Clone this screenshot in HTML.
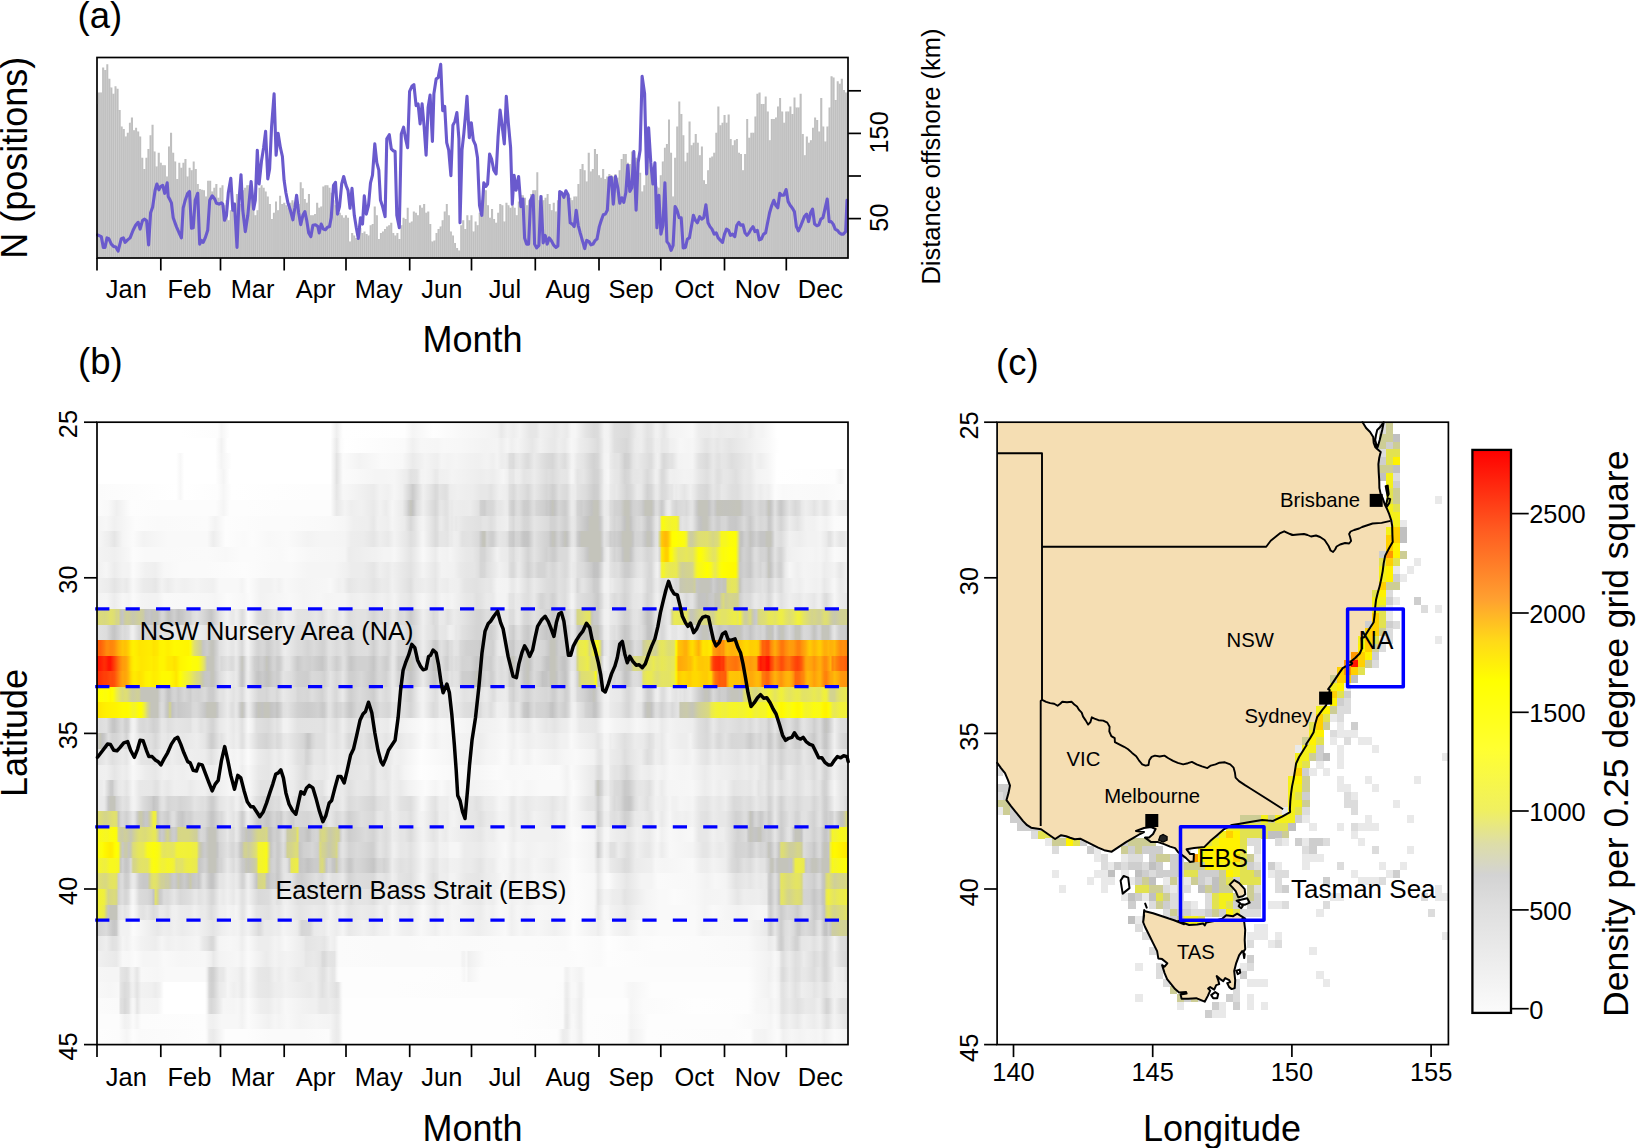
<!DOCTYPE html>
<html lang="en"><head><meta charset="utf-8"><title>Figure</title>
<style>html,body{margin:0;padding:0;background:#fff}body{width:1637px;height:1148px;overflow:hidden}#wrap{position:relative;width:1637px;height:1148px;background:#fff;overflow:hidden}svg{display:block;position:absolute;left:0;top:0}.hr{position:absolute;left:97px;width:751px;height:15.9px}text{font-family:"Liberation Sans", Arial, sans-serif;fill:#000}</style>
</head><body>
<div id="wrap">
<div class="hr" style="top:422.2px;background:linear-gradient(90deg,#fff 1px,#fff 83.3px,#fdfdfd 120.4px,#f6f6f6 124.5px,#fff 132.7px,#fff 215px,#fff 233.5px,#eee 239.7px,#fff 245.9px,#fefefe 307.6px,#f5f5f5 315.8px,#fefefe 336.4px,#f8f8f8 365.2px,#f5f5f5 387.8px,#f2f2f2 400.2px,#e9e9e9 404.3px,#f2f2f2 410.5px,#eee 416.7px,#f4f4f4 422.8px,#e6e6e6 433.1px,#e6e6e6 439.3px,#f0f0f0 443.4px,#ebebeb 453.7px,#e8e8e8 457.8px,#eee 464px,#eaeaea 470.1px,#f6f6f6 474.3px,#f6f6f6 478.4px,#e4e4e4 488.7px,#dbdbdb 496.9px,#dcdcdc 501px,#f3f3f3 507.2px,#f2f2f2 511.3px,#dfdfdf 517.5px,#dbdbdb 531.9px,#ededed 540.1px,#eee 544.2px,#e3e3e3 550.4px,#e6e6e6 554.5px,#f1f1f1 558.6px,#f2f2f2 560.7px,#e6e6e6 566.9px,#f3f3f3 573px,#f6f6f6 587.4px,#f8f8f8 595.7px,#ededed 601.8px,#ebebeb 612.1px,#efefef 616.2px,#ebebeb 622.4px,#ededed 630.6px,#ebebeb 640.9px,#f0f0f0 649.2px,#ededed 653.3px,#f4f4f4 659.4px,#f4f4f4 665.6px,#fff 680px,#fff 750px)"></div>
<div class="hr" style="top:437.8px;background:linear-gradient(90deg,#fff 1px,#fff 83.3px,#fff 118.3px,#f2f2f2 124.5px,#fff 130.7px,#fff 213px,#fff 233.5px,#e9e9e9 239.7px,#fbfbfb 243.8px,#fff 247.9px,#fafafa 307.6px,#f0f0f0 315.8px,#f7f7f7 324.1px,#f6f6f6 340.5px,#f8f8f8 346.7px,#f7f7f7 363.2px,#f3f3f3 387.8px,#f4f4f4 400.2px,#eee 404.3px,#f5f5f5 410.5px,#efefef 414.6px,#f4f4f4 420.8px,#e6e6e6 435.2px,#f1f1f1 443.4px,#e9e9e9 453.7px,#e8e8e8 457.8px,#eee 461.9px,#eaeaea 468.1px,#f7f7f7 474.3px,#f4f4f4 478.4px,#ededed 482.5px,#e7e7e7 490.7px,#dcdcdc 501px,#e8e8e8 505.1px,#f2f2f2 507.2px,#f3f3f3 511.3px,#dfdfdf 517.5px,#d7d7d7 529.8px,#dfdfdf 533.9px,#ebebeb 538px,#eee 544.2px,#e1e1e1 550.4px,#e3e3e3 554.5px,#efefef 558.6px,#eee 562.7px,#e7e7e7 564.8px,#eaeaea 571px,#f0f0f0 573px,#f1f1f1 577.1px,#f7f7f7 583.3px,#f5f5f5 591.5px,#f6f6f6 595.7px,#e5e5e5 608px,#e4e4e4 610.1px,#ebebeb 616.2px,#e6e6e6 620.3px,#eaeaea 624.5px,#e4e4e4 632.7px,#f3f3f3 659.4px,#fafafa 673.8px,#fff 682.1px,#fff 750px)"></div>
<div class="hr" style="top:453.3px;background:linear-gradient(90deg,#fff 1px,#fff 79.2px,#f7f7f7 83.3px,#fff 87.4px,#fff 118.3px,#f4f4f4 124.5px,#fff 134.8px,#fff 217.1px,#fff 233.5px,#eee 237.6px,#e2e2e2 239.7px,#fbfbfb 245.9px,#f3f3f3 262.3px,#fafafa 285px,#f8f8f8 305.5px,#eaeaea 315.8px,#f4f4f4 328.2px,#f0f0f0 336.4px,#efefef 340.5px,#f5f5f5 344.6px,#f3f3f3 350.8px,#f5f5f5 359px,#f2f2f2 369.3px,#f0f0f0 381.7px,#f3f3f3 389.9px,#efefef 396.1px,#f4f4f4 400.2px,#ededed 404.3px,#eee 408.4px,#eaeaea 410.5px,#dedede 412.5px,#dbdbdb 416.7px,#e5e5e5 418.7px,#e9e9e9 422.8px,#ddd 429px,#dbdbdb 431.1px,#eaeaea 437.2px,#dadada 449.6px,#d6d6d6 455.7px,#e5e5e5 461.9px,#dcdcdc 468.1px,#eaeaea 472.2px,#f3f3f3 474.3px,#f4f4f4 476.3px,#e9e9e9 480.4px,#e4e4e4 486.6px,#d8d8d8 492.8px,#d2d2d2 496.9px,#d6d6d6 501px,#f3f3f3 507.2px,#f5f5f5 511.3px,#ebebeb 513.4px,#e4e4e4 517.5px,#e4e4e4 521.6px,#d8d8d8 525.7px,#cfcfcf 527.8px,#d2d2d2 531.9px,#e4e4e4 536px,#eaeaea 540.1px,#e1e1e1 548.3px,#dcdcdc 552.4px,#ddd 554.5px,#ededed 558.6px,#f1f1f1 560.7px,#ebebeb 562.7px,#dedede 564.8px,#d8d8d8 566.9px,#e3e3e3 573px,#e2e2e2 575.1px,#f3f3f3 581.3px,#f4f4f4 587.4px,#f4f4f4 591.5px,#f5f5f5 595.7px,#e2e2e2 601.8px,#dadada 610.1px,#e9e9e9 616.2px,#e2e2e2 620.3px,#e1e1e1 622.4px,#e6e6e6 624.5px,#e5e5e5 628.6px,#ddd 634.7px,#e3e3e3 643px,#e9e9e9 649.2px,#e9e9e9 653.3px,#f2f2f2 657.4px,#eee 663.6px,#fff 680px,#fff 750px)"></div>
<div class="hr" style="top:468.9px;background:linear-gradient(90deg,#fff 1px,#fff 79.2px,#f7f7f7 83.3px,#fff 87.4px,#fff 118.3px,#f4f4f4 126.5px,#fff 132.7px,#fff 215px,#fff 233.5px,#ededed 237.6px,#e1e1e1 239.7px,#fbfbfb 245.9px,#f5f5f5 278.8px,#f5f5f5 287px,#f6f6f6 297.3px,#ececec 309.7px,#e1e1e1 313.8px,#e4e4e4 319.9px,#f3f3f3 324.1px,#f4f4f4 328.2px,#f0f0f0 334.3px,#e9e9e9 338.5px,#eaeaea 340.5px,#f0f0f0 342.6px,#f1f1f1 350.8px,#f4f4f4 354.9px,#ededed 383.7px,#efefef 389.9px,#ededed 396.1px,#f6f6f6 406.4px,#f0f0f0 410.5px,#e7e7e7 412.5px,#e6e6e6 416.7px,#eee 418.7px,#ededed 422.8px,#e4e4e4 426.9px,#e6e6e6 433.1px,#ececec 437.2px,#ddd 449.6px,#dfdfdf 451.6px,#dbdbdb 455.7px,#e6e6e6 464px,#e5e5e5 470.1px,#f5f5f5 474.3px,#f4f4f4 476.3px,#e4e4e4 480.4px,#e6e6e6 486.6px,#d2d2d2 496.9px,#d3d3d3 501px,#e4e4e4 505.1px,#f2f2f2 507.2px,#f7f7f7 511.3px,#ededed 513.4px,#e7e7e7 517.5px,#e5e5e5 521.6px,#d4d4d4 527.8px,#d8d8d8 531.9px,#e5e5e5 536px,#e7e7e7 544.2px,#d9d9d9 550.4px,#e1e1e1 554.5px,#f0f0f0 558.6px,#eee 560.7px,#d9d9d9 564.8px,#dadada 566.9px,#f0f0f0 573px,#efefef 577.1px,#f3f3f3 587.4px,#f2f2f2 595.7px,#e7e7e7 601.8px,#dfdfdf 610.1px,#e9e9e9 616.2px,#dfdfdf 620.3px,#dfdfdf 622.4px,#e7e7e7 626.5px,#e6e6e6 630.6px,#dedede 638.9px,#eaeaea 647.1px,#e9e9e9 653.3px,#f3f3f3 659.4px,#f6f6f6 671.8px,#fff 680px,#fdfdfd 737.6px,#f5f5f5 743.8px,#fff 750px)"></div>
<div class="hr" style="top:484.4px;background:linear-gradient(90deg,#fbfbfb 1px,#fff 79.2px,#f7f7f7 83.3px,#fff 87.4px,#fdfdfd 120.4px,#f6f6f6 126.5px,#fff 134.8px,#fdfdfd 217.1px,#fdfdfd 233.5px,#e5e5e5 239.7px,#f7f7f7 245.9px,#f6f6f6 250px,#f1f1f1 262.3px,#ebebeb 276.7px,#f3f3f3 282.9px,#f0f0f0 291.1px,#f6f6f6 297.3px,#efefef 305.5px,#dadada 311.7px,#cacaca 315.8px,#f0f0f0 326.1px,#e3e3e3 334.3px,#d9d9d9 338.5px,#dbdbdb 340.5px,#e4e4e4 342.6px,#dfdfdf 348.8px,#e3e3e3 350.8px,#ededed 352.9px,#f0f0f0 361.1px,#eee 367.3px,#ededed 375.5px,#e7e7e7 383.7px,#e7e7e7 389.9px,#e2e2e2 394px,#f0f0f0 402.2px,#eee 408.4px,#ebebeb 410.5px,#dfdfdf 412.5px,#d9d9d9 416.7px,#e5e5e5 420.8px,#dedede 426.9px,#d7d7d7 431.1px,#e8e8e8 437.2px,#d6d6d6 449.6px,#d8d8d8 451.6px,#cfcfcf 455.7px,#d2d2d2 457.8px,#e1e1e1 461.9px,#dcdcdc 466px,#dadada 470.1px,#ededed 474.3px,#ececec 478.4px,#e3e3e3 480.4px,#dcdcdc 488.7px,#cdcdcd 496.9px,#cfcfcf 501px,#f1f1f1 507.2px,#f4f4f4 511.3px,#eaeaea 513.4px,#e6e6e6 517.5px,#e8e8e8 519.5px,#d3d3d3 529.8px,#d8d8d8 533.9px,#eaeaea 540.1px,#e8e8e8 544.2px,#d1d1d1 550.4px,#d7d7d7 554.5px,#e9e9e9 558.6px,#eaeaea 560.7px,#d9d9d9 564.8px,#dcdcdc 568.9px,#e6e6e6 573px,#e5e5e5 575.1px,#ededed 577.1px,#eaeaea 579.2px,#ededed 581.3px,#e5e5e5 587.4px,#ececec 591.5px,#f0f0f0 593.6px,#e7e7e7 597.7px,#dcdcdc 601.8px,#d6d6d6 610.1px,#e7e7e7 616.2px,#e0e0e0 620.3px,#e1e1e1 622.4px,#e8e8e8 624.5px,#e6e6e6 628.6px,#dedede 634.7px,#ddd 640.9px,#e8e8e8 647.1px,#e6e6e6 653.3px,#f0f0f0 659.4px,#ececec 663.6px,#f1f1f1 667.7px,#efefef 671.8px,#fcfcfc 678px,#f9f9f9 686.2px,#fafafa 698.5px,#f9f9f9 727.3px,#fcfcfc 745.9px,#fbfbfb 750px)"></div>
<div class="hr" style="top:500px;background:linear-gradient(90deg,#fbfbfb 1px,#f9f9f9 11.3px,#efefef 19.5px,#fdfdfd 33.9px,#fcfcfc 64.8px,#fcfcfc 118.3px,#f5f5f5 126.5px,#fdfdfd 132.7px,#fdfdfd 149.2px,#fcfcfc 186.2px,#fcfcfc 233.5px,#e8e8e8 239.7px,#f4f4f4 247.9px,#eee 254.1px,#f1f1f1 264.4px,#e9e9e9 276.7px,#f2f2f2 282.9px,#ebebeb 289.1px,#f6f6f6 295.3px,#ebebeb 305.5px,#d8d8d8 309.7px,#cacaca 311.7px,#c4c4bb 313.8px,#c2c2c2 315.8px,#ddd 319.9px,#efefef 326.1px,#d6d6d6 338.5px,#dbdbdb 340.5px,#e5e5e5 342.6px,#e7e7e7 344.6px,#e1e1e1 348.8px,#e3e3e3 350.8px,#ebebeb 352.9px,#e9e9e9 354.9px,#ededed 357px,#ebebeb 367.3px,#ececec 373.4px,#e1e1e1 381.7px,#d0d0d0 383.7px,#cdcdcd 387.8px,#d6d6d6 389.9px,#d8d8d8 396.1px,#e6e6e6 400.2px,#e7e7e7 404.3px,#ececec 408.4px,#eaeaea 410.5px,#d9d9d9 412.5px,#d0d0d0 414.6px,#cdcdcd 416.7px,#d9d9d9 418.7px,#dedede 420.8px,#dcdcdc 422.8px,#cdcdcd 426.9px,#ccc 431.1px,#dbdbdb 435.2px,#dedede 437.2px,#d6d6d6 439.3px,#cecece 447.5px,#c9c9c9 449.6px,#cacaca 451.6px,#c3c3c3 453.7px,#c4c4bb 455.7px,#c3c3c3 457.8px,#d5d5d5 461.9px,#cbcbcb 468.1px,#d1d1d1 470.1px,#ebebeb 474.3px,#ebebeb 476.3px,#e4e4e4 478.4px,#d3d3d3 480.4px,#cecece 484.5px,#d1d1d1 486.6px,#c2c2c1 494.8px,#c4c4bb 496.9px,#c4c4bb 501px,#cfcfcf 503.1px,#ebebeb 507.2px,#e9e9e9 511.3px,#dbdbdb 513.4px,#d9d9d9 515.4px,#d2d2d2 517.5px,#d1d1d1 521.6px,#cfcfcf 523.6px,#c4c4bb 527.8px,#c4c4bb 531.9px,#c7c7c7 533.9px,#d1d1d1 536px,#d4d4d4 540.1px,#cfcfcf 544.2px,#c7c7c7 546.3px,#c4c4bb 548.3px,#c4c4bb 554.5px,#cbcbcb 556.6px,#dbdbdb 558.6px,#ddd 560.7px,#c9c9c9 564.8px,#d3d3d3 566.9px,#e3e3e3 568.9px,#ececec 571px,#ebebeb 573px,#dedede 575.1px,#d4d4d4 579.2px,#d9d9d9 581.3px,#dcdcdc 587.4px,#d8d8d8 589.5px,#e3e3e3 593.6px,#e3e3e3 595.7px,#c9c9c9 599.8px,#c4c4bb 601.8px,#c4c4bb 610.1px,#c3c3c3 612.1px,#cdcdcd 614.2px,#d2d2d2 616.2px,#c8c8c8 618.3px,#c4c4bb 620.3px,#c3c3be 628.6px,#c4c4bb 640.9px,#c4c4bb 643px,#c7c7c7 645px,#d0d0d0 647.1px,#cecece 653.3px,#d9d9d9 657.4px,#dbdbdb 659.4px,#d2d2d2 663.6px,#d4d4d4 667.7px,#ccc 669.7px,#c4c4bb 671.8px,#c5c5c5 673.8px,#e2e2e2 678px,#cdcdcd 682.1px,#c7c7c7 684.1px,#dedede 690.3px,#e4e4e4 692.4px,#d8d8d8 698.5px,#dedede 702.6px,#e8e8e8 704.7px,#eee 708.8px,#e8e8e8 715px,#e3e3e3 717.1px,#eee 723.2px,#e4e4e4 727.3px,#e4e4e4 729.4px,#f5f5f5 735.6px,#f7f7f7 737.6px,#ededed 743.8px,#ececec 750px)"></div>
<div class="hr" style="top:515.6px;background:linear-gradient(90deg,#f5f5f5 1px,#f7f7f7 9.3px,#f0f0f0 17.5px,#fcfcfc 38.1px,#fafafa 60.7px,#fbfbfb 110.1px,#f3f3f3 118.3px,#fdfdfd 128.6px,#fbfbfb 167.7px,#fbfbfb 192.4px,#f9f9f9 231.5px,#f6f6f6 247.9px,#efefef 256.2px,#eee 270.6px,#e7e7e7 276.7px,#f1f1f1 280.9px,#eee 291.1px,#f5f5f5 295.3px,#ebebeb 307.6px,#d7d7d7 313.8px,#efefef 322px,#f4f4f4 326.1px,#e5e5e5 334.3px,#dbdbdb 338.5px,#dfdfdf 340.5px,#e9e9e9 342.6px,#ebebeb 344.6px,#e3e3e3 348.8px,#e3e3e3 350.8px,#ebebeb 352.9px,#e8e8e8 354.9px,#ececec 357px,#e8e8e8 359px,#ebebeb 361.1px,#e5e5e5 367.3px,#e0e0e0 383.7px,#e4e4e4 385.8px,#e4e4e4 389.9px,#dedede 394px,#e4e4e4 398.1px,#ebebeb 400.2px,#efefef 410.5px,#e1e1e1 412.5px,#d8d8d8 416.7px,#e2e2e2 418.7px,#e1e1e1 422.8px,#d6d6d6 426.9px,#d5d5d5 431.1px,#e5e5e5 437.2px,#dadada 451.6px,#d2d2d2 453.7px,#d2d2d2 457.8px,#dbdbdb 461.9px,#d0d0d0 468.1px,#d2d2d2 470.1px,#e7e7e7 474.3px,#e8e8e8 476.3px,#e4e4e4 478.4px,#d7d7d7 480.4px,#c3c3c3 490.7px,#c4c4bb 492.8px,#c4c4bb 501px,#c5c5c5 503.1px,#d4d4d4 505.1px,#e9e9e9 507.2px,#ededed 511.3px,#dedede 513.4px,#d4d4d4 517.5px,#d7d7d7 519.5px,#d2d2d2 523.6px,#c2c2c2 527.8px,#c4c4bb 529.8px,#c4c4bb 531.9px,#c3c3c3 533.9px,#cfcfcf 536px,#dadada 540.1px,#d9d9d9 542.2px,#ddd 544.2px,#cfcfcf 548.3px,#c6c6c6 550.4px,#c5c5c5 552.4px,#cbcbcb 554.5px,#e4e4e4 558.6px,#e8e8e8 560.7px,#d9d9d9 562.7px,#fafa13 564.8px,#fafa14 566.9px,#f6f623 568.9px,#f2f233 573px,#f5f528 575.1px,#f4f42b 577.1px,#f6f625 579.2px,#eaea4f 581.3px,#dedede 583.3px,#e4e4e4 585.4px,#e0e0e0 589.5px,#e8e8e8 593.6px,#e5e5e5 595.7px,#c6c6c6 601.8px,#c2c2c2 603.9px,#c4c4bb 605.9px,#c4c4bb 610.1px,#d2d2d2 614.2px,#d8d8d8 616.2px,#cdcdcd 620.3px,#cdcdcd 622.4px,#d5d5d5 624.5px,#d6d6d6 628.6px,#c9c9c9 632.7px,#c7c7c7 638.9px,#cfcfcf 643px,#dadada 647.1px,#c9c9c9 653.3px,#dedede 659.4px,#d7d7d7 663.6px,#dadada 667.7px,#d6d6d6 669.7px,#c7c7c7 671.8px,#cbcbcb 673.8px,#e5e5e5 678px,#d3d3d3 684.1px,#ededed 692.4px,#e3e3e3 700.6px,#f2f2f2 708.8px,#f1f1f1 717.1px,#f6f6f6 723.2px,#f2f2f2 729.4px,#fbfbfb 737.6px,#fafafa 750px)"></div>
<div class="hr" style="top:531.1px;background:linear-gradient(90deg,#f6f6f6 1px,#eee 11.3px,#e5e5e5 17.5px,#f5f5f5 25.7px,#fbfbfb 36px,#f3f3f3 46.3px,#f9f9f9 71px,#f9f9f9 110.1px,#ededed 116.3px,#fdfdfd 128.6px,#fafafa 147.1px,#fcfcfc 155.3px,#f8f8f8 171.8px,#fafafa 190.3px,#f3f3f3 210.9px,#f5f5f5 223.2px,#f5f5f5 235.6px,#f4f4f4 247.9px,#ededed 254.1px,#ececec 266.5px,#e5e5e5 276.7px,#eee 282.9px,#e9e9e9 291.1px,#f3f3f3 297.3px,#e6e6e6 309.7px,#dedede 313.8px,#e3e3e3 317.9px,#f3f3f3 324.1px,#f6f6f6 326.1px,#dbdbdb 338.5px,#ddd 340.5px,#e6e6e6 342.6px,#e6e6e6 346.7px,#e4e4e4 350.8px,#ebebeb 352.9px,#eaeaea 354.9px,#efefef 357px,#ededed 361.1px,#e1e1e1 365.2px,#e2e2e2 373.4px,#d9d9d9 381.7px,#cacaca 383.7px,#c4c4bb 385.8px,#c4c4bb 387.8px,#d6d6d6 389.9px,#cecece 394px,#cecece 396.1px,#e1e1e1 400.2px,#e6e6e6 402.2px,#e3e3e3 408.4px,#dedede 410.5px,#cecece 412.5px,#c8c8c8 416.7px,#d5d5d5 418.7px,#d4d4d4 422.8px,#cacaca 424.9px,#c5c5c5 426.9px,#c4c4c4 431.1px,#e2e2e2 437.2px,#dbdbdb 441.3px,#cfcfcf 451.6px,#c4c4c4 453.7px,#c4c4bb 455.7px,#c3c3bf 457.8px,#cdcdcd 459.9px,#d3d3d3 461.9px,#c6c6c6 466px,#c4c4bb 468.1px,#c2c2c1 470.1px,#e3e3e3 474.3px,#e7e7e7 476.3px,#e0e0e0 478.4px,#cdcdcd 480.4px,#c4c4c4 482.5px,#c4c4bb 484.5px,#c4c4bb 503.1px,#cfcfcf 505.1px,#e3e3e3 507.2px,#dcdcdc 511.3px,#cecece 513.4px,#d0d0d0 515.4px,#ccc 517.5px,#cecece 519.5px,#c7c7c7 523.6px,#c4c4bb 525.7px,#c4c4bb 533.9px,#c5c5c5 536px,#d4d4d4 538px,#d5d5d5 544.2px,#c6c6c6 548.3px,#c4c4bb 550.4px,#c4c4bb 552.4px,#c4c4c4 554.5px,#e0e0e0 558.6px,#e2e2e2 560.7px,#d5d58a 562.7px,#ffca03 564.8px,#ffbe07 566.9px,#ffb808 568.9px,#ffc305 571px,#fffd00 575.1px,#ff0 579.2px,#fcfc0b 581.3px,#fdfd08 583.3px,#fbfb12 587.4px,#f1f137 589.5px,#d6d686 591.5px,#cccca2 593.6px,#cece9c 595.7px,#d9d97e 599.8px,#dede74 601.8px,#dfdf6f 608px,#e0e06e 610.1px,#d6d686 616.2px,#dada7c 618.3px,#dbdb7a 620.3px,#e4e461 622.4px,#f7f71f 624.5px,#f7f71f 628.6px,#fcfc0b 632.7px,#fdfd06 638.9px,#e5e560 640.9px,#c4c4bb 643px,#c2c2c2 645px,#cdcdcd 647.1px,#d0d0d0 649.2px,#cbcbcb 651.2px,#c3c3bf 653.3px,#c5c5c5 655.3px,#d1d1d1 659.4px,#c5c5c5 663.6px,#c5c5c5 667.7px,#c4c4bb 669.7px,#c4c4bb 673.8px,#cfcfcf 675.9px,#e4e4e4 678px,#dcdcdc 684.1px,#f1f1f1 692.4px,#ededed 702.6px,#f2f2f2 710.9px,#f2f2f2 719.1px,#f4f4f4 723.2px,#eaeaea 729.4px,#e2e2e2 731.5px,#e2e2e2 733.5px,#f1f1f1 737.6px,#e5e5e5 743.8px,#e8e8e8 747.9px,#f0f0f0 750px)"></div>
<div class="hr" style="top:546.7px;background:linear-gradient(90deg,#f3f3f3 1px,#f1f1f1 11.3px,#efefef 17.5px,#f7f7f7 31.9px,#fcfcfc 36px,#f9f9f9 48.4px,#f9f9f9 62.8px,#fafafa 110.1px,#f8f8f8 128.6px,#fbfbfb 143px,#fbfbfb 155.3px,#f9f9f9 184.1px,#fbfbfb 192.4px,#f7f7f7 213px,#f6f6f6 237.6px,#f5f5f5 247.9px,#ececec 252px,#f0f0f0 272.6px,#f1f1f1 278.8px,#f4f4f4 287px,#f4f4f4 293.2px,#f7f7f7 297.3px,#eee 305.5px,#e4e4e4 313.8px,#f9f9f9 326.1px,#ebebeb 338.5px,#f4f4f4 342.6px,#f2f2f2 350.8px,#f5f5f5 352.9px,#ececec 363.2px,#e8e8e8 369.3px,#e7e7e7 375.5px,#dfdfdf 381.7px,#d4d4d4 383.7px,#d4d4d4 387.8px,#dcdcdc 389.9px,#e2e2e2 394px,#f2f2f2 400.2px,#ececec 404.3px,#eaeaea 410.5px,#e0e0e0 412.5px,#dbdbdb 416.7px,#e4e4e4 418.7px,#e8e8e8 422.8px,#d3d3d3 431.1px,#e3e3e3 437.2px,#d0d0d0 449.6px,#d4d4d4 451.6px,#ccc 455.7px,#ccc 457.8px,#dadada 461.9px,#dadada 470.1px,#ececec 474.3px,#eee 476.3px,#eaeaea 478.4px,#e0e0e0 480.4px,#d3d3d3 486.6px,#c5c5c5 490.7px,#c4c4bb 492.8px,#c4c4bb 503.1px,#c9c9c9 505.1px,#e2e2e2 507.2px,#ebebeb 509.2px,#efefef 511.3px,#e0e0e0 513.4px,#d3d3d3 517.5px,#d7d7d7 519.5px,#d0d0d0 523.6px,#c4c4c4 525.7px,#c4c4bb 527.8px,#c4c4bb 531.9px,#c3c3c3 533.9px,#dadada 538px,#dfdfdf 540.1px,#e1e1e1 544.2px,#d5d5d5 550.4px,#d8d8d8 554.5px,#e6e6e6 558.6px,#e9e9e9 560.7px,#d6d6d6 562.7px,#ffe800 564.8px,#ffce02 568.9px,#ffd201 571px,#fff800 573px,#fbfb0e 575.1px,#f2f233 577.1px,#ecec47 579.2px,#e3e365 581.3px,#e4e463 585.4px,#e7e75a 589.5px,#e3e366 593.6px,#e3e364 595.7px,#fdfd08 601.8px,#fdfd09 603.9px,#fafa15 605.9px,#e8e856 614.2px,#e4e462 616.2px,#e5e561 618.3px,#f5f527 622.4px,#fafa14 624.5px,#fcfc0a 626.5px,#fcfc0e 628.6px,#ffff02 632.7px,#fefe02 638.9px,#e3e365 640.9px,#c4c4bb 643px,#ccc 645px,#d2d2d2 647.1px,#c7c7c7 653.3px,#dcdcdc 657.4px,#dedede 659.4px,#d3d3d3 663.6px,#d4d4d4 667.7px,#cfcfcf 669.7px,#c3c3be 671.8px,#c9c9c9 673.8px,#e3e3e3 678px,#d5d5d5 682.1px,#d3d3d3 684.1px,#eee 690.3px,#f1f1f1 694.4px,#f4f4f4 706.8px,#f5f5f5 715px,#f3f3f3 719.1px,#f5f5f5 723.2px,#eee 729.4px,#fafafa 737.6px,#f5f5f5 750px)"></div>
<div class="hr" style="top:562.2px;background:linear-gradient(90deg,#f1f1f1 1px,#f6f6f6 9.3px,#ececec 17.5px,#f3f3f3 25.7px,#f3f3f3 31.9px,#fbfbfb 36px,#f1f1f1 48.4px,#efefef 58.6px,#f7f7f7 66.9px,#fafafa 83.3px,#fafafa 108px,#fbfbfb 128.6px,#fcfcfc 147.1px,#fbfbfb 157.4px,#f9f9f9 173.9px,#f9f9f9 194.4px,#f5f5f5 210.9px,#f5f5f5 237.6px,#f0f0f0 250px,#ececec 254.1px,#ececec 266.5px,#e5e5e5 276.7px,#efefef 282.9px,#eaeaea 291.1px,#f0f0f0 295.3px,#e2e2e2 313.8px,#f4f4f4 326.1px,#e7e7e7 338.5px,#f3f3f3 344.6px,#f1f1f1 357px,#e9e9e9 363.2px,#e6e6e6 369.3px,#e5e5e5 377.6px,#dfdfdf 381.7px,#d5d5d5 383.7px,#d7d7d7 387.8px,#dfdfdf 389.9px,#eaeaea 398.1px,#f1f1f1 402.2px,#ebebeb 410.5px,#dfdfdf 412.5px,#d9d9d9 414.6px,#d9d9d9 416.7px,#e9e9e9 420.8px,#e9e9e9 422.8px,#d0d0d0 431.1px,#dfdfdf 437.2px,#d4d4d4 441.3px,#d4d4d4 447.5px,#ddd 451.6px,#d6d6d6 455.7px,#d7d7d7 457.8px,#e1e1e1 461.9px,#d9d9d9 468.1px,#dbdbdb 470.1px,#ececec 474.3px,#e8e8e8 478.4px,#dfdfdf 480.4px,#dbdbdb 486.6px,#cacaca 494.8px,#c2c2c2 496.9px,#c3c3c3 501px,#dcdcdc 505.1px,#eee 507.2px,#efefef 511.3px,#e3e3e3 513.4px,#ddd 517.5px,#dedede 521.6px,#ccc 527.8px,#ccc 531.9px,#e3e3e3 540.1px,#e7e7e7 544.2px,#d6d6d6 552.4px,#d8d8d8 554.5px,#ededed 558.6px,#f2f2f2 560.7px,#e3e3e3 562.7px,#f4f42d 564.8px,#f4f42c 566.9px,#ecec49 568.9px,#e8e856 573px,#e9e951 575.1px,#e8e855 577.1px,#eaea4e 579.2px,#d4d48c 583.3px,#cfcf9a 585.4px,#d2d290 589.5px,#d3d38e 593.6px,#d6d688 595.7px,#e8e855 597.7px,#f5f527 599.8px,#f9f919 601.8px,#f9f917 603.9px,#ff0 610.1px,#fdfd09 612.1px,#f8f81d 614.2px,#efef40 616.2px,#e9e953 618.3px,#f8f81b 622.4px,#fdfd07 624.5px,#fffd00 626.5px,#fff900 636.8px,#fffa00 638.9px,#c7c7c7 643px,#d0d0d0 647.1px,#c6c6c6 653.3px,#d9d9d9 657.4px,#dcdcdc 659.4px,#d4d4d4 663.6px,#dbdbdb 665.6px,#dadada 667.7px,#d1d1d1 669.7px,#c4c4bb 671.8px,#c5c5c5 673.8px,#e0e0e0 678px,#d1d1d1 682.1px,#d0d0d0 684.1px,#eaeaea 688.2px,#f7f7f7 692.4px,#efefef 700.6px,#f4f4f4 706.8px,#f2f2f2 719.1px,#f3f3f3 723.2px,#ececec 727.3px,#f3f3f3 737.6px,#e6e6e6 743.8px,#f1f1f1 750px)"></div>
<div class="hr" style="top:577.8px;background:linear-gradient(90deg,#f0f0f0 1px,#ececec 11.3px,#e4e4e4 17.5px,#ededed 25.7px,#e9e9e9 29.8px,#f8f8f8 36px,#ebebeb 46.3px,#e9e9e9 54.5px,#e6e6e6 58.6px,#f2f2f2 64.8px,#ececec 71px,#f3f3f3 79.2px,#f0f0f0 87.4px,#f4f4f4 99.8px,#f2f2f2 106px,#f0f0f0 116.3px,#f8f8f8 122.4px,#f8f8f8 140.9px,#f4f4f4 145.1px,#fcfcfc 151.2px,#f2f2f2 163.6px,#f2f2f2 173.9px,#f5f5f5 178px,#f2f2f2 182.1px,#f8f8f8 188.3px,#f4f4f4 204.7px,#f6f6f6 229.4px,#f8f8f8 233.5px,#f0f0f0 241.8px,#f2f2f2 245.9px,#e6e6e6 252px,#ebebeb 262.3px,#e9e9e9 270.6px,#e3e3e3 276.7px,#ebebeb 285px,#e9e9e9 291.1px,#f1f1f1 295.3px,#e3e3e3 309.7px,#dedede 313.8px,#e9e9e9 317.9px,#eee 328.2px,#e8e8e8 336.4px,#e5e5e5 338.5px,#efefef 342.6px,#ececec 350.8px,#f0f0f0 352.9px,#efefef 361.1px,#e5e5e5 367.3px,#e1e1e1 379.6px,#e7e7e7 389.9px,#e6e6e6 394px,#f4f4f4 400.2px,#f3f3f3 410.5px,#e9e9e9 414.6px,#e9e9e9 416.7px,#f1f1f1 420.8px,#dedede 431.1px,#eaeaea 437.2px,#dcdcdc 449.6px,#d8d8d8 457.8px,#e1e1e1 461.9px,#dcdcdc 468.1px,#e6e6e6 472.2px,#efefef 474.3px,#ededed 476.3px,#e6e6e6 478.4px,#d7d7d7 480.4px,#e3e3e3 484.5px,#e4e4e4 486.6px,#d4d4d4 494.8px,#ccc 496.9px,#cdcdcd 501px,#f2f2f2 507.2px,#f2f2f2 511.3px,#eaeaea 513.4px,#ebebeb 515.4px,#e6e6e6 517.5px,#e0e0e0 523.6px,#d6d6d6 527.8px,#dbdbdb 531.9px,#e9e9e9 538px,#ececec 544.2px,#e1e1e1 548.3px,#d8d8d8 550.4px,#d8d8d8 554.5px,#e9e9e9 558.6px,#ececec 560.7px,#ddd 564.8px,#dbdbdb 566.9px,#e8e8e8 573px,#d7d7d7 579.2px,#dadada 581.3px,#c7c7b3 583.3px,#cacaaa 589.5px,#c9c9ac 593.6px,#cacaa9 595.7px,#cece9d 597.7px,#c5c5c5 599.8px,#c4c4bb 603.9px,#c4c4bb 612.1px,#c4c4c4 614.2px,#cecece 616.2px,#c3c3c3 620.3px,#c4c4bd 622.4px,#c5c5c5 624.5px,#c4c4bb 626.5px,#c4c4bb 628.6px,#e1e16b 630.6px,#e2e268 632.7px,#e6e65b 634.7px,#e5e55f 638.9px,#dada7d 640.9px,#c4c4bb 643px,#d0d0d0 645px,#d7d7d7 647.1px,#d3d3d3 653.3px,#e0e0e0 659.4px,#dfdfdf 663.6px,#e3e3e3 665.6px,#ddd 669.7px,#d3d3d3 671.8px,#dfdfdf 675.9px,#e9e9e9 678px,#dbdbdb 684.1px,#eaeaea 688.2px,#f2f2f2 696.5px,#eee 702.6px,#f4f4f4 708.8px,#f0f0f0 719.1px,#f2f2f2 723.2px,#e8e8e8 727.3px,#ededed 731.5px,#f5f5f5 735.6px,#f7f7f7 737.6px,#e9e9e9 743.8px,#efefef 750px)"></div>
<div class="hr" style="top:593.4px;background:linear-gradient(90deg,#f4f4f4 1px,#f5f5f5 9.3px,#ececec 17.5px,#f6f6f6 25.7px,#f3f3f3 31.9px,#fafafa 36px,#f4f4f4 44.2px,#f2f2f2 54.5px,#f2f2f2 60.7px,#f9f9f9 66.9px,#f7f7f7 110.1px,#f5f5f5 118.3px,#fbfbfb 130.7px,#f7f7f7 147.1px,#fbfbfb 153.3px,#f2f2f2 163.6px,#f6f6f6 184.1px,#f8f8f8 192.4px,#f4f4f4 206.8px,#f6f6f6 223.2px,#f4f4f4 229.4px,#f5f5f5 237.6px,#f5f5f5 247.9px,#eee 254.1px,#f1f1f1 264.4px,#ebebeb 276.7px,#f1f1f1 285px,#ededed 291.1px,#f4f4f4 297.3px,#ebebeb 303.5px,#e8e8e8 309.7px,#e3e3e3 313.8px,#f0f0f0 319.9px,#f6f6f6 326.1px,#e9e9e9 338.5px,#f4f4f4 344.6px,#f1f1f1 350.8px,#f4f4f4 354.9px,#e7e7e7 369.3px,#e6e6e6 375.5px,#e0e0e0 379.6px,#e2e2e2 383.7px,#eaeaea 389.9px,#e9e9e9 396.1px,#f3f3f3 400.2px,#f3f3f3 408.4px,#efefef 410.5px,#e4e4e4 412.5px,#e2e2e2 416.7px,#eaeaea 418.7px,#e9e9e9 422.8px,#e1e1e1 426.9px,#dedede 431.1px,#e9e9e9 437.2px,#d5d5d5 443.4px,#d4d4d4 445.5px,#dadada 449.6px,#dadada 451.6px,#d0d0d0 455.7px,#d3d3d3 457.8px,#e2e2e2 461.9px,#dcdcdc 468.1px,#e9e9e9 472.2px,#f3f3f3 474.3px,#f2f2f2 476.3px,#e0e0e0 480.4px,#d5d5d5 494.8px,#ccc 499px,#cacaca 501px,#ddd 505.1px,#ececec 507.2px,#f0f0f0 511.3px,#e4e4e4 513.4px,#dbdbdb 517.5px,#dfdfdf 521.6px,#d3d3d3 527.8px,#d9d9d9 531.9px,#e5e5e5 536px,#e8e8e8 544.2px,#d5d5d5 550.4px,#dbdbdb 554.5px,#ececec 558.6px,#f0f0f0 560.7px,#e1e1e1 564.8px,#dfdfdf 566.9px,#ebebeb 573px,#e4e4e4 575.1px,#e5e5e5 577.1px,#dfdfdf 579.2px,#e4e4e4 581.3px,#e4e4e4 585.4px,#dadada 589.5px,#e2e2e2 593.6px,#e2e2e2 595.7px,#c3c3c0 601.8px,#c3c3c3 608px,#c4c4bb 610.1px,#c6c6c6 612.1px,#cacaca 616.2px,#c4c4bb 618.3px,#c4c4bb 622.4px,#d2d290 624.5px,#d9d97f 626.5px,#cfcf98 628.6px,#d4d48d 632.7px,#d3d38d 636.8px,#d1d192 638.9px,#d3d38e 640.9px,#cfcfcf 643px,#dcdcdc 647.1px,#dadada 653.3px,#e7e7e7 657.4px,#e9e9e9 659.4px,#e3e3e3 663.6px,#e6e6e6 667.7px,#d9d9d9 671.8px,#ddd 673.8px,#f0f0f0 678px,#e1e1e1 684.1px,#eee 692.4px,#e8e8e8 702.6px,#efefef 706.8px,#e9e9e9 715px,#e6e6e6 717.1px,#eee 721.2px,#eee 723.2px,#dedede 727.3px,#dcdcdc 729.4px,#f6f6f6 737.6px,#eaeaea 743.8px,#e8e8e8 750px)"></div>
<div class="hr" style="top:608.9px;background:linear-gradient(90deg,#dbdb7a 1px,#dada7d 5.1px,#d8d881 7.2px,#dcdc78 11.3px,#e1e16c 13.4px,#e0e06f 15.4px,#dcdc78 17.5px,#d5d58a 19.5px,#d7d785 21.6px,#c5c5b7 23.7px,#c5c5c5 25.7px,#cccca2 27.8px,#cfcf99 29.8px,#cece9c 31.9px,#c8c8af 36px,#cfcf99 42.2px,#cbcba5 46.3px,#c3c3c0 48.4px,#c6c6c6 52.5px,#c2c2c2 54.5px,#c4c4bb 56.6px,#c4c4bb 60.7px,#ccc 62.8px,#d6d6d6 64.8px,#d4d4d4 66.9px,#cbcbcb 68.9px,#c4c4bc 71px,#c3c3c3 73px,#cfcfcf 77.2px,#c3c3c3 81.3px,#c7c7c7 85.4px,#d0d0d0 89.5px,#d4d4d4 93.6px,#ddd 95.7px,#e2e2e2 99.8px,#d3d3d3 108px,#c5c5c5 114.2px,#e3e3e3 122.4px,#f0f0f0 128.6px,#f2f2f2 130.7px,#e9e9e9 134.8px,#e9e9e9 136.8px,#f0f0f0 138.9px,#ededed 140.9px,#ddd 145.1px,#e3e3e3 147.1px,#fafafa 151.2px,#f1f1f1 155.3px,#e1e1e1 159.5px,#dcdcdc 161.5px,#d8d8d8 169.7px,#e6e6e6 178px,#e0e0e0 180px,#e4e4e4 184.1px,#f0f0f0 188.3px,#eaeaea 196.5px,#e3e3e3 200.6px,#e2e2e2 210.9px,#e7e7e7 219.1px,#e0e0e0 225.3px,#ededed 231.5px,#e5e5e5 239.7px,#eee 245.9px,#dcdcdc 252px,#e2e2e2 260.3px,#e2e2e2 268.5px,#d5d5d5 276.7px,#dfdfdf 282.9px,#dbdbdb 291.1px,#e8e8e8 295.3px,#e8e8e8 297.3px,#dcdcdc 301.4px,#ddd 307.6px,#cbcbcb 313.8px,#efefef 326.1px,#e1e1e1 334.3px,#dadada 336.4px,#dfdfdf 340.5px,#eaeaea 342.6px,#e9e9e9 346.7px,#e1e1e1 350.8px,#ececec 357px,#e4e4e4 365.2px,#d5d5d5 379.6px,#d4d4d4 383.7px,#dedede 389.9px,#dadada 396.1px,#e6e6e6 402.2px,#e7e7e7 406.4px,#e7e7e7 410.5px,#ddd 412.5px,#dcdcdc 416.7px,#e7e7e7 418.7px,#ebebeb 420.8px,#e8e8e8 422.8px,#d8d8d8 426.9px,#d5d5d5 431.1px,#e2e2e2 437.2px,#d3d3d3 449.6px,#d3d3d3 451.6px,#c8c8c8 455.7px,#cacaca 457.8px,#dbdbdb 461.9px,#d3d3d3 468.1px,#ddd 472.2px,#ebebeb 474.3px,#ececec 476.3px,#ddd 478.4px,#d6d686 480.4px,#dd7 486.6px,#e2e269 488.7px,#e4e461 492.8px,#c4c4bb 494.8px,#c9c9c9 496.9px,#cbcbcb 501px,#f0f0f0 507.2px,#f1f1f1 511.3px,#eaeaea 513.4px,#e5e5e5 519.5px,#d1d1d1 527.8px,#d3d3d3 531.9px,#e2e2e2 536px,#e4e4e4 540.1px,#dcdcdc 544.2px,#c3c3c3 550.4px,#c3c3c3 552.4px,#c9c9c9 554.5px,#e3e3e3 558.6px,#e5e5e5 560.7px,#d7d7d7 564.8px,#e9e9e9 571px,#e4e4e4 573px,#d7d783 575.1px,#e8e857 577.1px,#e9e952 579.2px,#e5e55f 585.4px,#e5e55e 589.5px,#c5c5b9 593.6px,#c6c6b6 595.7px,#d6d688 603.9px,#dbdb7b 610.1px,#d1d193 616.2px,#dcdc77 618.3px,#e4e462 620.3px,#e6e65c 622.4px,#e3e366 624.5px,#e3e366 628.6px,#eaea4e 634.7px,#eded44 638.9px,#e5e560 640.9px,#f4f42c 643px,#e0e06f 645px,#cfcf99 647.1px,#cccca1 649.2px,#dada7c 653.3px,#cbcba5 655.3px,#c6c6c6 657.4px,#cacaca 659.4px,#d5d58a 661.5px,#dbdb7a 663.6px,#dede73 667.7px,#e2e268 669.7px,#e8e854 671.8px,#e7e75a 675.9px,#e3e365 678px,#ecec4a 682.1px,#ee4 684.1px,#ebeb4d 686.2px,#e5e55f 688.2px,#dede72 692.4px,#e5e560 696.5px,#ebeb4c 698.5px,#f0f03e 700.6px,#f0f03c 702.6px,#e3e367 706.8px,#d3d38f 715px,#d6d686 717.1px,#d1d193 721.2px,#d1d194 723.2px,#dede73 727.3px,#dede72 729.4px,#d9d980 731.5px,#d0d096 733.5px,#cbcba5 735.6px,#c8c8ae 737.6px,#d1d193 743.8px,#d1d193 747.9px,#d3d38f 750px)"></div>
<div class="hr" style="top:624.5px;background:linear-gradient(90deg,#e1e1e1 1px,#ddd 9.3px,#c8c8c8 15.4px,#c5c5c5 17.5px,#ddd 25.7px,#d9d9d9 27.8px,#dfdfdf 31.9px,#ececec 33.9px,#f0f0f0 36px,#d7d7d7 42.2px,#d8d8d8 52.5px,#d1d1d1 56.6px,#d5d5d5 60.7px,#e4e4e4 64.8px,#e1e1e1 71px,#ebebeb 77.2px,#e4e4e4 83.3px,#e5e5e5 91.6px,#e4e4e4 93.6px,#efefef 99.8px,#e8e8e8 108px,#d8d8d8 114.2px,#ddd 118.3px,#e6e6e6 122.4px,#e9e9e9 126.5px,#f1f1f1 130.7px,#eee 136.8px,#f3f3f3 138.9px,#e3e3e3 145.1px,#f9f9f9 151.2px,#ddd 169.7px,#eaeaea 178px,#e5e5e5 182.1px,#eee 186.2px,#e4e4e4 196.5px,#dedede 200.6px,#dfdfdf 210.9px,#e6e6e6 215px,#e2e2e2 223.2px,#ddd 227.4px,#e9e9e9 231.5px,#ebebeb 233.5px,#dfdfdf 239.7px,#e3e3e3 243.8px,#e9e9e9 245.9px,#dbdbdb 254.1px,#e2e2e2 260.3px,#ddd 272.6px,#dadada 276.7px,#e9e9e9 282.9px,#dfdfdf 289.1px,#dfdfdf 291.1px,#eee 295.3px,#eaeaea 299.4px,#e5e5e5 303.5px,#e1e1e1 307.6px,#d2d2d2 313.8px,#eee 326.1px,#e6e6e6 330.2px,#e3e3e3 334.3px,#dadada 338.5px,#dedede 340.5px,#e7e7e7 342.6px,#e5e5e5 348.8px,#f0f0f0 352.9px,#ededed 357px,#e7e7e7 359px,#e8e8e8 361.1px,#e0e0e0 365.2px,#d4d4d4 379.6px,#d4d4d4 383.7px,#d9d9d9 385.8px,#cecece 394px,#d7d7d7 398.1px,#e7e7e7 402.2px,#ececec 406.4px,#e5e5e5 410.5px,#d4d4d4 412.5px,#ccc 416.7px,#d9d9d9 418.7px,#dfdfdf 420.8px,#dfdfdf 422.8px,#cfcfcf 426.9px,#c8c8c8 431.1px,#dedede 437.2px,#d6d6d6 439.3px,#c6c6c6 449.6px,#c9c9c9 451.6px,#c3c3c3 453.7px,#c4c4bb 455.7px,#c4c4bb 457.8px,#c9c9c9 459.9px,#d4d4d4 464px,#d0d0d0 470.1px,#d8d8d8 472.2px,#e7e7e7 474.3px,#e7e7e7 476.3px,#dfdfdf 478.4px,#cacaca 480.4px,#c4c4c4 482.5px,#c4c4bb 484.5px,#c4c4bb 501px,#cdcdcd 503.1px,#d8d8d8 505.1px,#ebebeb 507.2px,#efefef 511.3px,#e4e4e4 513.4px,#dedede 517.5px,#e1e1e1 519.5px,#c6c6c6 527.8px,#ccc 531.9px,#dfdfdf 536px,#e2e2e2 540.1px,#ddd 542.2px,#dedede 544.2px,#d0d0d0 548.3px,#c4c4c4 550.4px,#c2c2c2 552.4px,#c6c6c6 554.5px,#e0e0e0 558.6px,#e4e4e4 560.7px,#d7d7d7 564.8px,#dadada 566.9px,#eaeaea 571px,#ededed 573px,#e6e6e6 575.1px,#e5e5e5 579.2px,#ebebeb 581.3px,#e7e7e7 585.4px,#dcdcdc 589.5px,#e6e6e6 593.6px,#e7e7e7 595.7px,#cacaca 601.8px,#c4c4c4 603.9px,#c4c4bb 605.9px,#c4c4bb 610.1px,#c5c5c5 612.1px,#d7d7d7 616.2px,#c2c2c2 622.4px,#c8c8c8 626.5px,#c9c9c9 628.6px,#c2c2c2 632.7px,#c2c2c2 636.8px,#c4c4bb 640.9px,#c4c4bd 643px,#c7c7c7 645px,#d1d1d1 647.1px,#ccc 651.2px,#c4c4c4 653.3px,#d5d5d5 659.4px,#d0d0d0 663.6px,#d5d5d5 665.6px,#d2d2d2 667.7px,#c4c4c4 669.7px,#c4c4bb 671.8px,#c4c4bb 673.8px,#c3c3c3 675.9px,#d9d9d9 678px,#c2c2c2 682.1px,#c4c4bb 684.1px,#c4c4bb 686.2px,#cacaca 688.2px,#d7d7d7 692.4px,#cbcbcb 696.5px,#c4c4bb 698.5px,#c4c4bb 702.6px,#cfcfcf 704.7px,#d9d9d9 706.8px,#d7d7d7 710.9px,#d4d4d4 712.9px,#c3c3bf 717.1px,#c8c8c8 719.1px,#d3d3d3 721.2px,#d3d3d3 723.2px,#c4c4bb 725.3px,#c4c4bb 731.5px,#cecece 733.5px,#dedede 735.6px,#e5e5e5 737.6px,#d2d2d2 741.7px,#cdcdcd 743.8px,#cdcdcd 747.9px,#c5c5c5 750px)"></div>
<div class="hr" style="top:640px;background:linear-gradient(90deg,#ff620a 1px,#ff5f0a 3.1px,#ff780b 7.2px,#ff890c 9.3px,#ff8b0c 11.3px,#ff850b 13.4px,#ff870c 15.4px,#ff8f0c 17.5px,#ffb009 21.6px,#ffc605 25.7px,#ffc006 27.8px,#ffc604 29.8px,#ffd401 31.9px,#ffe800 33.9px,#fff100 36px,#ffeb00 40.1px,#ffe500 42.2px,#ffeb00 52.5px,#ffea00 54.5px,#ffe300 56.6px,#ffe800 60.7px,#fff300 62.8px,#fff500 66.9px,#ffef00 71px,#fff900 77.2px,#fff700 85.4px,#fff500 91.6px,#fafa13 93.6px,#e9e954 95.7px,#dede73 97.7px,#d8d883 99.8px,#cece9b 103.9px,#c5c5c5 106px,#cdcdcd 110.1px,#c4c4bc 114.2px,#c3c3be 116.3px,#d4d4d4 120.4px,#e0e0e0 122.4px,#ececec 130.7px,#e6e6e6 134.8px,#e6e6e6 136.8px,#ededed 138.9px,#d9d9d9 145.1px,#efefef 149.2px,#f3f3f3 151.2px,#d7d7d7 159.5px,#d4d4d4 161.5px,#d8d8d8 165.6px,#d6d6d6 167.7px,#cfcfcf 169.7px,#cecece 171.8px,#dbdbdb 178px,#d7d7d7 180px,#d9d9d9 182.1px,#eaeaea 186.2px,#ededed 188.3px,#dcdcdc 200.6px,#dbdbdb 204.7px,#d4d4d4 210.9px,#dbdbdb 217.1px,#d2d2d2 225.3px,#d3d3d3 227.4px,#e0e0e0 231.5px,#e2e2e2 233.5px,#dbdbdb 239.7px,#e1e1e1 245.9px,#d2d2d2 252px,#ddd 260.3px,#dedede 270.6px,#cfcfcf 276.7px,#e1e1e1 282.9px,#ddd 287px,#d5d5d5 291.1px,#dadada 293.2px,#e6e6e6 295.3px,#e8e8e8 297.3px,#d9d9d9 301.4px,#d8d8d8 307.6px,#c8c8c8 313.8px,#ededed 326.1px,#d9d9d9 334.3px,#cdcdcd 336.4px,#c9c9c9 338.5px,#cecece 340.5px,#ddd 342.6px,#e1e1e1 344.6px,#d4d4d4 350.8px,#dedede 352.9px,#ddd 354.9px,#e5e5e5 357px,#e3e3e3 361.1px,#d9d9d9 363.2px,#d1d1d1 369.3px,#cecece 381.7px,#c9c9c9 383.7px,#cfcfcf 385.8px,#cfcfcf 387.8px,#d5d5d5 389.9px,#d0d0d0 396.1px,#e5e5e5 400.2px,#eaeaea 402.2px,#e5e5e5 408.4px,#dedede 410.5px,#cdcdcd 412.5px,#c8c8c8 416.7px,#d6d6d6 418.7px,#d9d9d9 422.8px,#c9c9c9 426.9px,#c5c5c5 431.1px,#ddd 437.2px,#d4d4d4 447.5px,#c9c9c9 451.6px,#c4c4bb 453.7px,#c4c4bb 457.8px,#c6c6c6 459.9px,#cfcfcf 461.9px,#cbcbcb 468.1px,#d0d0d0 470.1px,#ececec 474.3px,#ededed 476.3px,#e5e5e5 478.4px,#dada7d 480.4px,#eaea50 482.5px,#ecec4a 486.6px,#eeee41 488.7px,#e9e954 490.7px,#d7d784 492.8px,#e4e464 494.8px,#f2f234 496.9px,#f7f71f 499px,#f7f720 501px,#e0e06d 503.1px,#c7c7c7 505.1px,#e5e5e5 507.2px,#ececec 511.3px,#dfdfdf 513.4px,#d5d5d5 517.5px,#d4d4d4 521.6px,#c3c3c3 525.7px,#c4c4bb 527.8px,#c4c4bb 531.9px,#c8c8c8 533.9px,#ddd 538px,#d4d4d4 544.2px,#cdcda0 546.3px,#d5d589 550.4px,#d6d687 554.5px,#cfcf9a 558.6px,#d8d883 560.7px,#e3e365 562.7px,#e6e65c 564.8px,#e5e560 566.9px,#dede74 571px,#dddd76 573px,#e0e06d 575.1px,#dfdf72 577.1px,#fffe00 579.2px,#ffc405 581.3px,#ffba08 585.4px,#ffb009 587.4px,#ffb009 589.5px,#ffd600 593.6px,#fd0 595.7px,#ffb009 601.8px,#ffe500 605.9px,#ffe100 610.1px,#ffe800 612.1px,#ffe700 614.2px,#ffa40a 616.2px,#ff8f0c 620.3px,#ff880c 622.4px,#ff930c 624.5px,#ff920c 626.5px,#ffb409 628.6px,#ffbe07 630.6px,#ffb209 634.7px,#ffb508 638.9px,#ffd401 647.1px,#ffd800 649.2px,#ffd501 651.2px,#ffcd03 653.3px,#ffd201 659.4px,#ffc605 661.5px,#ff910c 663.6px,#ff610a 665.6px,#ff640a 667.7px,#ff550a 669.7px,#ff570a 671.8px,#ff870c 673.8px,#ffae09 678px,#ff8b0c 682.1px,#ff770b 684.1px,#ff780b 686.2px,#ff890c 688.2px,#ff9e0b 692.4px,#ff9a0c 696.5px,#ff800b 700.6px,#ff810b 702.6px,#ff940c 704.7px,#ffac0a 708.8px,#ffc006 710.9px,#ffcc03 712.9px,#ffb608 717.1px,#ffbd07 719.1px,#ffc904 721.2px,#ffcd03 723.2px,#ffae09 727.3px,#ffaf09 729.4px,#ffb808 731.5px,#ffb109 733.5px,#ffb309 735.6px,#ffba08 737.6px,#ffa60a 739.7px,#ff8a0c 743.8px,#ff910c 745.9px,#ff8a0c 750px)"></div>
<div class="hr" style="top:655.6px;background:linear-gradient(90deg,#ff1803 1px,#ff1a03 3.1px,#ff2e05 7.2px,#ff2605 9.3px,#ff1603 11.3px,#ff1202 13.4px,#ff4208 17.5px,#ff770b 21.6px,#ff8d0c 23.7px,#ff9d0b 25.7px,#ff9e0b 27.8px,#ffa80a 29.8px,#ffc006 31.9px,#fd0 33.9px,#ffec00 36px,#fff000 38.1px,#ffe600 44.2px,#fe0 54.5px,#ffe900 56.6px,#ffed00 60.7px,#fff500 62.8px,#fff500 66.9px,#ffe900 71px,#ffe900 75.1px,#ffe100 77.2px,#ffe500 79.2px,#fff600 83.3px,#ff0 93.6px,#fdfd0a 95.7px,#fdfd08 99.8px,#fafa13 101.8px,#e7e75a 106px,#d9d97f 108px,#c4c4bb 110.1px,#c4c4bb 116.3px,#ccc 118.3px,#ddd 122.4px,#d8d8d8 124.5px,#e2e2e2 130.7px,#dadada 134.8px,#ddd 136.8px,#e8e8e8 138.9px,#e2e2e2 140.9px,#d0d0d0 143px,#c4c4bc 145.1px,#cfcfcf 147.1px,#e4e4e4 149.2px,#efefef 151.2px,#cfcfcf 157.4px,#c8c8c8 161.5px,#cecece 163.6px,#cecece 165.6px,#c8c8c8 167.7px,#c4c4bb 169.7px,#c3c3c3 171.8px,#d3d3d3 175.9px,#d4d4d4 178px,#cbcbcb 180px,#cbcbcb 182.1px,#d2d2d2 184.1px,#e0e0e0 186.2px,#e7e7e7 188.3px,#e5e5e5 192.4px,#cacaca 200.6px,#d3d3d3 206.8px,#cfcfcf 213px,#d2d2d2 215px,#c6c6c6 225.3px,#d2d2d2 229.4px,#dedede 231.5px,#ddd 233.5px,#cdcdcd 239.7px,#d7d7d7 243.8px,#e0e0e0 245.9px,#dedede 247.9px,#cacaca 252px,#c6c6c6 254.1px,#d1d1d1 260.3px,#d1d1d1 270.6px,#c5c5c5 276.7px,#d6d6d6 280.9px,#d9d9d9 282.9px,#cdcdcd 289.1px,#d0d0d0 291.1px,#e7e7e7 295.3px,#e6e6e6 297.3px,#cdcdcd 301.4px,#ccc 305.5px,#cdcdcd 307.6px,#c4c4c4 309.7px,#c4c4bb 311.7px,#c4c4bb 313.8px,#c5c5c5 315.8px,#e3e3e3 324.1px,#e6e6e6 326.1px,#d6d6d6 330.2px,#cecece 334.3px,#c2c2c2 336.4px,#c4c4bb 338.5px,#c8c8c8 340.5px,#dbdbdb 342.6px,#dedede 344.6px,#d0d0d0 348.8px,#cfcfcf 350.8px,#ddd 352.9px,#dbdbdb 354.9px,#e1e1e1 357px,#dcdcdc 359px,#dedede 361.1px,#d3d3d3 365.2px,#d4d4d4 373.4px,#c7c7c7 379.6px,#c9c9c9 381.7px,#c4c4c4 383.7px,#ccc 385.8px,#d1d1d1 389.9px,#cdcdcd 394px,#e2e2e2 400.2px,#ddd 404.3px,#e3e3e3 408.4px,#ddd 410.5px,#c7c7c7 412.5px,#c4c4bb 414.6px,#c4c4bb 416.7px,#cdcdcd 418.7px,#d5d5d5 420.8px,#d6d6d6 422.8px,#c6c6c6 426.9px,#c4c4bb 431.1px,#c5c5c5 433.1px,#dadada 437.2px,#d6d6d6 443.4px,#c3c3c3 449.6px,#c2c2c2 451.6px,#c4c4bb 453.7px,#c4c4bb 457.8px,#cecece 461.9px,#c4c4c4 466px,#c3c3c3 468.1px,#cbcbcb 470.1px,#e6e6e6 474.3px,#e6e6e6 476.3px,#e0e0e0 478.4px,#d5d589 480.4px,#e4e463 482.5px,#e7e759 486.6px,#ecec4a 490.7px,#dbdb7a 494.8px,#dddd75 496.9px,#dcdc78 499px,#d8d881 501px,#cfcf99 503.1px,#d4d4d4 505.1px,#f1f1f1 507.2px,#eaeaea 511.3px,#dbdbdb 513.4px,#d9d9d9 519.5px,#ccc 525.7px,#c4c4c4 527.8px,#c4c4bb 529.8px,#c3c3be 533.9px,#d3d38e 536px,#dada7c 538px,#d5d58b 544.2px,#d9d981 546.3px,#e3e366 550.4px,#e2e268 552.4px,#eaea50 556.6px,#e5e560 558.6px,#e3e365 560.7px,#e5e560 562.7px,#e8e854 564.8px,#e6e65d 568.9px,#e4e464 571px,#e3e365 573px,#e6e65d 575.1px,#e6e65d 577.1px,#fff500 579.2px,#ffaa0a 581.3px,#ffa90a 583.3px,#ffb309 589.5px,#ffbc07 591.5px,#ffbd07 593.6px,#ffdb00 597.7px,#ffc804 601.8px,#ffc704 605.9px,#ffcb03 608px,#ffca04 610.1px,#ffcf02 612.1px,#ff7a0b 614.2px,#ff4308 616.2px,#ff3206 618.3px,#ff2b05 622.4px,#ff3a07 624.5px,#ff3706 626.5px,#ff680b 628.6px,#ff810b 630.6px,#ff710b 638.9px,#ff780b 640.9px,#ff980c 645px,#ffa20b 647.1px,#ffa30b 651.2px,#ff9b0b 653.3px,#ffa50a 657.4px,#ffa10b 659.4px,#ff3d07 661.5px,#ff1603 663.6px,#ff2204 665.6px,#ff2304 667.7px,#ff0d02 669.7px,#ff0b01 671.8px,#ff3e07 673.8px,#ff550a 675.9px,#ff7b0b 678px,#ff5f0a 682.1px,#ff4b09 684.1px,#ff530a 686.2px,#ff670b 688.2px,#ff720b 690.3px,#ff750b 692.4px,#ff630a 694.4px,#ff4708 698.5px,#ff4008 700.6px,#ff4a09 702.6px,#ff5d0a 704.7px,#ffa40a 708.8px,#ffab0a 710.9px,#ffa20b 715px,#ff920c 717.1px,#ffaa0a 721.2px,#ffb009 723.2px,#ff8a0c 727.3px,#ff8c0c 729.4px,#ffb409 733.5px,#ff850b 735.6px,#ff920c 737.6px,#ff7f0b 739.7px,#ff670b 743.8px,#ff690b 745.9px,#ff5d0a 750px)"></div>
<div class="hr" style="top:671.2px;background:linear-gradient(90deg,#ff3006 1px,#ff3206 3.1px,#ff3f07 7.2px,#ff3f07 9.3px,#ff4b09 13.4px,#ff4a09 15.4px,#ff520a 17.5px,#ff670b 19.5px,#ff970c 23.7px,#ffa60a 25.7px,#ffa30a 27.8px,#ffaa0a 29.8px,#ffbc07 31.9px,#ffd800 33.9px,#ffe800 36px,#ffea00 38.1px,#ffe100 42.2px,#ffe900 46.3px,#fff100 48.4px,#fff500 52.5px,#ffed00 56.6px,#fff000 60.7px,#fffa00 64.8px,#fff900 73px,#fe0 77.2px,#ffe500 79.2px,#ffff01 83.3px,#f6f625 87.4px,#ebeb4c 93.6px,#e4e463 95.7px,#d8d881 99.8px,#d6d688 101.8px,#cfcf9a 103.9px,#c7c7b2 106px,#c6c6c6 108px,#c7c7c7 112.1px,#c4c4bb 114.2px,#c4c4bb 116.3px,#c9c9c9 118.3px,#dcdcdc 122.4px,#ededed 130.7px,#e5e5e5 136.8px,#eaeaea 138.9px,#e2e2e2 140.9px,#d0d0d0 143px,#c3c3c3 145.1px,#cfcfcf 147.1px,#e5e5e5 149.2px,#ededed 151.2px,#c7c7c7 159.5px,#c3c3c3 161.5px,#cacaca 165.6px,#c2c2c2 169.7px,#c3c3bf 171.8px,#cecece 175.9px,#d1d1d1 178px,#ccc 180px,#cfcfcf 182.1px,#e3e3e3 186.2px,#ddd 194.4px,#d0d0d0 200.6px,#cecece 210.9px,#d9d9d9 215px,#d6d6d6 223.2px,#d1d1d1 227.4px,#e4e4e4 233.5px,#d7d7d7 239.7px,#dedede 243.8px,#e6e6e6 245.9px,#d8d8d8 250px,#cfcfcf 252px,#cfcfcf 256.2px,#d8d8d8 264.4px,#c9c9c9 274.7px,#c8c8c8 276.7px,#d6d6d6 280.9px,#d8d8d8 282.9px,#d1d1d1 289.1px,#dfdfdf 293.2px,#e9e9e9 295.3px,#e6e6e6 297.3px,#d4d4d4 301.4px,#d4d4d4 307.6px,#c3c3c3 313.8px,#cfcfcf 317.9px,#ebebeb 326.1px,#c9c9c9 336.4px,#c7c7c7 338.5px,#d0d0d0 340.5px,#dedede 342.6px,#dfdfdf 344.6px,#d7d7d7 348.8px,#dadada 350.8px,#e4e4e4 352.9px,#dedede 354.9px,#e3e3e3 357px,#e1e1e1 361.1px,#cdcdcd 365.2px,#cdcdcd 369.3px,#ccc 373.4px,#c4c4c4 377.6px,#c4c4bb 379.6px,#c3c3c3 381.7px,#c2c2c2 383.7px,#cecece 385.8px,#d8d8d8 389.9px,#cecece 394px,#d0d0d0 396.1px,#e2e2e2 400.2px,#ddd 404.3px,#e1e1e1 408.4px,#ddd 410.5px,#ccc 412.5px,#c7c7c7 416.7px,#d7d7d7 418.7px,#ddd 420.8px,#dcdcdc 422.8px,#c6c6c6 426.9px,#c4c4bb 431.1px,#cacaca 433.1px,#dadada 437.2px,#ccc 443.4px,#c3c3c3 445.5px,#c4c4c4 449.6px,#c9c9c9 451.6px,#c4c4bb 453.7px,#c4c4bb 457.8px,#c4c4c4 459.9px,#d0d0d0 461.9px,#c7c7c7 466px,#c2c2c2 468.1px,#cacaca 470.1px,#ececec 474.3px,#ececec 476.3px,#e3e3e3 478.4px,#d2d2d2 480.4px,#d2d291 482.5px,#dddd75 484.5px,#e2e269 494.8px,#e5e55f 496.9px,#fdfd06 499px,#c4c4bb 501px,#c6c6c6 503.1px,#d2d2d2 505.1px,#e7e7e7 507.2px,#ebebeb 511.3px,#dbdbdb 513.4px,#d7d7d7 517.5px,#dcdcdc 519.5px,#d8d8d8 523.6px,#c4c4c4 527.8px,#c3c3c3 529.8px,#c8c8c8 531.9px,#dcdcdc 536px,#ddd 540.1px,#d6d6d6 544.2px,#e2e269 546.3px,#eaea4f 550.4px,#e9e953 554.5px,#e0e06d 558.6px,#dede74 560.7px,#e4e462 564.8px,#e3e365 571px,#e4e461 573px,#e9e953 575.1px,#e9e954 577.1px,#fff900 579.2px,#ffc904 581.3px,#ffd600 585.4px,#ffd700 587.4px,#ffce02 591.5px,#ffce02 593.6px,#ffd800 595.7px,#ffd900 599.8px,#ffcd03 605.9px,#ffcb03 610.1px,#ffd700 612.1px,#ffd700 614.2px,#ff970c 616.2px,#ff720b 618.3px,#ff5a0a 622.4px,#ff600a 624.5px,#ff5d0a 628.6px,#ffa20b 630.6px,#ffc604 632.7px,#ffc206 640.9px,#ffc505 643px,#ffb508 645px,#ffb608 649.2px,#ffb209 651.2px,#ffa80a 653.3px,#ffaa0a 655.3px,#ffba08 659.4px,#ffb908 661.5px,#ffac0a 663.6px,#ff790b 665.6px,#ff740b 667.7px,#ff650b 669.7px,#ff6a0b 671.8px,#ff8c0c 673.8px,#ffb409 678px,#ff930c 684.1px,#ffae09 688.2px,#ffb409 690.3px,#ffb409 692.4px,#ffa90a 694.4px,#ff910c 696.5px,#ff690b 698.5px,#ff680b 700.6px,#ff6e0b 702.6px,#ff800b 704.7px,#ff890c 706.8px,#ffa90a 708.8px,#ffba08 710.9px,#ffad09 715px,#ff9e0b 717.1px,#ffb109 721.2px,#ffb508 723.2px,#ff850b 727.3px,#ff800b 729.4px,#ffa60a 733.5px,#ffac09 735.6px,#ffbb07 737.6px,#ffa80a 741.7px,#ff990c 743.8px,#ff950c 747.9px,#ff970c 750px)"></div>
<div class="hr" style="top:686.7px;background:linear-gradient(90deg,#fefe03 1px,#ffff02 5.1px,#fdfd09 7.2px,#fdfd0a 9.3px,#ff0 11.3px,#fffa00 13.4px,#ffff01 15.4px,#f7f71f 17.5px,#eded44 19.5px,#e6e65d 21.6px,#dfdf71 23.7px,#dada7d 25.7px,#dede72 27.8px,#dddd76 29.8px,#d7d785 31.9px,#cfcf9b 33.9px,#cccca4 36px,#d0d097 40.1px,#cfcf9a 42.2px,#c4c4bb 44.2px,#c4c4bb 60.7px,#cfcfcf 62.8px,#d9d9d9 64.8px,#d7d7d7 66.9px,#c3c3c3 71px,#c5c5c5 73px,#d0d0d0 75.1px,#d4d4d4 77.2px,#d2d2d2 79.2px,#cacaca 81.3px,#d7d7d7 87.4px,#cdcdcd 93.6px,#d6d6d6 95.7px,#d3d3d3 101.8px,#dadada 108px,#cdcdcd 112.1px,#ccc 116.3px,#e3e3e3 122.4px,#e3e3e3 126.5px,#ececec 130.7px,#e2e2e2 136.8px,#e7e7e7 138.9px,#e6e6e6 140.9px,#dadada 145.1px,#ededed 149.2px,#f1f1f1 151.2px,#e1e1e1 157.4px,#d7d7d7 161.5px,#d7d7d7 167.7px,#d4d4d4 169.7px,#ddd 173.9px,#ddd 178px,#d6d6d6 180px,#e9e9e9 186.2px,#ddd 198.6px,#d6d6d6 200.6px,#d8d8d8 206.8px,#d6d6d6 210.9px,#dedede 215px,#d2d2d2 225.3px,#ddd 229.4px,#e5e5e5 231.5px,#e4e4e4 233.5px,#dadada 237.6px,#d8d8d8 239.7px,#e0e0e0 241.8px,#eaeaea 245.9px,#d1d1d1 252px,#cfcfcf 254.1px,#dbdbdb 262.3px,#d2d2d2 272.6px,#cdcdcd 276.7px,#e3e3e3 282.9px,#dadada 289.1px,#dfdfdf 293.2px,#eaeaea 295.3px,#ebebeb 299.4px,#d4d4d4 311.7px,#d3d3d3 313.8px,#eee 322px,#f3f3f3 326.1px,#dedede 338.5px,#e1e1e1 340.5px,#eaeaea 342.6px,#eaeaea 350.8px,#f0f0f0 352.9px,#ececec 354.9px,#eee 357px,#e9e9e9 359px,#eaeaea 361.1px,#e2e2e2 367.3px,#e4e4e4 373.4px,#dedede 379.6px,#eaeaea 387.8px,#eaeaea 389.9px,#ddd 396.1px,#e0e0e0 398.1px,#e9e9e9 400.2px,#ececec 408.4px,#e8e8e8 410.5px,#dadada 412.5px,#d1d1d1 416.7px,#dbdbdb 418.7px,#e1e1e1 422.8px,#d4d4d4 429px,#d2d2d2 431.1px,#ddd 437.2px,#d6d6d6 449.6px,#d8d8d8 451.6px,#cecece 455.7px,#cecece 457.8px,#dcdcdc 461.9px,#d7d7d7 466px,#cfcfcf 468.1px,#d0d0d0 470.1px,#d9d9d9 472.2px,#ebebeb 474.3px,#ececec 476.3px,#e7e7e7 478.4px,#d9d9d9 480.4px,#d2d2d2 486.6px,#c6c6c6 492.8px,#c5c5c5 494.8px,#c4c4bb 496.9px,#c7c7c7 499px,#d6d6d6 501px,#f1f1f1 507.2px,#f3f3f3 511.3px,#ebebeb 513.4px,#e8e8e8 523.6px,#d9d9d9 529.8px,#d8d8d8 531.9px,#ededed 540.1px,#ececec 544.2px,#d0d0d0 550.4px,#cfcfcf 552.4px,#d4d4d4 554.5px,#ececec 558.6px,#efefef 560.7px,#ddd 564.8px,#ddd 566.9px,#ececec 571px,#efefef 573px,#e8e8e8 575.1px,#e3e3e3 579.2px,#e8e8e8 581.3px,#e4e4e4 583.3px,#e6e6e6 585.4px,#e1e1e1 587.4px,#e9e9e9 593.6px,#cecece 601.8px,#c5c5c5 605.9px,#c4c4bb 608px,#c4c4bb 610.1px,#c2c2c0 612.1px,#d9d9d9 616.2px,#c9c9c9 622.4px,#cecece 624.5px,#cdcdcd 628.6px,#c5c5c5 630.6px,#c4c4bb 634.7px,#c4c4bb 640.9px,#c4c4c4 643px,#c4c4bb 645px,#dddd76 647.1px,#e1e16c 651.2px,#e1e16c 653.3px,#d9d980 657.4px,#d8d882 659.4px,#e1e16c 663.6px,#e6e65d 665.6px,#eaea4e 669.7px,#f0f03c 671.8px,#eeee42 673.8px,#e4e461 678px,#f1f138 684.1px,#eeee42 686.2px,#e9e952 688.2px,#e4e462 692.4px,#ebeb4d 698.5px,#ebeb4b 700.6px,#eaea51 702.6px,#e4e461 704.7px,#e2e268 706.8px,#e5e561 712.9px,#eaea50 717.1px,#e5e55f 721.2px,#e6e65d 723.2px,#eded46 725.3px,#f1f138 727.3px,#efef3f 729.4px,#d3d390 733.5px,#d3d38e 737.6px,#dcdc79 739.7px,#e5e55e 743.8px,#eaea4e 750px)"></div>
<div class="hr" style="top:702.3px;background:linear-gradient(90deg,#ffe400 1px,#ffeb00 5.1px,#fff000 9.3px,#fff400 19.5px,#fffb00 25.7px,#fffa00 29.8px,#fffd00 31.9px,#f9f917 33.9px,#f5f527 36px,#f6f624 38.1px,#fffd00 42.2px,#fefe05 44.2px,#f4f42b 46.3px,#e6e65c 48.4px,#d6d686 50.4px,#cbcba5 52.5px,#c4c4bb 54.5px,#c4c4bb 60.7px,#d4d4d4 62.8px,#dcdcdc 64.8px,#d8d8d8 66.9px,#cbcbcb 68.9px,#c4c4bb 71px,#d3d38d 73px,#c2c2c2 75.1px,#cdcdcd 79.2px,#c8c8c8 81.3px,#cdcdcd 89.5px,#cfcfcf 93.6px,#d8d8d8 95.7px,#d9d9d9 99.8px,#d0d0d0 103.9px,#c7c7c7 108px,#c4c4bb 110.1px,#c4c4bb 118.3px,#c7c7c7 120.4px,#d8d8d8 122.4px,#ebebeb 130.7px,#dedede 134.8px,#dfdfdf 136.8px,#e8e8e8 138.9px,#e0e0e0 140.9px,#ccc 143px,#c4c4bb 145.1px,#cacaca 147.1px,#e2e2e2 149.2px,#eee 151.2px,#e8e8e8 153.3px,#c5c5c5 159.5px,#c4c4bb 161.5px,#c2c2c2 165.6px,#c4c4bb 167.7px,#c4c4bb 171.8px,#c4c4c4 173.9px,#cacaca 178px,#c2c2c1 180px,#d2d2d2 184.1px,#e0e0e0 186.2px,#e2e2e2 190.3px,#d0d0d0 200.6px,#cbcbcb 210.9px,#d1d1d1 221.2px,#c9c9c9 225.3px,#cbcbcb 227.4px,#e2e2e2 231.5px,#e2e2e2 233.5px,#d4d4d4 237.6px,#d0d0d0 239.7px,#d6d6d6 241.8px,#d6d6d6 243.8px,#dcdcdc 245.9px,#c9c9c9 252px,#c7c7c7 254.1px,#d7d7d7 260.3px,#d7d7d7 266.5px,#c9c9c9 276.7px,#dcdcdc 282.9px,#d6d6d6 291.1px,#d9d9d9 293.2px,#e4e4e4 295.3px,#e2e2e2 299.4px,#dfdfdf 303.5px,#dedede 307.6px,#d5d5d5 313.8px,#f0f0f0 324.1px,#f3f3f3 326.1px,#dbdbdb 336.4px,#dfdfdf 340.5px,#e9e9e9 342.6px,#e7e7e7 346.7px,#e6e6e6 350.8px,#eee 352.9px,#ececec 357px,#e6e6e6 359px,#e7e7e7 361.1px,#dedede 367.3px,#dbdbdb 375.5px,#d8d8d8 379.6px,#dbdbdb 383.7px,#e3e3e3 385.8px,#e6e6e6 389.9px,#dedede 394px,#e8e8e8 398.1px,#f0f0f0 400.2px,#ededed 410.5px,#e0e0e0 412.5px,#d9d9d9 414.6px,#d8d8d8 416.7px,#e2e2e2 418.7px,#e6e6e6 420.8px,#e2e2e2 422.8px,#c9c9c9 426.9px,#c3c3c3 431.1px,#cfcfcf 433.1px,#dbdbdb 437.2px,#d4d4d4 439.3px,#d2d2d2 447.5px,#cdcdcd 451.6px,#c5c5c5 453.7px,#c3c3c3 455.7px,#d8d8d8 461.9px,#cdcdcd 468.1px,#d2d2d2 470.1px,#dcdcdc 472.2px,#ececec 474.3px,#f1f1f1 476.3px,#f0f0f0 478.4px,#e6e6e6 480.4px,#dbdbdb 486.6px,#d2d2d2 488.7px,#cbcbcb 494.8px,#c3c3c3 496.9px,#c5c5c5 499px,#f0f0f0 507.2px,#f1f1f1 511.3px,#eaeaea 513.4px,#e3e3e3 523.6px,#d7d7d7 529.8px,#d6d6d6 531.9px,#e9e9e9 538px,#e5e5e5 544.2px,#c6c6c6 548.3px,#c4c4bb 550.4px,#c4c4bb 552.4px,#c3c3c3 554.5px,#ddd 558.6px,#dedede 560.7px,#d1d1d1 564.8px,#e1e1e1 571px,#e1e1e1 573px,#d9d9d9 575.1px,#e4e4e4 581.3px,#c7c7b1 583.3px,#cacaaa 589.5px,#c6c6b6 593.6px,#c5c5b8 595.7px,#d0d097 601.8px,#d7d784 610.1px,#dada7c 612.1px,#eaea50 614.2px,#f1f139 618.3px,#f3f32e 622.4px,#f1f139 624.5px,#f0f03c 628.6px,#f4f42c 632.7px,#f5f528 638.9px,#f3f330 643px,#f3f330 645px,#f6f626 649.2px,#f9f917 653.3px,#f2f232 657.4px,#f1f13a 659.4px,#f5f527 663.6px,#f5f529 667.7px,#f8f81b 669.7px,#ffff01 671.8px,#fcfc0c 673.8px,#f0f03d 678px,#f4f42b 680px,#fdfd08 682.1px,#fff700 684.1px,#fffb00 686.2px,#fafa15 690.3px,#f9f919 692.4px,#fdfd09 694.4px,#fffe00 696.5px,#fff800 700.6px,#fffa00 702.6px,#fefe06 704.7px,#f7f720 706.8px,#f4f42b 708.8px,#f6f623 712.9px,#fcfc0d 717.1px,#fafa16 719.1px,#fbfb11 723.2px,#fffa00 725.3px,#fff400 727.3px,#fff300 729.4px,#fffa00 731.5px,#f7f71e 733.5px,#ebeb4c 735.6px,#e8e857 737.6px,#f1f138 743.8px,#f0f03b 747.9px,#f1f138 750px)"></div>
<div class="hr" style="top:717.8px;background:linear-gradient(90deg,#e2e2e2 1px,#ddd 3.1px,#e1e1e1 9.3px,#c7c7c7 15.4px,#c5c5c5 17.5px,#d9d9d9 23.7px,#dbdbdb 25.7px,#d1d1d1 27.8px,#cecece 29.8px,#d6d6d6 31.9px,#ebebeb 33.9px,#f3f3f3 36px,#f0f0f0 38.1px,#dbdbdb 42.2px,#d8d8d8 46.3px,#dcdcdc 50.4px,#d1d1d1 56.6px,#d5d5d5 60.7px,#e7e7e7 64.8px,#e4e4e4 68.9px,#dedede 71px,#e5e5e5 79.2px,#e1e1e1 93.6px,#e9e9e9 95.7px,#eaeaea 99.8px,#e1e1e1 103.9px,#e4e4e4 108px,#d5d5d5 114.2px,#d4d4d4 116.3px,#e8e8e8 122.4px,#f0f0f0 130.7px,#e8e8e8 136.8px,#ededed 138.9px,#ececec 140.9px,#e0e0e0 145.1px,#f9f9f9 151.2px,#f1f1f1 155.3px,#e0e0e0 159.5px,#dedede 163.6px,#dadada 171.8px,#e5e5e5 178px,#e0e0e0 180px,#e8e8e8 184.1px,#f2f2f2 186.2px,#f2f2f2 190.3px,#e2e2e2 200.6px,#e3e3e3 223.2px,#dfdfdf 227.4px,#eaeaea 231.5px,#e5e5e5 235.6px,#dfdfdf 239.7px,#eee 245.9px,#e1e1e1 252px,#e8e8e8 262.3px,#e2e2e2 274.7px,#ededed 282.9px,#eaeaea 291.1px,#f6f6f6 295.3px,#f4f4f4 299.4px,#f0f0f0 303.5px,#f6f6f6 315.8px,#fbfbfb 328.2px,#f4f4f4 338.5px,#f8f8f8 344.6px,#f6f6f6 350.8px,#f9f9f9 357px,#f0f0f0 383.7px,#f2f2f2 392px,#f3f3f3 398.1px,#f7f7f7 408.4px,#f0f0f0 412.5px,#ebebeb 416.7px,#f2f2f2 420.8px,#e8e8e8 431.1px,#f3f3f3 437.2px,#e7e7e7 449.6px,#e9e9e9 451.6px,#e4e4e4 457.8px,#ebebeb 464px,#ededed 470.1px,#f6f6f6 474.3px,#f3f3f3 478.4px,#eaeaea 482.5px,#e6e6e6 499px,#f9f9f9 507.2px,#f9f9f9 511.3px,#f4f4f4 517.5px,#efefef 531.9px,#f7f7f7 540.1px,#f2f2f2 548.3px,#eee 552.4px,#f3f3f3 560.7px,#eaeaea 564.8px,#f3f3f3 573px,#f0f0f0 579.2px,#efefef 587.4px,#ededed 595.7px,#dfdfdf 601.8px,#d7d7d7 610.1px,#e9e9e9 616.2px,#ddd 622.4px,#e2e2e2 630.6px,#dbdbdb 643px,#e0e0e0 649.2px,#dadada 653.3px,#e5e5e5 659.4px,#dcdcdc 663.6px,#dedede 667.7px,#dadada 669.7px,#cecece 671.8px,#dcdcdc 675.9px,#e6e6e6 678px,#cbcbcb 684.1px,#ddd 690.3px,#dfdfdf 692.4px,#cfcfcf 698.5px,#cdcdcd 700.6px,#e0e0e0 704.7px,#e4e4e4 706.8px,#d7d7d7 715px,#cecece 717.1px,#dadada 721.2px,#dcdcdc 723.2px,#c4c4c4 727.3px,#c3c3bf 729.4px,#c9c9c9 731.5px,#eee 737.6px,#dedede 743.8px,#dcdcdc 750px)"></div>
<div class="hr" style="top:733.4px;background:linear-gradient(90deg,#c8c8c8 1px,#c6c6b4 3.1px,#c2c2c2 5.1px,#c8c8c8 7.2px,#dfdfdf 11.3px,#d4d4d4 15.4px,#d5d5d5 19.5px,#e0e0e0 25.7px,#d2d2d2 29.8px,#f1f1f1 33.9px,#f6f6f6 36px,#ececec 40.1px,#e5e5e5 42.2px,#dfdfdf 54.5px,#d7d7d7 58.6px,#e2e2e2 62.8px,#e9e9e9 64.8px,#e8e8e8 68.9px,#e4e4e4 71px,#ededed 77.2px,#e7e7e7 85.4px,#ebebeb 95.7px,#ededed 99.8px,#e5e5e5 108px,#cdcdcd 114.2px,#cfcfcf 116.3px,#e4e4e4 122.4px,#e2e2e2 124.5px,#f0f0f0 130.7px,#e9e9e9 136.8px,#eee 138.9px,#ededed 140.9px,#dfdfdf 145.1px,#e4e4e4 147.1px,#efefef 149.2px,#f3f3f3 151.2px,#d9d9d9 161.5px,#d3d3d3 169.7px,#e0e0e0 178px,#d9d9d9 180px,#dedede 184.1px,#e7e7e7 186.2px,#e9e9e9 190.3px,#d5d5d5 206.8px,#c5c5c5 210.9px,#cacaca 213px,#d5d5d5 215px,#dfdfdf 219.1px,#dfdfdf 227.4px,#ececec 231.5px,#e7e7e7 235.6px,#e1e1e1 239.7px,#ebebeb 245.9px,#d8d8d8 252px,#e4e4e4 266.5px,#d5d5d5 274.7px,#e0e0e0 278.8px,#e9e9e9 280.9px,#e9e9e9 285px,#e4e4e4 289.1px,#e9e9e9 293.2px,#f0f0f0 295.3px,#e7e7e7 301.4px,#eee 309.7px,#eee 313.8px,#fbfbfb 326.1px,#f1f1f1 338.5px,#f6f6f6 344.6px,#f0f0f0 377.6px,#ededed 383.7px,#f3f3f3 392px,#f8f8f8 408.4px,#f0f0f0 416.7px,#f6f6f6 420.8px,#eee 431.1px,#f2f2f2 439.3px,#ebebeb 457.8px,#f1f1f1 464px,#f1f1f1 470.1px,#f9f9f9 474.3px,#f2f2f2 482.5px,#ebebeb 496.9px,#e4e4e4 501px,#ececec 505.1px,#f5f5f5 507.2px,#f4f4f4 511.3px,#ededed 513.4px,#efefef 515.4px,#dfdfdf 527.8px,#e5e5e5 533.9px,#ececec 538px,#eaeaea 546.3px,#dedede 552.4px,#e5e5e5 556.6px,#ededed 558.6px,#ededed 562.7px,#e8e8e8 564.8px,#f4f4f4 571px,#ededed 583.3px,#ededed 589.5px,#f3f3f3 593.6px,#e8e8e8 597.7px,#dfdfdf 601.8px,#d8d8d8 610.1px,#e6e6e6 616.2px,#dadada 620.3px,#d8d8d8 622.4px,#e3e3e3 628.6px,#d7d7d7 634.7px,#d9d9d9 647.1px,#cbcbcb 653.3px,#dbdbdb 659.4px,#d4d4d4 663.6px,#dbdbdb 665.6px,#ddd 667.7px,#d7d7d7 669.7px,#c9c9c9 671.8px,#cbcbcb 673.8px,#dedede 678px,#c2c2c1 684.1px,#c7c7c7 686.2px,#dbdbdb 690.3px,#e0e0e0 692.4px,#cfcfcf 698.5px,#cecece 702.6px,#dadada 704.7px,#e0e0e0 706.8px,#dfdfdf 708.8px,#c8c8c8 717.1px,#dadada 721.2px,#ddd 723.2px,#c7c7c7 727.3px,#c6c6c6 729.4px,#e8e8e8 735.6px,#f0f0f0 737.6px,#dadada 743.8px,#d2d2d2 750px)"></div>
<div class="hr" style="top:749px;background:linear-gradient(90deg,#e0e0e0 1px,#e5e5e5 5.1px,#ebebeb 9.3px,#dfdfdf 15.4px,#eaeaea 25.7px,#e5e5e5 29.8px,#fbfbfb 36px,#e5e5e5 44.2px,#e2e2e2 54.5px,#ddd 56.6px,#e2e2e2 60.7px,#ebebeb 62.8px,#ededed 66.9px,#e8e8e8 71px,#eee 75.1px,#e8e8e8 83.3px,#eee 91.6px,#ececec 108px,#e0e0e0 114.2px,#efefef 122.4px,#f7f7f7 130.7px,#f3f3f3 136.8px,#f6f6f6 140.9px,#f0f0f0 145.1px,#fbfbfb 151.2px,#ebebeb 161.5px,#e5e5e5 171.8px,#eee 178px,#e9e9e9 182.1px,#f2f2f2 188.3px,#ececec 194.4px,#e1e1e1 200.6px,#dedede 206.8px,#d4d4d4 208.8px,#d3d3d3 210.9px,#e7e7e7 217.1px,#e7e7e7 223.2px,#e3e3e3 227.4px,#ededed 231.5px,#e8e8e8 239.7px,#ededed 245.9px,#e2e2e2 254.1px,#e7e7e7 268.5px,#dfdfdf 276.7px,#ececec 282.9px,#e7e7e7 291.1px,#f1f1f1 297.3px,#efefef 303.5px,#fdfdfd 324.1px,#f9f9f9 340.5px,#f7f7f7 348.8px,#f0f0f0 367.3px,#f2f2f2 375.5px,#eee 379.6px,#f5f5f5 389.9px,#f6f6f6 398.1px,#fafafa 406.4px,#f8f8f8 410.5px,#f1f1f1 414.6px,#f8f8f8 422.8px,#f2f2f2 431.1px,#f8f8f8 437.2px,#f4f4f4 449.6px,#f1f1f1 457.8px,#f5f5f5 466px,#f7f7f7 472.2px,#f9f9f9 478.4px,#f2f2f2 496.9px,#e6e6e6 501px,#e4e4e4 503.1px,#e8e8e8 505.1px,#f3f3f3 507.2px,#f3f3f3 511.3px,#ececec 513.4px,#e8e8e8 519.5px,#e6e6e6 523.6px,#ddd 527.8px,#e5e5e5 533.9px,#ebebeb 540.1px,#ededed 544.2px,#ddd 550.4px,#e2e2e2 554.5px,#efefef 558.6px,#ededed 562.7px,#e8e8e8 564.8px,#efefef 568.9px,#f6f6f6 573px,#f0f0f0 589.5px,#f5f5f5 595.7px,#e8e8e8 603.9px,#e3e3e3 610.1px,#efefef 616.2px,#e7e7e7 622.4px,#ebebeb 626.5px,#e4e4e4 640.9px,#ebebeb 647.1px,#e4e4e4 653.3px,#e9e9e9 659.4px,#e5e5e5 663.6px,#e9e9e9 665.6px,#e8e8e8 667.7px,#e2e2e2 669.7px,#d5d5d5 671.8px,#dbdbdb 675.9px,#e4e4e4 678px,#d2d2d2 684.1px,#dfdfdf 690.3px,#dedede 696.5px,#d8d8d8 700.6px,#dadada 702.6px,#e7e7e7 706.8px,#dcdcdc 715px,#d8d8d8 717.1px,#e6e6e6 721.2px,#e7e7e7 723.2px,#d3d3d3 727.3px,#d1d1d1 729.4px,#d7d7d7 731.5px,#f5f5f5 737.6px,#e7e7e7 743.8px,#e4e4e4 750px)"></div>
<div class="hr" style="top:764.5px;background:linear-gradient(90deg,#efefef 1px,#f0f0f0 9.3px,#e5e5e5 17.5px,#eee 25.7px,#ebebeb 29.8px,#f8f8f8 36px,#ececec 48.4px,#e7e7e7 58.6px,#f1f1f1 66.9px,#eee 73px,#f0f0f0 79.2px,#eee 85.4px,#f5f5f5 103.9px,#f0f0f0 110.1px,#ececec 116.3px,#f4f4f4 122.4px,#f6f6f6 132.7px,#f4f4f4 136.8px,#f6f6f6 140.9px,#ededed 145.1px,#f8f8f8 151.2px,#e8e8e8 161.5px,#e5e5e5 171.8px,#eee 178px,#e9e9e9 180px,#ececec 184.1px,#f3f3f3 188.3px,#ececec 196.5px,#dadada 208.8px,#ebebeb 217.1px,#e8e8e8 227.4px,#f0f0f0 233.5px,#e9e9e9 239.7px,#f1f1f1 245.9px,#e4e4e4 252px,#e9e9e9 270.6px,#dfdfdf 274.7px,#dedede 276.7px,#ebebeb 280.9px,#e9e9e9 285px,#e5e5e5 289.1px,#eaeaea 293.2px,#f1f1f1 295.3px,#ededed 301.4px,#f4f4f4 307.6px,#fefefe 324.1px,#f6f6f6 369.3px,#f7f7f7 383.7px,#fbfbfb 400.2px,#f8f8f8 412.5px,#fafafa 461.9px,#f2f2f2 470.1px,#fafafa 474.3px,#ececec 492.8px,#eaeaea 496.9px,#dcdcdc 501px,#dcdcdc 503.1px,#e2e2e2 505.1px,#f2f2f2 507.2px,#f5f5f5 511.3px,#e9e9e9 513.4px,#e4e4e4 517.5px,#e4e4e4 521.6px,#dcdcdc 525.7px,#d4d4d4 529.8px,#e8e8e8 538px,#f0f0f0 544.2px,#ececec 552.4px,#f5f5f5 560.7px,#f1f1f1 566.9px,#f7f7f7 573px,#f5f5f5 585.4px,#f6f6f6 593.6px,#f0f0f0 601.8px,#ebebeb 608px,#f2f2f2 616.2px,#efefef 624.5px,#eee 630.6px,#e9e9e9 640.9px,#ededed 649.2px,#e9e9e9 653.3px,#eee 659.4px,#e5e5e5 663.6px,#e7e7e7 667.7px,#e3e3e3 669.7px,#d8d8d8 671.8px,#e1e1e1 675.9px,#eaeaea 678px,#d6d6d6 684.1px,#e9e9e9 690.3px,#ebebeb 692.4px,#dedede 700.6px,#e7e7e7 708.8px,#e4e4e4 712.9px,#dadada 717.1px,#e6e6e6 721.2px,#e7e7e7 723.2px,#d4d4d4 727.3px,#d2d2d2 729.4px,#ececec 735.6px,#f0f0f0 737.6px,#e4e4e4 743.8px,#e3e3e3 747.9px,#ddd 750px)"></div>
<div class="hr" style="top:780.1px;background:linear-gradient(90deg,#ebebeb 1px,#ececec 5.1px,#f0f0f0 7.2px,#cbcbcb 13.4px,#c9c9c9 15.4px,#d9d9d9 17.5px,#e8e8e8 21.6px,#ebebeb 25.7px,#e4e4e4 29.8px,#f6f6f6 36px,#e8e8e8 42.2px,#e7e7e7 54.5px,#e1e1e1 58.6px,#e2e2e2 60.7px,#ededed 64.8px,#e8e8e8 71px,#efefef 77.2px,#eee 89.5px,#eaeaea 93.6px,#efefef 99.8px,#f0f0f0 108px,#e5e5e5 114.2px,#efefef 122.4px,#f3f3f3 128.6px,#f6f6f6 132.7px,#f3f3f3 140.9px,#eaeaea 145.1px,#f6f6f6 149.2px,#f8f8f8 151.2px,#e2e2e2 163.6px,#e2e2e2 173.9px,#e7e7e7 178px,#e3e3e3 180px,#e8e8e8 184.1px,#efefef 186.2px,#ebebeb 196.5px,#e1e1e1 202.7px,#e4e4e4 217.1px,#e2e2e2 225.3px,#f1f1f1 231.5px,#eee 235.6px,#e8e8e8 239.7px,#eaeaea 245.9px,#dfdfdf 252px,#e8e8e8 260.3px,#e5e5e5 270.6px,#dedede 276.7px,#ececec 280.9px,#ebebeb 285px,#e6e6e6 291.1px,#f0f0f0 295.3px,#eaeaea 303.5px,#f2f2f2 311.7px,#fbfbfb 328.2px,#f5f5f5 338.5px,#f9f9f9 344.6px,#f3f3f3 350.8px,#f5f5f5 357px,#f3f3f3 365.2px,#f3f3f3 377.6px,#f8f8f8 398.1px,#fafafa 410.5px,#f7f7f7 416.7px,#f9f9f9 422.8px,#f6f6f6 431.1px,#f9f9f9 443.4px,#f9f9f9 464px,#f3f3f3 470.1px,#fbfbfb 476.3px,#e8e8e8 496.9px,#d3d3d3 499px,#c4c4bb 501px,#cdcdcd 503.1px,#d6d6d6 505.1px,#e7e7e7 507.2px,#ededed 511.3px,#e3e3e3 513.4px,#e1e1e1 515.4px,#dadada 517.5px,#d8d8d8 523.6px,#c9c9c9 527.8px,#ccc 531.9px,#e5e5e5 540.1px,#e6e6e6 546.3px,#dfdfdf 552.4px,#f2f2f2 558.6px,#f3f3f3 560.7px,#ebebeb 564.8px,#f5f5f5 571px,#f6f6f6 591.5px,#f7f7f7 595.7px,#ececec 608px,#f0f0f0 614.2px,#f3f3f3 616.2px,#eee 622.4px,#f2f2f2 628.6px,#e4e4e4 636.8px,#e7e7e7 645px,#e8e8e8 649.2px,#e6e6e6 653.3px,#ededed 657.4px,#ebebeb 659.4px,#e3e3e3 661.5px,#e9e9e9 667.7px,#dadada 671.8px,#e3e3e3 675.9px,#ededed 678px,#dfdfdf 684.1px,#e9e9e9 692.4px,#dedede 700.6px,#e4e4e4 704.7px,#eaeaea 708.8px,#e8e8e8 712.9px,#dedede 717.1px,#e5e5e5 721.2px,#e3e3e3 723.2px,#d7d7d7 725.3px,#d1d1d1 727.3px,#d3d3d3 729.4px,#e9e9e9 733.5px,#f5f5f5 737.6px,#e6e6e6 743.8px,#dfdfdf 750px)"></div>
<div class="hr" style="top:795.6px;background:linear-gradient(90deg,#eaeaea 1px,#eaeaea 7.2px,#dcdcdc 9.3px,#c7c7c7 11.3px,#c4c4bb 13.4px,#c4c4bb 17.5px,#d1d1d1 19.5px,#e3e3e3 25.7px,#dedede 29.8px,#e2e2e2 31.9px,#eee 33.9px,#f3f3f3 36px,#f2f2f2 38.1px,#dbdbdb 46.3px,#cecece 54.5px,#c4c4c4 56.6px,#ccc 60.7px,#dbdbdb 62.8px,#e2e2e2 64.8px,#e3e3e3 66.9px,#d5d5d5 71px,#d8d8d8 75.1px,#d9d9d9 79.2px,#d4d4d4 83.3px,#dbdbdb 93.6px,#e4e4e4 97.7px,#dedede 106px,#e0e0e0 108px,#cdcdcd 114.2px,#cdcdcd 116.3px,#e4e4e4 122.4px,#ececec 130.7px,#e7e7e7 134.8px,#e9e9e9 136.8px,#f0f0f0 138.9px,#efefef 140.9px,#e0e0e0 145.1px,#f3f3f3 149.2px,#f8f8f8 151.2px,#e0e0e0 159.5px,#d3d3d3 169.7px,#dedede 178px,#dbdbdb 182.1px,#ebebeb 186.2px,#ededed 192.4px,#dbdbdb 200.6px,#e3e3e3 213px,#e6e6e6 217.1px,#dcdcdc 227.4px,#e8e8e8 231.5px,#e3e3e3 239.7px,#ebebeb 245.9px,#dadada 252px,#ddd 256.2px,#e0e0e0 260.3px,#d4d4d4 276.7px,#e0e0e0 280.9px,#e2e2e2 287px,#e1e1e1 291.1px,#f0f0f0 295.3px,#eaeaea 299.4px,#e2e2e2 303.5px,#ddd 313.8px,#f7f7f7 324.1px,#f8f8f8 326.1px,#e7e7e7 334.3px,#e2e2e2 338.5px,#eee 342.6px,#eee 346.7px,#ededed 350.8px,#f2f2f2 352.9px,#efefef 361.1px,#e7e7e7 367.3px,#e6e6e6 375.5px,#e1e1e1 379.6px,#e4e4e4 383.7px,#ebebeb 387.8px,#ededed 396.1px,#f6f6f6 402.2px,#f2f2f2 410.5px,#e7e7e7 414.6px,#e7e7e7 416.7px,#f0f0f0 420.8px,#e8e8e8 429px,#ececec 435.2px,#eee 439.3px,#eaeaea 451.6px,#e5e5e5 455.7px,#eee 464px,#eaeaea 468.1px,#f9f9f9 474.3px,#f6f6f6 478.4px,#e6e6e6 490.7px,#e4e4e4 496.9px,#dcdcdc 499px,#cdcdcd 501px,#e0e0e0 505.1px,#f0f0f0 507.2px,#f2f2f2 511.3px,#e5e5e5 513.4px,#d9d9d9 517.5px,#dcdcdc 519.5px,#d7d7d7 523.6px,#c7c7c7 527.8px,#c5c5c5 531.9px,#c8c8c8 533.9px,#dedede 538px,#e9e9e9 542.2px,#e6e6e6 546.3px,#dfdfdf 550.4px,#f1f1f1 558.6px,#ececec 566.9px,#f6f6f6 573px,#f1f1f1 575.1px,#f1f1f1 579.2px,#f5f5f5 583.3px,#f3f3f3 591.5px,#f5f5f5 595.7px,#e8e8e8 601.8px,#e4e4e4 610.1px,#ececec 616.2px,#e7e7e7 622.4px,#ededed 628.6px,#d9d9d9 636.8px,#dbdbdb 643px,#e1e1e1 647.1px,#dcdcdc 653.3px,#e8e8e8 659.4px,#e1e1e1 663.6px,#e3e3e3 667.7px,#dfdfdf 669.7px,#d2d2d2 671.8px,#d4d4d4 673.8px,#e8e8e8 678px,#d0d0d0 684.1px,#e2e2e2 690.3px,#e1e1e1 694.4px,#d8d8d8 700.6px,#e1e1e1 706.8px,#e1e1e1 712.9px,#d5d5d5 717.1px,#e1e1e1 723.2px,#cfcfcf 727.3px,#cecece 729.4px,#f1f1f1 737.6px,#ebebeb 741.7px,#e4e4e4 743.8px,#e3e3e3 745.9px,#d8d8d8 750px)"></div>
<div class="hr" style="top:811.2px;background:linear-gradient(90deg,#dcdc77 1px,#dcdc77 3.1px,#d6d687 7.2px,#d5d589 9.3px,#d8d883 11.3px,#dfdf70 15.4px,#e1e16c 17.5px,#dede74 19.5px,#c4c4bc 21.6px,#d5d5d5 23.7px,#d9d9d9 25.7px,#d0d0d0 29.8px,#e7e7e7 36px,#e0e0e0 38.1px,#cdcdcd 40.1px,#c8c8af 42.2px,#cacaaa 44.2px,#c4c4bb 46.3px,#c7c7c7 48.4px,#c6c6c6 50.4px,#cccca4 52.5px,#dddd75 54.5px,#f1f138 56.6px,#eded46 58.6px,#c4c4bb 60.7px,#d1d1d1 62.8px,#d7d7d7 64.8px,#cbcbcb 71px,#dedede 75.1px,#dfdfdf 77.2px,#ccc 81.3px,#c6c6c6 85.4px,#d1d1d1 89.5px,#d0d0d0 93.6px,#dbdbdb 97.7px,#dadada 108px,#c5c5c5 114.2px,#c6c6c6 116.3px,#dadada 122.4px,#d9d9d9 124.5px,#ededed 130.7px,#e3e3e3 136.8px,#eaeaea 138.9px,#e4e4e4 140.9px,#ccc 145.1px,#d4d4d4 147.1px,#e5e5e5 149.2px,#eee 151.2px,#e2e2e2 155.3px,#cfcfcf 159.5px,#cacaca 161.5px,#cecece 165.6px,#c6c6c6 169.7px,#c7c7c7 171.8px,#d3d3d3 175.9px,#d5d5d5 178px,#cdcdcd 180px,#d0d0d0 182.1px,#c9c9c9 184.1px,#d9d9d9 186.2px,#ddd 188.3px,#d0d0d0 194.4px,#cfcfcf 196.5px,#d8d8d8 198.6px,#d5d5d5 210.9px,#dcdcdc 217.1px,#d8d8d8 223.2px,#d3d3d3 225.3px,#dadada 229.4px,#e4e4e4 231.5px,#e6e6e6 233.5px,#d8d8d8 239.7px,#e2e2e2 245.9px,#cfcfcf 252px,#dfdfdf 264.4px,#d8d8d8 276.7px,#e7e7e7 280.9px,#e7e7e7 285px,#e0e0e0 289.1px,#e5e5e5 293.2px,#eee 295.3px,#ececec 299.4px,#e6e6e6 303.5px,#e5e5e5 309.7px,#dfdfdf 313.8px,#f2f2f2 322px,#f3f3f3 326.1px,#e0e0e0 338.5px,#e4e4e4 340.5px,#eee 342.6px,#ededed 346.7px,#ebebeb 350.8px,#f1f1f1 352.9px,#f3f3f3 357px,#e8e8e8 367.3px,#e5e5e5 377.6px,#e0e0e0 383.7px,#e9e9e9 389.9px,#eaeaea 396.1px,#f3f3f3 402.2px,#f1f1f1 410.5px,#e7e7e7 414.6px,#e7e7e7 416.7px,#f0f0f0 420.8px,#e8e8e8 431.1px,#f2f2f2 437.2px,#ebebeb 451.6px,#e6e6e6 455.7px,#f0f0f0 461.9px,#ebebeb 468.1px,#f8f8f8 474.3px,#ededed 492.8px,#ececec 496.9px,#dfdfdf 499px,#c8c8c8 501px,#dcdcdc 505.1px,#ececec 507.2px,#ededed 511.3px,#e2e2e2 513.4px,#dedede 517.5px,#e1e1e1 521.6px,#d0d0d0 527.8px,#d3d3d3 531.9px,#e9e9e9 538px,#ebebeb 546.3px,#e4e4e4 552.4px,#e5e5e5 554.5px,#f2f2f2 558.6px,#f3f3f3 560.7px,#e9e9e9 564.8px,#f7f7f7 573px,#f2f2f2 575.1px,#efefef 579.2px,#f1f1f1 585.4px,#efefef 589.5px,#f3f3f3 595.7px,#e3e3e3 603.9px,#e0e0e0 610.1px,#ebebeb 616.2px,#e7e7e7 622.4px,#e7e7e7 628.6px,#d1d1d1 638.9px,#d4d4d4 643px,#ddd 647.1px,#ddd 649.2px,#d3d3d3 651.2px,#c4c4bb 653.3px,#c4c4c4 655.3px,#d2d2d2 657.4px,#d7d7d7 659.4px,#c9c9c9 663.6px,#cdcdcd 665.6px,#d7d7d7 667.7px,#d8d8d8 669.7px,#cbcbcb 671.8px,#d0d0d0 673.8px,#e9e9e9 678px,#cdcdcd 684.1px,#d6d6d6 688.2px,#e2e2e2 692.4px,#dcdcdc 696.5px,#d5d5d5 698.5px,#d3d3d3 700.6px,#d7d7d7 702.6px,#e1e1e1 704.7px,#e2e2e2 708.8px,#d1d1d1 717.1px,#dfdfdf 721.2px,#e2e2e2 723.2px,#cecece 727.3px,#ccc 729.4px,#d2d2d2 731.5px,#cfcfcf 733.5px,#d3d3d3 735.6px,#e1e1e1 737.6px,#c3c3c0 743.8px,#c4c4bb 745.9px,#cccca4 747.9px,#dcdc78 750px)"></div>
<div class="hr" style="top:826.8px;background:linear-gradient(90deg,#f9f919 1px,#f9f917 3.1px,#f6f624 9.3px,#f7f71e 11.3px,#fbfb11 13.4px,#fdfd07 17.5px,#fafa12 19.5px,#d2d291 21.6px,#cccca3 23.7px,#cbcba6 25.7px,#cfcf9a 27.8px,#cdcd9e 29.8px,#c6c6b5 33.9px,#cdcda0 36px,#d9d97f 40.1px,#dede73 42.2px,#dbdb79 48.4px,#e1e16c 52.5px,#e8e855 56.6px,#e6e65c 58.6px,#d5d58a 60.7px,#c3c3c3 62.8px,#cbcbcb 64.8px,#c6c6c6 66.9px,#cdcda0 68.9px,#d3d38d 71px,#c8c8af 73px,#cacaca 75.1px,#cdcdcd 77.2px,#c7c7c7 79.2px,#d6d687 81.3px,#d7d785 85.4px,#d7d785 91.6px,#d0d096 97.7px,#cfcf99 99.8px,#cecece 101.8px,#d8d8d8 103.9px,#d4d4d4 108px,#c7c7c7 110.1px,#c4c4bb 112.1px,#c4c4bb 118.3px,#cdcdcd 120.4px,#d8d8d8 122.4px,#e1e1e1 128.6px,#e8e8e8 130.7px,#dfdfdf 132.7px,#dcdcdc 136.8px,#e9e9e9 138.9px,#e4e4e4 140.9px,#cacaca 145.1px,#c8c8c8 147.1px,#c5c5b8 149.2px,#c2c2c2 151.2px,#c3c3be 153.3px,#c7c7b4 155.3px,#d2d291 159.5px,#d6d686 161.5px,#d5d58a 167.7px,#d8d883 169.7px,#c4c4bb 171.8px,#c4c4c4 173.9px,#cdcdcd 175.9px,#d0d0d0 178px,#cacaca 180px,#cdcdcd 182.1px,#e1e1e1 186.2px,#d9d9d9 188.3px,#cacaa8 190.3px,#d1d193 196.5px,#d2d290 198.6px,#e4e463 200.6px,#cbcbcb 202.7px,#cbcbcb 206.8px,#c2c2c1 210.9px,#c6c6c6 213px,#d1d1d1 215px,#d5d5d5 219.1px,#d2d2d2 221.2px,#d2d290 223.2px,#d7d784 225.3px,#d7d785 227.4px,#d2d291 229.4px,#cccca3 231.5px,#cacaa8 233.5px,#d3d38e 239.7px,#d0d096 241.8px,#d2d2d2 243.8px,#e2e2e2 245.9px,#cdcdcd 252px,#dbdbdb 268.5px,#d3d3d3 276.7px,#e3e3e3 282.9px,#dcdcdc 289.1px,#e3e3e3 293.2px,#ededed 295.3px,#eaeaea 299.4px,#e5e5e5 303.5px,#e5e5e5 307.6px,#dadada 313.8px,#eee 322px,#f3f3f3 326.1px,#e4e4e4 336.4px,#e9e9e9 340.5px,#f0f0f0 342.6px,#eaeaea 348.8px,#f2f2f2 352.9px,#ededed 363.2px,#e6e6e6 383.7px,#eee 389.9px,#ededed 396.1px,#f5f5f5 402.2px,#f5f5f5 410.5px,#ececec 416.7px,#f2f2f2 420.8px,#f1f1f1 433.1px,#f1f1f1 451.6px,#f0f0f0 457.8px,#f3f3f3 464px,#f7f7f7 472.2px,#fbfbfb 476.3px,#f4f4f4 496.9px,#ececec 499px,#dfdfdf 501px,#ebebeb 505.1px,#f5f5f5 507.2px,#f7f7f7 511.3px,#f0f0f0 513.4px,#ececec 519.5px,#ebebeb 525.7px,#e6e6e6 531.9px,#f1f1f1 540.1px,#eaeaea 552.4px,#f8f8f8 560.7px,#f0f0f0 564.8px,#f8f8f8 573px,#f5f5f5 583.3px,#f8f8f8 595.7px,#e7e7e7 601.8px,#e7e7e7 610.1px,#f1f1f1 616.2px,#ededed 620.3px,#eee 626.5px,#d2d2d2 640.9px,#ddd 649.2px,#c8c8c8 651.2px,#c4c4bb 653.3px,#c5c5c5 657.4px,#c4c4c4 659.4px,#c4c4bc 661.5px,#c4c4bb 663.6px,#ccc 665.6px,#d3d3d3 669.7px,#cfcfcf 671.8px,#d1d1d1 673.8px,#e6e6e6 678px,#ccc 684.1px,#d0d0d0 686.2px,#e1e1e1 690.3px,#e4e4e4 692.4px,#ddd 694.4px,#cbcbcb 696.5px,#c4c4bb 698.5px,#c4c4bb 702.6px,#c3c3c3 704.7px,#dfdfdf 706.8px,#dbdbdb 712.9px,#d0d0d0 717.1px,#dadada 721.2px,#dadada 723.2px,#c6c6c6 727.3px,#c6c6c6 729.4px,#cecece 731.5px,#dada7c 733.5px,#f6f625 735.6px,#f2f235 737.6px,#f9f918 743.8px,#f7f720 747.9px,#f8f81c 750px)"></div>
<div class="hr" style="top:842.3px;background:linear-gradient(90deg,#fbfb12 1px,#fdfd08 5.1px,#fff800 7.2px,#ffeb00 13.4px,#fe0 15.4px,#fffa00 17.5px,#ff0 19.5px,#f9f916 21.6px,#cfcf98 23.7px,#c7c7c7 25.7px,#cacaaa 27.8px,#cacaaa 29.8px,#c4c4c4 31.9px,#c9c9ab 33.9px,#dcdc78 36px,#dfdf70 38.1px,#e4e461 40.1px,#e7e759 42.2px,#e7e758 46.3px,#f8f81e 50.4px,#fdfd09 56.6px,#fafa14 60.7px,#f5f528 62.8px,#e8e857 64.8px,#e4e461 66.9px,#e7e758 71px,#e4e463 75.1px,#e6e65d 77.2px,#f0f03d 79.2px,#f2f235 81.3px,#f1f139 87.4px,#f1f136 91.6px,#f1f138 93.6px,#efef40 95.7px,#ee4 99.8px,#cfcf9a 101.8px,#c7c7b2 103.9px,#c7c7c7 106px,#ccc 108px,#c4c4bb 112.1px,#c4c4bb 118.3px,#c4c4c4 120.4px,#d3d3d3 122.4px,#dadada 126.5px,#e2e2e2 130.7px,#d7d7d7 134.8px,#d7d7d7 136.8px,#dfdfdf 138.9px,#d9d9d9 140.9px,#c9c9c9 143px,#c4c4bb 145.1px,#d0d095 147.1px,#d2d290 149.2px,#cdcd9f 151.2px,#d0d097 153.3px,#dada7d 157.4px,#e1e16b 159.5px,#f4f42e 161.5px,#f5f527 165.6px,#f9f918 169.7px,#dcdc79 171.8px,#c5c5c5 173.9px,#d0d0d0 175.9px,#d4d4d4 178px,#cacaca 180px,#cacaca 182.1px,#ddd 186.2px,#d3d3d3 188.3px,#d1d192 190.3px,#d4d48b 194.4px,#dcdc79 198.6px,#dcdc79 200.6px,#c6c6c6 202.7px,#d0d0d0 206.8px,#d3d3d3 213px,#d7d7d7 215px,#cecece 221.2px,#dbdb7b 223.2px,#d3d38f 225.3px,#d1d193 227.4px,#c9c9ab 231.5px,#cacaa8 233.5px,#cece9d 235.6px,#d0d098 237.6px,#d7d784 239.7px,#d2d2d2 241.8px,#dfdfdf 243.8px,#e4e4e4 245.9px,#dadada 250px,#d3d3d3 252px,#d6d6d6 256.2px,#dadada 260.3px,#d5d5d5 268.5px,#cfcfcf 274.7px,#d0d0d0 276.7px,#e1e1e1 280.9px,#e5e5e5 282.9px,#dcdcdc 289.1px,#e5e5e5 293.2px,#eee 295.3px,#f0f0f0 297.3px,#e6e6e6 303.5px,#e7e7e7 309.7px,#e1e1e1 313.8px,#f6f6f6 326.1px,#e9e9e9 338.5px,#ebebeb 340.5px,#f2f2f2 342.6px,#f1f1f1 350.8px,#f6f6f6 352.9px,#f6f6f6 361.1px,#ececec 367.3px,#ececec 375.5px,#eaeaea 383.7px,#f1f1f1 392px,#f2f2f2 398.1px,#f9f9f9 408.4px,#f0f0f0 414.6px,#f0f0f0 416.7px,#f6f6f6 420.8px,#f1f1f1 431.1px,#f4f4f4 443.4px,#f1f1f1 457.8px,#f4f4f4 464px,#f5f5f5 470.1px,#fafafa 476.3px,#f3f3f3 496.9px,#e5e5e5 499px,#cbcbcb 501px,#f3f3f3 507.2px,#ededed 511.3px,#e0e0e0 513.4px,#e0e0e0 517.5px,#ececec 521.6px,#e6e6e6 525.7px,#dedede 529.8px,#dedede 531.9px,#efefef 540.1px,#e8e8e8 548.3px,#e7e7e7 552.4px,#f4f4f4 558.6px,#f5f5f5 560.7px,#ececec 564.8px,#f8f8f8 573px,#f4f4f4 591.5px,#f4f4f4 595.7px,#e5e5e5 605.9px,#e5e5e5 610.1px,#efefef 616.2px,#e9e9e9 622.4px,#ececec 628.6px,#d2d2d2 638.9px,#d6d6d6 649.2px,#cdcdcd 653.3px,#d0d0d0 655.3px,#ddd 659.4px,#d4d4d4 663.6px,#d7d7d7 667.7px,#d0d0d0 669.7px,#c4c4bb 671.8px,#c5c5c5 673.8px,#dedede 678px,#d4d4d4 680px,#c4c4c4 682.1px,#dddd76 684.1px,#dcdc77 686.2px,#cece9c 692.4px,#cfcf9a 696.5px,#d5d588 700.6px,#d4d48b 702.6px,#cece9d 704.7px,#dcdcdc 706.8px,#cfcfcf 715px,#c6c6c6 717.1px,#d7d7d7 721.2px,#dadada 723.2px,#c9c9c9 725.3px,#c4c4bb 727.3px,#c4c4bb 729.4px,#c5c5c5 731.5px,#eded45 733.5px,#fff600 735.6px,#fff900 737.6px,#ffe900 750px)"></div>
<div class="hr" style="top:857.9px;background:linear-gradient(90deg,#f2f233 1px,#f3f331 3.1px,#efef3f 7.2px,#f0f03c 9.3px,#f8f81e 13.4px,#f8f81d 17.5px,#f5f527 21.6px,#c6c6c6 23.7px,#d2d2d2 25.7px,#c8c8c8 27.8px,#c5c5c5 29.8px,#ccc 31.9px,#dadada 33.9px,#d5d58a 36px,#d6d686 38.1px,#e1e16b 42.2px,#e3e365 46.3px,#e2e269 50.4px,#ebeb4b 52.5px,#f8f81e 54.5px,#fcfc0e 56.6px,#fbfb0f 58.6px,#f9f919 60.7px,#f4f42d 62.8px,#f1f138 64.8px,#f1f138 66.9px,#f5f528 71px,#f3f330 75.1px,#f0f03d 77.2px,#e0e06d 79.2px,#e3e366 81.3px,#e2e267 85.4px,#e8e855 87.4px,#ebeb4b 89.5px,#eded45 93.6px,#e9e952 99.8px,#c5c5c5 101.8px,#d2d2d2 108px,#cbcbcb 110.1px,#c4c4bb 112.1px,#c4c4bb 118.3px,#cacaca 120.4px,#d3d3d3 122.4px,#d4d4d4 124.5px,#e9e9e9 130.7px,#dbdbdb 136.8px,#e5e5e5 138.9px,#e0e0e0 140.9px,#cacaca 145.1px,#c8c8c8 147.1px,#c6c6b7 149.2px,#c3c3bf 151.2px,#cacaa8 157.4px,#d1d193 159.5px,#f4f42d 161.5px,#f4f42c 163.6px,#f8f81a 169.7px,#d6d688 171.8px,#cdcdcd 173.9px,#d3d3d3 175.9px,#d3d3d3 178px,#c9c9c9 180px,#cbcbcb 182.1px,#e2e2e2 186.2px,#e4e4e4 188.3px,#dfdfdf 190.3px,#cbcbcb 192.4px,#e7e758 194.4px,#ecec47 198.6px,#eded47 200.6px,#c5c5c5 202.7px,#c9c9c9 206.8px,#c2c2c2 210.9px,#cbcbcb 217.1px,#cbcbcb 221.2px,#d7d786 223.2px,#dbdb7a 225.3px,#d1d195 227.4px,#c7c7c7 229.4px,#d3d3d3 231.5px,#d1d1d1 233.5px,#c6c6c6 235.6px,#c3c3c0 237.6px,#cacaa9 239.7px,#d1d1d1 241.8px,#dfdfdf 245.9px,#c7c7c7 252px,#c8c8c8 254.1px,#d6d6d6 258.2px,#d5d5d5 262.3px,#cfcfcf 268.5px,#c5c5c5 276.7px,#d7d7d7 280.9px,#d8d8d8 285px,#d2d2d2 287px,#d9d9d9 291.1px,#ededed 295.3px,#e6e6e6 299.4px,#e0e0e0 303.5px,#e3e3e3 309.7px,#dfdfdf 313.8px,#f4f4f4 326.1px,#e3e3e3 336.4px,#e7e7e7 340.5px,#eee 342.6px,#ebebeb 350.8px,#f1f1f1 352.9px,#f0f0f0 361.1px,#ebebeb 367.3px,#ebebeb 373.4px,#e5e5e5 381.7px,#e4e4e4 383.7px,#ededed 389.9px,#ececec 396.1px,#f6f6f6 402.2px,#f5f5f5 410.5px,#ededed 414.6px,#ececec 416.7px,#f3f3f3 420.8px,#efefef 431.1px,#f5f5f5 437.2px,#ededed 455.7px,#f5f5f5 464px,#f8f8f8 472.2px,#fcfcfc 476.3px,#f4f4f4 494.8px,#f4f4f4 496.9px,#e2e2e2 501px,#f6f6f6 507.2px,#f2f2f2 511.3px,#eaeaea 513.4px,#e2e2e2 523.6px,#dbdbdb 527.8px,#ddd 531.9px,#ebebeb 538px,#eee 548.3px,#efefef 554.5px,#f7f7f7 558.6px,#f5f5f5 566.9px,#f9f9f9 595.7px,#eee 603.9px,#ededed 610.1px,#f3f3f3 616.2px,#efefef 624.5px,#ededed 628.6px,#dbdbdb 634.7px,#d4d4d4 640.9px,#e1e1e1 647.1px,#dbdbdb 653.3px,#e9e9e9 659.4px,#e3e3e3 663.6px,#e3e3e3 667.7px,#cfcfcf 671.8px,#c4c4bb 673.8px,#c4c4bb 675.9px,#d2d2d2 678px,#c5c5c5 680px,#c4c4bb 682.1px,#c4c4bb 690.3px,#c4c4c4 692.4px,#c2c2c1 694.4px,#d4d48b 696.5px,#ecec49 698.5px,#eded45 700.6px,#eded47 702.6px,#eaea4f 704.7px,#e9e952 706.8px,#c6c6c6 708.8px,#ccc 710.9px,#c9c9c9 712.9px,#c4c4bb 715px,#c4c4bb 719.1px,#cbcbcb 723.2px,#c4c4bb 725.3px,#c4c4bb 731.5px,#e7e759 733.5px,#f9f917 735.6px,#f5f527 737.6px,#fafa13 743.8px,#fcfc0b 747.9px,#ffff02 750px)"></div>
<div class="hr" style="top:873.4px;background:linear-gradient(90deg,#dcdc79 1px,#dddd75 3.1px,#d9d97f 7.2px,#d9d980 9.3px,#e3e365 13.4px,#e5e55e 17.5px,#e1e16c 19.5px,#cfcfcf 21.6px,#dadada 23.7px,#dcdcdc 25.7px,#cfcfcf 27.8px,#cdcdcd 29.8px,#d2d2d2 31.9px,#e4e4e4 33.9px,#ebebeb 36px,#e7e7e7 38.1px,#cdcdcd 42.2px,#c8c8c8 46.3px,#c8c8c8 50.4px,#cfcf99 52.5px,#dede73 54.5px,#e3e367 56.6px,#e2e269 58.6px,#dddd75 60.7px,#d4d48c 62.8px,#cfcf98 64.8px,#d0d096 66.9px,#cbcba4 68.9px,#cdcd9f 71px,#c8c8b0 73px,#c8c8c8 75.1px,#ccc 77.2px,#c7c7c7 79.2px,#c9c9ad 81.3px,#c4c4bd 83.3px,#cbcbcb 87.4px,#c6c6c6 89.5px,#c4c4ba 91.6px,#c9c9ab 93.6px,#c6c6c6 95.7px,#cbcbcb 99.8px,#c5c5c5 101.8px,#e0e0e0 106px,#dedede 108px,#c9c9c9 112.1px,#c3c3c3 114.2px,#c5c5c5 116.3px,#e5e5e5 122.4px,#e6e6e6 126.5px,#ededed 130.7px,#e6e6e6 136.8px,#ebebeb 138.9px,#e7e7e7 140.9px,#d2d2d2 145.1px,#d5d5d5 147.1px,#e5e5e5 149.2px,#eee 151.2px,#dfdfdf 155.3px,#c5c5c5 159.5px,#d5d58a 161.5px,#d9d981 167.7px,#c4c4bb 169.7px,#c4c4c4 171.8px,#cdcdcd 173.9px,#d1d1d1 178px,#c7c7c7 180px,#cbcbcb 182.1px,#e1e1e1 186.2px,#e6e6e6 188.3px,#e3e3e3 194.4px,#d0d0d0 200.6px,#cecece 204.7px,#e0e0e0 219.1px,#d8d8d8 225.3px,#e9e9e9 231.5px,#e1e1e1 235.6px,#e1e1e1 239.7px,#eaeaea 245.9px,#d3d3d3 252px,#ddd 260.3px,#d9d9d9 276.7px,#e6e6e6 280.9px,#e6e6e6 285px,#e1e1e1 289.1px,#e7e7e7 293.2px,#efefef 295.3px,#eaeaea 299.4px,#e4e4e4 301.4px,#e0e0e0 311.7px,#dedede 313.8px,#f3f3f3 324.1px,#f5f5f5 326.1px,#e0e0e0 336.4px,#e5e5e5 340.5px,#eee 342.6px,#eee 346.7px,#ededed 350.8px,#f3f3f3 352.9px,#f3f3f3 357px,#e8e8e8 369.3px,#e5e5e5 381.7px,#ececec 389.9px,#efefef 398.1px,#f7f7f7 406.4px,#f4f4f4 410.5px,#ededed 414.6px,#ededed 416.7px,#f4f4f4 420.8px,#f0f0f0 431.1px,#f6f6f6 437.2px,#f1f1f1 455.7px,#f6f6f6 464px,#f7f7f7 470.1px,#fcfcfc 476.3px,#f8f8f8 496.9px,#f3f3f3 499px,#e7e7e7 501px,#f9f9f9 507.2px,#fbfbfb 511.3px,#f2f2f2 517.5px,#ebebeb 525.7px,#e6e6e6 529.8px,#f4f4f4 544.2px,#f4f4f4 554.5px,#fafafa 560.7px,#f8f8f8 597.7px,#f2f2f2 610.1px,#f7f7f7 618.3px,#f4f4f4 628.6px,#e2e2e2 638.9px,#e9e9e9 649.2px,#e5e5e5 653.3px,#ececec 659.4px,#e9e9e9 663.6px,#ebebeb 667.7px,#e7e7e7 669.7px,#ccc 671.8px,#c9c9c9 673.8px,#e0e0e0 678px,#d7d7d7 680px,#c8c8c8 682.1px,#e5e55f 684.1px,#dcdc77 690.3px,#dbdb7b 692.4px,#dfdf71 694.4px,#e4e463 698.5px,#e4e463 700.6px,#e2e269 702.6px,#d9d97f 704.7px,#d8d8d8 706.8px,#d2d2d2 715px,#ccc 717.1px,#dadada 721.2px,#dadada 723.2px,#c9c9c9 725.3px,#c4c4bb 727.3px,#d9d97f 729.4px,#e0e06d 731.5px,#cfcf9a 737.6px,#d6d687 743.8px,#d5d589 745.9px,#d7d785 747.9px,#dbdb7b 750px)"></div>
<div class="hr" style="top:889px;background:linear-gradient(90deg,#f0f03b 1px,#f1f136 3.1px,#efef3f 7.2px,#e2e26a 9.3px,#d4d48c 11.3px,#d8d881 13.4px,#dbdb7b 17.5px,#d7d785 19.5px,#d2d2d2 21.6px,#dbdbdb 23.7px,#dedede 25.7px,#d6d6d6 27.8px,#d6d6d6 29.8px,#dedede 31.9px,#efefef 33.9px,#f6f6f6 36px,#f0f0f0 38.1px,#dadada 42.2px,#d7d7d7 50.4px,#d0d0d0 54.5px,#c3c3c3 56.6px,#e2e26a 58.6px,#d4d48d 60.7px,#cacaca 62.8px,#cfcfcf 64.8px,#dbdbdb 66.9px,#dadada 71px,#e6e6e6 77.2px,#d8d8d8 83.3px,#dfdfdf 93.6px,#e7e7e7 97.7px,#e7e7e7 99.8px,#e1e1e1 101.8px,#e7e7e7 108px,#d7d7d7 114.2px,#d7d7d7 116.3px,#ededed 122.4px,#eaeaea 126.5px,#f0f0f0 130.7px,#e8e8e8 136.8px,#efefef 138.9px,#efefef 140.9px,#e1e1e1 145.1px,#e3e3e3 147.1px,#f1f1f1 151.2px,#d9d9d9 161.5px,#dcdcdc 171.8px,#e6e6e6 175.9px,#e7e7e7 178px,#e0e0e0 180px,#e5e5e5 184.1px,#eee 186.2px,#efefef 190.3px,#e1e1e1 200.6px,#e3e3e3 208.8px,#e3e3e3 223.2px,#e2e2e2 227.4px,#ededed 231.5px,#eaeaea 235.6px,#e3e3e3 239.7px,#ebebeb 245.9px,#dedede 254.1px,#e5e5e5 258.2px,#e4e4e4 270.6px,#dedede 276.7px,#ebebeb 282.9px,#ebebeb 293.2px,#f1f1f1 295.3px,#eee 299.4px,#e8e8e8 303.5px,#e6e6e6 311.7px,#e7e7e7 315.8px,#f5f5f5 326.1px,#e7e7e7 338.5px,#f0f0f0 344.6px,#efefef 350.8px,#f4f4f4 354.9px,#f4f4f4 361.1px,#ededed 367.3px,#eaeaea 377.6px,#e8e8e8 383.7px,#f0f0f0 389.9px,#ededed 396.1px,#f7f7f7 402.2px,#f6f6f6 410.5px,#f0f0f0 414.6px,#f4f4f4 422.8px,#efefef 431.1px,#f4f4f4 439.3px,#f4f4f4 457.8px,#f7f7f7 466px,#f9f9f9 472.2px,#fcfcfc 478.4px,#f8f8f8 496.9px,#f1f1f1 499px,#e2e2e2 501px,#f3f3f3 507.2px,#f3f3f3 511.3px,#ededed 515.4px,#ebebeb 523.6px,#e3e3e3 527.8px,#e8e8e8 533.9px,#f4f4f4 548.3px,#f9f9f9 562.7px,#f9f9f9 568.9px,#fbfbfb 577.1px,#f8f8f8 597.7px,#f4f4f4 608px,#f5f5f5 628.6px,#e6e6e6 640.9px,#eee 647.1px,#ededed 655.3px,#eee 661.5px,#e9e9e9 669.7px,#cacaca 671.8px,#c7c7c7 673.8px,#dedede 678px,#d5d5d5 680px,#c2c2c2 682.1px,#e4e463 684.1px,#e2e26a 686.2px,#d6d686 690.3px,#d4d48c 692.4px,#dddd76 698.5px,#dede73 700.6px,#dcdc77 702.6px,#d6d686 704.7px,#d3d3d3 706.8px,#d2d2d2 712.9px,#c5c5c5 717.1px,#d0d0d0 721.2px,#d1d1d1 723.2px,#c5c5c5 725.3px,#c4c4bb 727.3px,#e8e855 729.4px,#f0f03b 731.5px,#eaea50 733.5px,#e3e366 737.6px,#e7e759 739.7px,#ebeb4c 743.8px,#eaea4e 745.9px,#efef3e 750px)"></div>
<div class="hr" style="top:904.6px;background:linear-gradient(90deg,#efef3f 1px,#f0f03c 3.1px,#ebeb4d 7.2px,#d2d290 9.3px,#c5c5c5 11.3px,#c4c4bb 13.4px,#c4c4bb 19.5px,#e2e2e2 21.6px,#e9e9e9 25.7px,#e3e3e3 27.8px,#eaeaea 31.9px,#f5f5f5 33.9px,#fafafa 36px,#efefef 40.1px,#e5e5e5 42.2px,#e2e2e2 46.3px,#e7e7e7 50.4px,#dbdbdb 56.6px,#e1e1e1 60.7px,#eaeaea 62.8px,#e9e9e9 66.9px,#e3e3e3 71px,#efefef 75.1px,#f0f0f0 79.2px,#ebebeb 83.3px,#eaeaea 93.6px,#f0f0f0 97.7px,#e9e9e9 103.9px,#eaeaea 108px,#ddd 114.2px,#e4e4e4 118.3px,#efefef 122.4px,#f0f0f0 128.6px,#f4f4f4 130.7px,#f1f1f1 136.8px,#f5f5f5 138.9px,#f2f2f2 140.9px,#e3e3e3 145.1px,#e5e5e5 147.1px,#f6f6f6 151.2px,#f5f5f5 153.3px,#e5e5e5 159.5px,#e1e1e1 171.8px,#eaeaea 178px,#e7e7e7 182.1px,#f2f2f2 188.3px,#e8e8e8 198.6px,#e4e4e4 202.7px,#e9e9e9 213px,#ebebeb 217.1px,#e7e7e7 227.4px,#f2f2f2 233.5px,#eaeaea 239.7px,#f2f2f2 245.9px,#e5e5e5 252px,#ebebeb 264.4px,#e8e8e8 276.7px,#f1f1f1 282.9px,#eaeaea 289.1px,#f7f7f7 295.3px,#eee 301.4px,#efefef 309.7px,#eaeaea 313.8px,#f9f9f9 326.1px,#eaeaea 338.5px,#f4f4f4 344.6px,#f1f1f1 350.8px,#f5f5f5 354.9px,#ececec 383.7px,#f3f3f3 389.9px,#f1f1f1 396.1px,#f8f8f8 402.2px,#f6f6f6 410.5px,#efefef 414.6px,#f6f6f6 420.8px,#f2f2f2 429px,#f7f7f7 441.3px,#f5f5f5 457.8px,#fafafa 472.2px,#fcfcfc 478.4px,#f8f8f8 496.9px,#e6e6e6 501px,#f8f8f8 507.2px,#f7f7f7 511.3px,#f2f2f2 513.4px,#eee 523.6px,#e9e9e9 529.8px,#f2f2f2 540.1px,#f7f7f7 556.6px,#f9f9f9 562.7px,#f9f9f9 597.7px,#f4f4f4 608px,#f9f9f9 616.2px,#f2f2f2 640.9px,#f7f7f7 661.5px,#f5f5f5 669.7px,#d6d6d6 671.8px,#cecece 673.8px,#e2e2e2 678px,#cbcbcb 684.1px,#d9d9d9 690.3px,#d4d4d4 696.5px,#ccc 700.6px,#dfdfdf 706.8px,#dbdbdb 712.9px,#cacaca 717.1px,#cdcdcd 719.1px,#d5d5d5 721.2px,#d8d8d8 723.2px,#c3c3c3 727.3px,#dcdc77 729.4px,#e4e462 731.5px,#d7d784 735.6px,#d4d48d 737.6px,#dcdc77 743.8px,#dddd76 745.9px,#e3e365 750px)"></div>
<div class="hr" style="top:920.1px;background:linear-gradient(90deg,#d3d3d3 1px,#dbdbdb 9.3px,#c9c9c9 15.4px,#c6c6c6 17.5px,#cacaca 19.5px,#e4e4e4 21.6px,#f2f2f2 23.7px,#f2f2f2 31.9px,#fbfbfb 36px,#f3f3f3 46.3px,#e8e8e8 60.7px,#eee 66.9px,#ececec 73px,#f0f0f0 77.2px,#ebebeb 85.4px,#f2f2f2 99.8px,#eaeaea 110.1px,#e4e4e4 116.3px,#eee 124.5px,#f3f3f3 132.7px,#f1f1f1 136.8px,#f3f3f3 140.9px,#eaeaea 145.1px,#f2f2f2 151.2px,#e1e1e1 159.5px,#dbdbdb 161.5px,#ddd 163.6px,#eaeaea 167.7px,#eaeaea 173.9px,#ededed 178px,#ececec 182.1px,#f4f4f4 186.2px,#ededed 198.6px,#eaeaea 200.6px,#d5d5d5 204.7px,#d9d9d9 213px,#eaeaea 217.1px,#ececec 223.2px,#ebebeb 227.4px,#f3f3f3 231.5px,#ececec 239.7px,#f5f5f5 245.9px,#e8e8e8 252px,#f1f1f1 266.5px,#ebebeb 276.7px,#f1f1f1 282.9px,#f2f2f2 291.1px,#f8f8f8 295.3px,#f0f0f0 305.5px,#eee 313.8px,#f8f8f8 324.1px,#efefef 338.5px,#f6f6f6 344.6px,#f4f4f4 350.8px,#f7f7f7 357px,#eee 381.7px,#f9f9f9 408.4px,#f0f0f0 414.6px,#f6f6f6 422.8px,#f2f2f2 429px,#f6f6f6 441.3px,#f0f0f0 457.8px,#f4f4f4 466px,#f7f7f7 472.2px,#fcfcfc 476.3px,#f3f3f3 492.8px,#f1f1f1 499px,#ededed 501px,#f9f9f9 509.2px,#fafafa 511.3px,#f4f4f4 517.5px,#efefef 529.8px,#f9f9f9 542.2px,#f8f8f8 554.5px,#fafafa 562.7px,#fafafa 597.7px,#f4f4f4 605.9px,#f7f7f7 618.3px,#f6f6f6 643px,#f6f6f6 651.2px,#f1f1f1 657.4px,#f0f0f0 661.5px,#e9e9e9 669.7px,#d6d6d6 671.8px,#cecece 673.8px,#e7e7e7 678px,#ccc 684.1px,#ddd 688.2px,#e2e2e2 692.4px,#dbdbdb 696.5px,#cbcbcb 700.6px,#cbcbcb 702.6px,#d6d6d6 704.7px,#dbdbdb 708.8px,#d3d3d3 715px,#cdcdcd 717.1px,#e0e0e0 721.2px,#e3e3e3 723.2px,#c4c4c4 727.3px,#c2c2c2 729.4px,#d0d0d0 731.5px,#c8c8c8 733.5px,#cece9d 735.6px,#cccca4 737.6px,#d2d292 743.8px,#d0d096 747.9px,#d1d193 750px)"></div>
<div class="hr" style="top:935.7px;background:linear-gradient(90deg,#e8e8e8 1px,#eee 9.3px,#e1e1e1 15.4px,#e3e3e3 19.5px,#f5f5f5 25.7px,#f1f1f1 29.8px,#f9f9f9 36px,#f2f2f2 44.2px,#ededed 58.6px,#f5f5f5 64.8px,#f0f0f0 71px,#f3f3f3 79.2px,#f1f1f1 85.4px,#f5f5f5 99.8px,#f4f4f4 101.8px,#e9e9e9 106px,#e3e3e3 110.1px,#d8d8d8 114.2px,#d9d9d9 116.3px,#efefef 120.4px,#f5f5f5 122.4px,#f7f7f7 132.7px,#f5f5f5 140.9px,#eee 145.1px,#f9f9f9 151.2px,#ededed 161.5px,#ededed 171.8px,#f3f3f3 178px,#f1f1f1 182.1px,#f8f8f8 188.3px,#eee 202.7px,#eaeaea 206.8px,#e4e4e4 208.8px,#e8e8e8 223.2px,#e5e5e5 227.4px,#f2f2f2 233.5px,#eee 237.6px,#fbfbfb 241.8px,#fafafa 280.9px,#fafafa 309.7px,#fbfbfb 334.3px,#fafafa 367.3px,#fbfbfb 410.5px,#fbfbfb 435.2px,#fafafa 468.1px,#fdfdfd 476.3px,#fafafa 503.1px,#fefefe 511.3px,#fafafa 533.9px,#fcfcfc 558.6px,#fbfbfb 599.8px,#f9f9f9 651.2px,#f4f4f4 659.4px,#f0f0f0 669.7px,#eaeaea 671.8px,#f1f1f1 678px,#d4d4d4 682.1px,#ccc 684.1px,#d2d2d2 686.2px,#dedede 688.2px,#e3e3e3 692.4px,#d2d2d2 698.5px,#d2d2d2 700.6px,#e6e6e6 704.7px,#e8e8e8 712.9px,#e1e1e1 717.1px,#eaeaea 723.2px,#d8d8d8 727.3px,#d7d7d7 729.4px,#f2f2f2 737.6px,#ddd 743.8px,#dcdcdc 747.9px,#d6d6d6 750px)"></div>
<div class="hr" style="top:951.2px;background:linear-gradient(90deg,#f0f0f0 1px,#ececec 11.3px,#e9e9e9 19.5px,#f8f8f8 25.7px,#f7f7f7 31.9px,#fbfbfb 38.1px,#f5f5f5 46.3px,#f5f5f5 60.7px,#f9f9f9 66.9px,#f6f6f6 83.3px,#f7f7f7 108px,#efefef 114.2px,#e8e8e8 116.3px,#f3f3f3 122.4px,#f7f7f7 140.9px,#f1f1f1 145.1px,#fafafa 151.2px,#ebebeb 169.7px,#f3f3f3 178px,#f0f0f0 182.1px,#f3f3f3 190.3px,#ececec 206.8px,#e6e6e6 208.8px,#e9e9e9 217.1px,#e5e5e5 223.2px,#dadada 225.3px,#d9d9d9 227.4px,#e4e4e4 231.5px,#e3e3e3 237.6px,#f3f3f3 239.7px,#fbfbfb 241.8px,#fafafa 293.2px,#fafafa 334.3px,#fafafa 363.2px,#f3f3f3 365.2px,#f2f2f2 367.3px,#f8f8f8 369.3px,#efefef 371.4px,#fbfbfb 387.8px,#fcfcfc 410.5px,#fbfbfb 470.1px,#fcfcfc 482.5px,#fafafa 503.1px,#fdfdfd 511.3px,#fbfbfb 554.5px,#fbfbfb 601.8px,#fafafa 651.2px,#f3f3f3 669.7px,#f1f1f1 673.8px,#f8f8f8 678px,#f2f2f2 682.1px,#e2e2e2 684.1px,#dedede 686.2px,#e8e8e8 690.3px,#ebebeb 692.4px,#dfdfdf 698.5px,#e2e2e2 702.6px,#ececec 706.8px,#e0e0e0 715px,#dadada 717.1px,#e4e4e4 723.2px,#d4d4d4 727.3px,#d5d5d5 729.4px,#e6e6e6 733.5px,#eee 737.6px,#ddd 743.8px,#d9d9d9 747.9px,#d5d5d5 750px)"></div>
<div class="hr" style="top:966.8px;background:linear-gradient(90deg,#f6f6f6 1px,#f5f5f5 11.3px,#f5f5f5 21.6px,#e5e5e5 23.7px,#dfdfdf 29.8px,#e5e5e5 31.9px,#f1f1f1 33.9px,#f3f3f3 36px,#e5e5e5 40.1px,#f8f8f8 44.2px,#f6f6f6 60.7px,#f9f9f9 68.9px,#f9f9f9 108px,#eee 110.1px,#d5d5d5 112.1px,#cecece 114.2px,#cfcfcf 116.3px,#e7e7e7 122.4px,#e8e8e8 126.5px,#f5f5f5 130.7px,#f1f1f1 140.9px,#e9e9e9 145.1px,#f9f9f9 151.2px,#e7e7e7 161.5px,#e5e5e5 171.8px,#f0f0f0 178px,#ececec 182.1px,#f3f3f3 188.3px,#e9e9e9 200.6px,#ececec 213px,#ededed 219.1px,#e0e0e0 225.3px,#e1e1e1 227.4px,#ededed 231.5px,#e6e6e6 235.6px,#e8e8e8 237.6px,#f6f6f6 239.7px,#fdfdfd 241.8px,#fdfdfd 324.1px,#fcfcfc 363.2px,#f6f6f6 367.3px,#fbfbfb 369.3px,#f3f3f3 371.4px,#fcfcfc 383.7px,#fcfcfc 466px,#f3f3f3 468.1px,#f0f0f0 470.1px,#f8f8f8 474.3px,#f3f3f3 482.5px,#f4f4f4 484.5px,#fcfcfc 488.7px,#fcfcfc 525.7px,#fcfcfc 605.9px,#fcfcfc 651.2px,#f7f7f7 659.4px,#f3f3f3 669.7px,#efefef 671.8px,#f7f7f7 678px,#efefef 682.1px,#dedede 684.1px,#dadada 686.2px,#eaeaea 692.4px,#dedede 698.5px,#e1e1e1 702.6px,#e8e8e8 704.7px,#e7e7e7 708.8px,#dcdcdc 717.1px,#e6e6e6 721.2px,#e5e5e5 723.2px,#d5d5d5 727.3px,#d5d5d5 729.4px,#f3f3f3 737.6px,#ebebeb 743.8px,#ececec 745.9px,#e0e0e0 750px)"></div>
<div class="hr" style="top:982.4px;background:linear-gradient(90deg,#f8f8f8 1px,#f6f6f6 13.4px,#f8f8f8 21.6px,#e3e3e3 23.7px,#dadada 27.8px,#dfdfdf 31.9px,#ececec 33.9px,#f1f1f1 36px,#e2e2e2 40.1px,#f2f2f2 44.2px,#f0f0f0 54.5px,#ececec 58.6px,#f1f1f1 62.8px,#fff 66.9px,#fff 108px,#f2f2f2 110.1px,#d7d7d7 112.1px,#d0d0d0 114.2px,#d1d1d1 116.3px,#eaeaea 122.4px,#f0f0f0 128.6px,#f6f6f6 130.7px,#efefef 136.8px,#f2f2f2 140.9px,#e9e9e9 145.1px,#f8f8f8 151.2px,#e8e8e8 161.5px,#e6e6e6 171.8px,#ededed 178px,#eee 184.1px,#f2f2f2 188.3px,#e9e9e9 213px,#eee 219.1px,#e0e0e0 225.3px,#e7e7e7 229.4px,#ebebeb 231.5px,#e0e0e0 239.7px,#e6e6e6 241.8px,#f5f5f5 243.8px,#fdfdfd 245.9px,#fdfdfd 293.2px,#fcfcfc 375.5px,#fcfcfc 457.8px,#fbfbfb 466px,#efefef 468.1px,#ebebeb 470.1px,#f8f8f8 474.3px,#f8f8f8 478.4px,#f0f0f0 482.5px,#f0f0f0 484.5px,#fcfcfc 488.7px,#fcfcfc 525.7px,#f7f7f7 531.9px,#f6f6f6 536px,#fdfdfd 554.5px,#fdfdfd 636.8px,#fdfdfd 651.2px,#f8f8f8 659.4px,#f2f2f2 671.8px,#f9f9f9 678px,#f2f2f2 682.1px,#e4e4e4 684.1px,#e2e2e2 686.2px,#ededed 692.4px,#e1e1e1 698.5px,#e7e7e7 702.6px,#eee 704.7px,#e9e9e9 715px,#e4e4e4 717.1px,#ebebeb 723.2px,#e1e1e1 727.3px,#e0e0e0 729.4px,#f0f0f0 735.6px,#f1f1f1 739.7px,#eaeaea 750px)"></div>
<div class="hr" style="top:997.9px;background:linear-gradient(90deg,#fbfbfb 1px,#fafafa 21.6px,#dfdfdf 23.7px,#dedede 25.7px,#d7d7d7 27.8px,#e0e0e0 31.9px,#f1f1f1 33.9px,#f8f8f8 36px,#f2f2f2 38.1px,#e4e4e4 40.1px,#f5f5f5 44.2px,#f4f4f4 60.7px,#fff 66.9px,#fff 108px,#f4f4f4 110.1px,#ddd 112.1px,#d7d7d7 114.2px,#dedede 118.3px,#f6f6f6 126.5px,#f5f5f5 136.8px,#f7f7f7 140.9px,#f1f1f1 145.1px,#fbfbfb 151.2px,#eee 163.6px,#ececec 171.8px,#f3f3f3 178px,#f1f1f1 182.1px,#f8f8f8 188.3px,#f2f2f2 204.7px,#f0f0f0 213px,#f0f0f0 219.1px,#e9e9e9 223.2px,#e9e9e9 229.4px,#ececec 233.5px,#e7e7e7 239.7px,#eaeaea 241.8px,#fefefe 245.9px,#fefefe 328.2px,#fefefe 410.5px,#fbfbfb 466px,#eee 468.1px,#e9e9e9 470.1px,#f7f7f7 474.3px,#f5f5f5 478.4px,#eee 482.5px,#efefef 484.5px,#f9f9f9 486.6px,#fdfdfd 490.7px,#fdfdfd 529.8px,#f5f5f5 533.9px,#fbfbfb 546.3px,#fefefe 597.7px,#fdfdfd 651.2px,#f7f7f7 659.4px,#f6f6f6 669.7px,#f2f2f2 673.8px,#f7f7f7 678px,#f2f2f2 682.1px,#e5e5e5 684.1px,#e2e2e2 686.2px,#eaeaea 692.4px,#e0e0e0 700.6px,#eaeaea 708.8px,#e7e7e7 717.1px,#eee 721.2px,#ededed 723.2px,#d3d3d3 729.4px,#d6d6d6 731.5px,#ebebeb 735.6px,#f2f2f2 737.6px,#e1e1e1 743.8px,#dfdfdf 750px)"></div>
<div class="hr" style="top:1013.5px;background:linear-gradient(90deg,#fcfcfc 1px,#fcfcfc 21.6px,#f1f1f1 27.8px,#f3f3f3 31.9px,#fbfbfb 36px,#f4f4f4 40.1px,#fcfcfc 44.2px,#fdfdfd 108px,#f1f1f1 112.1px,#f0f0f0 116.3px,#f7f7f7 124.5px,#f7f7f7 140.9px,#f2f2f2 145.1px,#fbfbfb 151.2px,#f1f1f1 171.8px,#f6f6f6 178px,#f4f4f4 182.1px,#f8f8f8 190.3px,#f3f3f3 202.7px,#f6f6f6 219.1px,#f4f4f4 233.5px,#ebebeb 239.7px,#eee 241.8px,#fefefe 245.9px,#fefefe 328.2px,#fefefe 410.5px,#fbfbfb 466px,#ececec 468.1px,#e7e7e7 470.1px,#f7f7f7 474.3px,#f9f9f9 476.3px,#eee 482.5px,#f0f0f0 484.5px,#f9f9f9 486.6px,#fdfdfd 490.7px,#fcfcfc 529.8px,#f4f4f4 533.9px,#fdfdfd 552.4px,#fdfdfd 634.7px,#f7f7f7 669.7px,#f5f5f5 673.8px,#fafafa 678px,#f5f5f5 682.1px,#ebebeb 684.1px,#e9e9e9 686.2px,#f1f1f1 692.4px,#e9e9e9 700.6px,#f3f3f3 706.8px,#ececec 717.1px,#f2f2f2 723.2px,#e2e2e2 729.4px,#e3e3e3 731.5px,#f0f0f0 735.6px,#f3f3f3 737.6px,#e4e4e4 750px)"></div>
<div class="hr" style="top:1029px;background:linear-gradient(90deg,#fdfdfd 1px,#fcfcfc 21.6px,#f5f5f5 29.8px,#fdfdfd 36px,#fafafa 42.2px,#fdfdfd 108px,#f8f8f8 110.1px,#ededed 112.1px,#eaeaea 116.3px,#fdfdfd 128.6px,#fdfdfd 149.2px,#fafafa 173.9px,#fafafa 206.8px,#fcfcfc 231.5px,#f0f0f0 235.6px,#ebebeb 239.7px,#ededed 241.8px,#fefefe 245.9px,#fefefe 328.2px,#fefefe 410.5px,#fdfdfd 459.9px,#fafafa 461.9px,#ececec 466px,#eee 470.1px,#f9f9f9 474.3px,#f7f7f7 478.4px,#f0f0f0 482.5px,#f0f0f0 484.5px,#f9f9f9 486.6px,#fdfdfd 490.7px,#fcfcfc 529.8px,#f1f1f1 533.9px,#f7f7f7 544.2px,#fdfdfd 550.4px,#fcfcfc 632.7px,#fdfdfd 653.3px,#f5f5f5 657.4px,#f3f3f3 667.7px,#fbfbfb 680px,#fafafa 682.1px,#f0f0f0 686.2px,#f6f6f6 694.4px,#f3f3f3 702.6px,#f6f6f6 710.9px,#f4f4f4 719.1px,#f6f6f6 723.2px,#f0f0f0 727.3px,#fafafa 737.6px,#f5f5f5 750px)"></div>
<svg width="1637" height="1148" viewBox="0 0 1637 1148">
<g id="panelA">
<path d="M97,258L97,103.9 L98,103.9 L98,92.6 L100.1,92.6 L100.1,92.6 L102.1,92.6 L102.1,67.6 L104.2,67.6 L104.2,70.1 L106.3,70.1 L106.3,64.3 L108.3,64.3 L108.3,78.8 L110.4,78.8 L110.4,87.6 L112.4,87.6 L112.4,93.8 L114.5,93.8 L114.5,86.3 L116.5,86.3 L116.5,88.8 L118.6,88.8 L118.6,110.1 L120.7,110.1 L120.7,126.4 L122.7,126.4 L122.7,128.9 L124.8,128.9 L124.8,136.4 L126.8,136.4 L126.8,132.7 L128.9,132.7 L128.9,122.7 L130.9,122.7 L130.9,117.6 L133,117.6 L133,130.2 L135.1,130.2 L135.1,127.7 L137.1,127.7 L137.1,131.4 L139.2,131.4 L139.2,136.4 L141.2,136.4 L141.2,157.7 L143.3,157.7 L143.3,169 L145.4,169 L145.4,157.7 L147.4,157.7 L147.4,148.9 L149.5,148.9 L149.5,135.2 L151.5,135.2 L151.5,124.7 L153.6,124.7 L153.6,151.5 L155.6,151.5 L155.6,166.5 L157.7,166.5 L157.7,152.7 L159.8,152.7 L159.8,162.7 L161.8,162.7 L161.8,165.2 L163.9,165.2 L163.9,165.2 L165.9,165.2 L165.9,176.5 L168,176.5 L168,146.4 L170,146.4 L170,132.7 L172.1,132.7 L172.1,152.7 L174.2,152.7 L174.2,161.5 L176.2,161.5 L176.2,179 L178.3,179 L178.3,162.7 L180.3,162.7 L180.3,167.7 L182.4,167.7 L182.4,162.7 L184.4,162.7 L184.4,159 L186.5,159 L186.5,176.5 L188.6,176.5 L188.6,167.7 L190.6,167.7 L190.6,170.2 L192.7,170.2 L192.7,161.5 L194.7,161.5 L194.7,169 L196.8,169 L196.8,184 L198.8,184 L198.8,189 L200.9,189 L200.9,189.8 L203,189.8 L203,190.3 L205,190.3 L205,196.5 L207.1,196.5 L207.1,180.8 L209.1,180.8 L209.1,180.8 L211.2,180.8 L211.2,191.5 L213.3,191.5 L213.3,187.8 L215.3,187.8 L215.3,184 L217.4,184 L217.4,197.8 L219.4,197.8 L219.4,187.8 L221.5,187.8 L221.5,185.3 L223.5,185.3 L223.5,205.3 L225.6,205.3 L225.6,200.3 L227.7,200.3 L227.7,220.3 L229.7,220.3 L229.7,210.3 L231.8,210.3 L231.8,205.3 L233.8,205.3 L233.8,202.8 L235.9,202.8 L235.9,194 L237.9,194 L237.9,196.5 L240,196.5 L240,204.1 L242.1,204.1 L242.1,190.3 L244.1,190.3 L244.1,187.8 L246.2,187.8 L246.2,185.3 L248.2,185.3 L248.2,185.3 L250.3,185.3 L250.3,190.3 L252.3,190.3 L252.3,200.3 L254.4,200.3 L254.4,215.3 L256.5,215.3 L256.5,210.3 L258.5,210.3 L258.5,187.8 L260.6,187.8 L260.6,185.3 L262.6,185.3 L262.6,187.8 L264.7,187.8 L264.7,191.5 L266.7,191.5 L266.7,196.5 L268.8,196.5 L268.8,204.1 L270.9,204.1 L270.9,219.1 L272.9,219.1 L272.9,212.8 L275,212.8 L275,201.5 L277,201.5 L277,210.3 L279.1,210.3 L279.1,195.8 L281.1,195.8 L281.1,204.1 L283.2,204.1 L283.2,202.8 L285.3,202.8 L285.3,205.3 L287.3,205.3 L287.3,207.8 L289.4,207.8 L289.4,202.8 L291.4,202.8 L291.4,200.3 L293.5,200.3 L293.5,202.8 L295.6,202.8 L295.6,200.3 L297.6,200.3 L297.6,204.1 L299.7,204.1 L299.7,182.3 L301.7,182.3 L301.7,188.3 L303.8,188.3 L303.8,199 L305.8,199 L305.8,202.8 L307.9,202.8 L307.9,194 L310,194 L310,215.3 L312,215.3 L312,215.3 L314.1,215.3 L314.1,214.1 L316.1,214.1 L316.1,202.8 L318.2,202.8 L318.2,207.8 L320.2,207.8 L320.2,206.6 L322.3,206.6 L322.3,186.5 L324.4,186.5 L324.4,185.3 L326.4,185.3 L326.4,185.3 L328.5,185.3 L328.5,187.8 L330.5,187.8 L330.5,192.8 L332.6,192.8 L332.6,200.3 L334.6,200.3 L334.6,205.3 L336.7,205.3 L336.7,210.3 L338.8,210.3 L338.8,212.8 L340.8,212.8 L340.8,215.3 L342.9,215.3 L342.9,217.8 L344.9,217.8 L344.9,215.3 L347,215.3 L347,217.8 L349,217.8 L349,241.6 L351.1,241.6 L351.1,232.9 L353.2,232.9 L353.2,235.4 L355.2,235.4 L355.2,237.9 L357.3,237.9 L357.3,239.1 L359.3,239.1 L359.3,227.8 L361.4,227.8 L361.4,232.9 L363.5,232.9 L363.5,231.6 L365.5,231.6 L365.5,234.1 L367.6,234.1 L367.6,235.4 L369.6,235.4 L369.6,225.3 L371.7,225.3 L371.7,224.1 L373.7,224.1 L373.7,206.6 L375.8,206.6 L375.8,215.3 L377.9,215.3 L377.9,239.1 L379.9,239.1 L379.9,232.9 L382,232.9 L382,231.6 L384,231.6 L384,229.1 L386.1,229.1 L386.1,226.6 L388.1,226.6 L388.1,225.3 L390.2,225.3 L390.2,222.8 L392.3,222.8 L392.3,232.9 L394.3,232.9 L394.3,235.4 L396.4,235.4 L396.4,232.9 L398.4,232.9 L398.4,239.1 L400.5,239.1 L400.5,225.3 L402.5,225.3 L402.5,217.8 L404.6,217.8 L404.6,219.1 L406.7,219.1 L406.7,207.8 L408.7,207.8 L408.7,222.8 L410.8,222.8 L410.8,221.6 L412.8,221.6 L412.8,211.6 L414.9,211.6 L414.9,212.8 L416.9,212.8 L416.9,215.3 L419,215.3 L419,205.3 L421.1,205.3 L421.1,207.8 L423.1,207.8 L423.1,204.1 L425.2,204.1 L425.2,212.8 L427.2,212.8 L427.2,211.6 L429.3,211.6 L429.3,224.1 L431.3,224.1 L431.3,241.6 L433.4,241.6 L433.4,240.4 L435.5,240.4 L435.5,232.9 L437.5,232.9 L437.5,229.1 L439.6,229.1 L439.6,226.6 L441.6,226.6 L441.6,220.3 L443.7,220.3 L443.7,211.6 L445.8,211.6 L445.8,204.1 L447.8,204.1 L447.8,215.3 L449.9,215.3 L449.9,231.6 L451.9,231.6 L451.9,235.4 L454,235.4 L454,242.9 L456,242.9 L456,247.9 L458.1,247.9 L458.1,250.4 L460.2,250.4 L460.2,225.3 L462.2,225.3 L462.2,220.3 L464.3,220.3 L464.3,229.1 L466.3,229.1 L466.3,215.3 L468.4,215.3 L468.4,220.3 L470.4,220.3 L470.4,215.3 L472.5,215.3 L472.5,231.6 L474.6,231.6 L474.6,221.6 L476.6,221.6 L476.6,225.3 L478.7,225.3 L478.7,212.8 L480.7,212.8 L480.7,200.3 L482.8,200.3 L482.8,187.8 L484.8,187.8 L484.8,190.3 L486.9,190.3 L486.9,205.3 L489,205.3 L489,217.8 L491,217.8 L491,209.1 L493.1,209.1 L493.1,219.1 L495.1,219.1 L495.1,222.8 L497.2,222.8 L497.2,212.8 L499.2,212.8 L499.2,204.1 L501.3,204.1 L501.3,205.3 L503.4,205.3 L503.4,221.6 L505.4,221.6 L505.4,202.8 L507.5,202.8 L507.5,205.3 L509.5,205.3 L509.5,207.8 L511.6,207.8 L511.6,205.3 L513.7,205.3 L513.7,207.8 L515.7,207.8 L515.7,215.3 L517.8,215.3 L517.8,201.5 L519.8,201.5 L519.8,195.3 L521.9,195.3 L521.9,195.3 L523.9,195.3 L523.9,197.8 L526,197.8 L526,205.3 L528.1,205.3 L528.1,200.3 L530.1,200.3 L530.1,194 L532.2,194 L532.2,190.3 L534.2,190.3 L534.2,190.3 L536.3,190.3 L536.3,172.2 L538.3,172.2 L538.3,200.3 L540.4,200.3 L540.4,195.3 L542.5,195.3 L542.5,200.3 L544.5,200.3 L544.5,197.8 L546.6,197.8 L546.6,194 L548.6,194 L548.6,204.1 L550.7,204.1 L550.7,210.3 L552.7,210.3 L552.7,202.8 L554.8,202.8 L554.8,211.6 L556.9,211.6 L556.9,200.3 L558.9,200.3 L558.9,192.8 L561,192.8 L561,195.3 L563,195.3 L563,195.3 L565.1,195.3 L565.1,190.3 L567.1,190.3 L567.1,192.8 L569.2,192.8 L569.2,197.8 L571.3,197.8 L571.3,200.3 L573.3,200.3 L573.3,196.5 L575.4,196.5 L575.4,196.5 L577.4,196.5 L577.4,184 L579.5,184 L579.5,169 L581.5,169 L581.5,164 L583.6,164 L583.6,170.2 L585.7,170.2 L585.7,181.5 L587.7,181.5 L587.7,152.7 L589.8,152.7 L589.8,171.5 L591.8,171.5 L591.8,169 L593.9,169 L593.9,148.9 L596,148.9 L596,154 L598,154 L598,175.2 L600.1,175.2 L600.1,177.8 L602.1,177.8 L602.1,169 L604.2,169 L604.2,179 L606.2,179 L606.2,176.5 L608.3,176.5 L608.3,174 L610.4,174 L610.4,175.2 L612.4,175.2 L612.4,176.5 L614.5,176.5 L614.5,174 L616.5,174 L616.5,177.8 L618.6,177.8 L618.6,170.2 L620.6,170.2 L620.6,159 L622.7,159 L622.7,154 L624.8,154 L624.8,154 L626.8,154 L626.8,162.7 L628.9,162.7 L628.9,164 L630.9,164 L630.9,151.5 L633,151.5 L633,150.2 L635,150.2 L635,157.7 L637.1,157.7 L637.1,162.7 L639.2,162.7 L639.2,172.7 L641.2,172.7 L641.2,191.5 L643.3,191.5 L643.3,185.3 L645.3,185.3 L645.3,155.2 L647.4,155.2 L647.4,127.7 L649.4,127.7 L649.4,165.2 L651.5,165.2 L651.5,172.7 L653.6,172.7 L653.6,184 L655.6,184 L655.6,186.5 L657.7,186.5 L657.7,187.8 L659.7,187.8 L659.7,175.2 L661.8,175.2 L661.8,161.5 L663.9,161.5 L663.9,147.7 L665.9,147.7 L665.9,143.9 L668,143.9 L668,119.6 L670,119.6 L670,152.7 L672.1,152.7 L672.1,196.5 L674.1,196.5 L674.1,157.7 L676.2,157.7 L676.2,126.4 L678.3,126.4 L678.3,101.4 L680.3,101.4 L680.3,113.9 L682.4,113.9 L682.4,135.2 L684.4,135.2 L684.4,161.5 L686.5,161.5 L686.5,152.7 L688.5,152.7 L688.5,121.4 L690.6,121.4 L690.6,145.2 L692.7,145.2 L692.7,142.7 L694.7,142.7 L694.7,133.9 L696.8,133.9 L696.8,142.7 L698.8,142.7 L698.8,155.2 L700.9,155.2 L700.9,146.4 L702.9,146.4 L702.9,180.3 L705,180.3 L705,184 L707.1,184 L707.1,170.2 L709.1,170.2 L709.1,157.7 L711.2,157.7 L711.2,156.5 L713.2,156.5 L713.2,152.7 L715.3,152.7 L715.3,132.7 L717.3,132.7 L717.3,106.4 L719.4,106.4 L719.4,125.2 L721.5,125.2 L721.5,122.7 L723.5,122.7 L723.5,115.1 L725.6,115.1 L725.6,122.7 L727.6,122.7 L727.6,114.4 L729.7,114.4 L729.7,138.9 L731.7,138.9 L731.7,145.2 L733.8,145.2 L733.8,140.2 L735.9,140.2 L735.9,138.9 L737.9,138.9 L737.9,152.7 L740,152.7 L740,154 L742,154 L742,170.2 L744.1,170.2 L744.1,154 L746.2,154 L746.2,118.9 L748.2,118.9 L748.2,137.7 L750.3,137.7 L750.3,132.7 L752.3,132.7 L752.3,132.7 L754.4,132.7 L754.4,116.4 L756.4,116.4 L756.4,93.8 L758.5,93.8 L758.5,92.6 L760.6,92.6 L760.6,103.9 L762.6,103.9 L762.6,103.9 L764.7,103.9 L764.7,96.4 L766.7,96.4 L766.7,111.4 L768.8,111.4 L768.8,140.2 L770.8,140.2 L770.8,118.9 L772.9,118.9 L772.9,118.9 L775,118.9 L775,117.6 L777,117.6 L777,106.4 L779.1,106.4 L779.1,98.1 L781.1,98.1 L781.1,111.4 L783.2,111.4 L783.2,122.7 L785.2,122.7 L785.2,111.4 L787.3,111.4 L787.3,111.4 L789.4,111.4 L789.4,106.4 L791.4,106.4 L791.4,113.9 L793.5,113.9 L793.5,97.6 L795.5,97.6 L795.5,107.6 L797.6,107.6 L797.6,107.6 L799.6,107.6 L799.6,93.8 L801.7,93.8 L801.7,133.9 L803.8,133.9 L803.8,155.2 L805.8,155.2 L805.8,136.4 L807.9,136.4 L807.9,142.7 L809.9,142.7 L809.9,140.2 L812,140.2 L812,127.7 L814.1,127.7 L814.1,117.6 L816.1,117.6 L816.1,120.1 L818.2,120.1 L818.2,131.4 L820.2,131.4 L820.2,98.1 L822.3,98.1 L822.3,126.4 L824.3,126.4 L824.3,141.4 L826.4,141.4 L826.4,126.4 L828.5,126.4 L828.5,107.6 L830.5,107.6 L830.5,76.3 L832.6,76.3 L832.6,77.6 L834.6,77.6 L834.6,100.1 L836.7,100.1 L836.7,81.3 L838.7,81.3 L838.7,83.8 L840.8,83.8 L840.8,78.8 L842.9,78.8 L842.9,90.1 L844.9,90.1 L844.9,92.6 L847,92.6 L847,92.6 L848,92.6 L848,258 Z" fill="#bfbfbf"/>
<path d="M98,103.9V258M100.1,92.6V258M102.1,92.6V258M104.2,70.1V258M106.3,70.1V258M108.3,78.8V258M110.4,87.6V258M112.4,93.8V258M114.5,93.8V258M116.5,88.8V258M118.6,110.1V258M120.7,126.4V258M122.7,128.9V258M124.8,136.4V258M126.8,136.4V258M128.9,132.7V258M130.9,122.7V258M133,130.2V258M135.1,130.2V258M137.1,131.4V258M139.2,136.4V258M141.2,157.7V258M143.3,169V258M145.4,169V258M147.4,157.7V258M149.5,148.9V258M151.5,135.2V258M153.6,151.5V258M155.6,166.5V258M157.7,166.5V258M159.8,162.7V258M161.8,165.2V258M163.9,165.2V258M165.9,176.5V258M168,176.5V258M170,146.4V258M172.1,152.7V258M174.2,161.5V258M176.2,179V258M178.3,179V258M180.3,167.7V258M182.4,167.7V258M184.4,162.7V258M186.5,176.5V258M188.6,176.5V258M190.6,170.2V258M192.7,170.2V258M194.7,169V258M196.8,184V258M198.8,189V258M200.9,189.8V258M203,190.3V258M205,196.5V258M207.1,196.5V258M209.1,180.8V258M211.2,191.5V258M213.3,191.5V258M215.3,187.8V258M217.4,197.8V258M219.4,197.8V258M221.5,187.8V258M223.5,205.3V258M225.6,205.3V258M227.7,220.3V258M229.7,220.3V258M231.8,210.3V258M233.8,205.3V258M235.9,202.8V258M237.9,196.5V258M240,204.1V258M242.1,204.1V258M244.1,190.3V258M246.2,187.8V258M248.2,185.3V258M250.3,190.3V258M252.3,200.3V258M254.4,215.3V258M256.5,215.3V258M258.5,210.3V258M260.6,187.8V258M262.6,187.8V258M264.7,191.5V258M266.7,196.5V258M268.8,204.1V258M270.9,219.1V258M272.9,219.1V258M275,212.8V258M277,210.3V258M279.1,210.3V258M281.1,204.1V258M283.2,204.1V258M285.3,205.3V258M287.3,207.8V258M289.4,207.8V258M291.4,202.8V258M293.5,202.8V258M295.6,202.8V258M297.6,204.1V258M299.7,204.1V258M301.7,188.3V258M303.8,199V258M305.8,202.8V258M307.9,202.8V258M310,215.3V258M312,215.3V258M314.1,215.3V258M316.1,214.1V258M318.2,207.8V258M320.2,207.8V258M322.3,206.6V258M324.4,186.5V258M326.4,185.3V258M328.5,187.8V258M330.5,192.8V258M332.6,200.3V258M334.6,205.3V258M336.7,210.3V258M338.8,212.8V258M340.8,215.3V258M342.9,217.8V258M344.9,217.8V258M347,217.8V258M349,241.6V258M351.1,241.6V258M353.2,235.4V258M355.2,237.9V258M357.3,239.1V258M359.3,239.1V258M361.4,232.9V258M363.5,232.9V258M365.5,234.1V258M367.6,235.4V258M369.6,235.4V258M371.7,225.3V258M373.7,224.1V258M375.8,215.3V258M377.9,239.1V258M379.9,239.1V258M382,232.9V258M384,231.6V258M386.1,229.1V258M388.1,226.6V258M390.2,225.3V258M392.3,232.9V258M394.3,235.4V258M396.4,235.4V258M398.4,239.1V258M400.5,239.1V258M402.5,225.3V258M404.6,219.1V258M406.7,219.1V258M408.7,222.8V258M410.8,222.8V258M412.8,221.6V258M414.9,212.8V258M416.9,215.3V258M419,215.3V258M421.1,207.8V258M423.1,207.8V258M425.2,212.8V258M427.2,212.8V258M429.3,224.1V258M431.3,241.6V258M433.4,241.6V258M435.5,240.4V258M437.5,232.9V258M439.6,229.1V258M441.6,226.6V258M443.7,220.3V258M445.8,211.6V258M447.8,215.3V258M449.9,231.6V258M451.9,235.4V258M454,242.9V258M456,247.9V258M458.1,250.4V258M460.2,250.4V258M462.2,225.3V258M464.3,229.1V258M466.3,229.1V258M468.4,220.3V258M470.4,220.3V258M472.5,231.6V258M474.6,231.6V258M476.6,225.3V258M478.7,225.3V258M480.7,212.8V258M482.8,200.3V258M484.8,190.3V258M486.9,205.3V258M489,217.8V258M491,217.8V258M493.1,219.1V258M495.1,222.8V258M497.2,222.8V258M499.2,212.8V258M501.3,205.3V258M503.4,221.6V258M505.4,221.6V258M507.5,205.3V258M509.5,207.8V258M511.6,207.8V258M513.7,207.8V258M515.7,215.3V258M517.8,215.3V258M519.8,201.5V258M521.9,195.3V258M523.9,197.8V258M526,205.3V258M528.1,205.3V258M530.1,200.3V258M532.2,194V258M534.2,190.3V258M536.3,190.3V258M538.3,200.3V258M540.4,200.3V258M542.5,200.3V258M544.5,200.3V258M546.6,197.8V258M548.6,204.1V258M550.7,210.3V258M552.7,210.3V258M554.8,211.6V258M556.9,211.6V258M558.9,200.3V258M561,195.3V258M563,195.3V258M565.1,195.3V258M567.1,192.8V258M569.2,197.8V258M571.3,200.3V258M573.3,200.3V258M575.4,196.5V258M577.4,196.5V258M579.5,184V258M581.5,169V258M583.6,170.2V258M585.7,181.5V258M587.7,181.5V258M589.8,171.5V258M591.8,171.5V258M593.9,169V258M596,154V258M598,175.2V258M600.1,177.8V258M602.1,177.8V258M604.2,179V258M606.2,179V258M608.3,176.5V258M610.4,175.2V258M612.4,176.5V258M614.5,176.5V258M616.5,177.8V258M618.6,177.8V258M620.6,170.2V258M622.7,159V258M624.8,154V258M626.8,162.7V258M628.9,164V258M630.9,164V258M633,151.5V258M635,157.7V258M637.1,162.7V258M639.2,172.7V258M641.2,191.5V258M643.3,191.5V258M645.3,185.3V258M647.4,155.2V258M649.4,165.2V258M651.5,172.7V258M653.6,184V258M655.6,186.5V258M657.7,187.8V258M659.7,187.8V258M661.8,175.2V258M663.9,161.5V258M665.9,147.7V258M668,143.9V258M670,152.7V258M672.1,196.5V258M674.1,196.5V258M676.2,157.7V258M678.3,126.4V258M680.3,113.9V258M682.4,135.2V258M684.4,161.5V258M686.5,161.5V258M688.5,152.7V258M690.6,145.2V258M692.7,145.2V258M694.7,142.7V258M696.8,142.7V258M698.8,155.2V258M700.9,155.2V258M702.9,180.3V258M705,184V258M707.1,184V258M709.1,170.2V258M711.2,157.7V258M713.2,156.5V258M715.3,152.7V258M717.3,132.7V258M719.4,125.2V258M721.5,125.2V258M723.5,122.7V258M725.6,122.7V258M727.6,122.7V258M729.7,138.9V258M731.7,145.2V258M733.8,145.2V258M735.9,140.2V258M737.9,152.7V258M740,154V258M742,170.2V258M744.1,170.2V258M746.2,154V258M748.2,137.7V258M750.3,137.7V258M752.3,132.7V258M754.4,132.7V258M756.4,116.4V258M758.5,93.8V258M760.6,103.9V258M762.6,103.9V258M764.7,103.9V258M766.7,111.4V258M768.8,140.2V258M770.8,140.2V258M772.9,118.9V258M775,118.9V258M777,117.6V258M779.1,106.4V258M781.1,111.4V258M783.2,122.7V258M785.2,122.7V258M787.3,111.4V258M789.4,111.4V258M791.4,113.9V258M793.5,113.9V258M795.5,107.6V258M797.6,107.6V258M799.6,107.6V258M801.7,133.9V258M803.8,155.2V258M805.8,155.2V258M807.9,142.7V258M809.9,142.7V258M812,140.2V258M814.1,127.7V258M816.1,120.1V258M818.2,131.4V258M820.2,131.4V258M822.3,126.4V258M824.3,141.4V258M826.4,141.4V258M828.5,126.4V258M830.5,107.6V258M832.6,77.6V258M834.6,100.1V258M836.7,100.1V258M838.7,83.8V258M840.8,83.8V258M842.9,90.1V258M844.9,92.6V258M847,92.6V258" stroke="#d6d6d6" stroke-width="0.55" fill="none"/>
<g clip-path="url(#clipA)">
</g>
<polyline fill="none" stroke="#6a5acd" stroke-width="3.1" stroke-linejoin="round" stroke-linecap="round" points="97.5,234.9 101.3,236.6 103.3,247.4 105,247.4 107,237.9 108.8,238.6 111.3,244.1 113.8,246.6 115.8,247.1 118.1,251.1 121.3,238.6 123.3,237.9 125.1,242.4 127.6,239.9 130.1,237.9 133.1,230.3 135.6,225.3 138.1,222.3 140.1,229.1 142.6,220.3 144.6,219.1 146.6,220.8 148.6,244.9 150.6,212.8 152.6,207.3 155.1,190.3 156.9,184 158.9,189.8 160.6,186.5 162.7,185.3 164.7,193.3 167.2,182.8 168.2,196.5 170.2,200.3 171.4,202.8 173.2,217.8 176.4,226.6 178.9,232.4 181.4,237.9 183.2,207.8 185.2,200.3 187.7,193.3 189.5,191.5 191.5,228.3 193.2,227.8 195.2,200.3 197.7,193.3 199.7,244.1 201.5,240.4 203.2,242.4 205.2,237.9 207.7,230.3 209.7,200.3 212.2,195.8 214.7,199 216.5,203.3 219,204.1 221.5,202.8 222.8,204.1 224.5,220.3 226.5,215.3 228.3,192.8 230.8,178.3 232.8,210.3 234.5,204.1 237,247.4 239,200.3 241,174.7 242.8,210.3 245.3,231.6 247.8,215.3 251.1,181.5 253.6,209.1 255.3,200.3 257.3,150.2 259.1,184 261.6,160.2 263.6,147.7 265.6,131.4 267.8,179 269.6,169 271.6,126.4 274.1,93.8 276.1,155.2 278.1,133.2 280.4,147.7 282.4,156.5 284.1,180.3 285.9,192.8 287.9,202.8 290.4,210.3 292.9,219.8 294.9,207.8 296.6,195.3 298.6,212.8 300.7,224.6 302.9,215.3 304.9,211.6 306.7,220.3 308.7,232.9 310.9,236.6 312.9,225.3 315.4,224.8 317.9,226.6 319.2,232.9 321.2,224.1 323.4,229.1 325.4,229.8 327.5,227.3 329.5,226.6 331.2,217.8 333.5,185.3 335.5,182.3 337.5,214.1 339.5,206.6 341.7,184 343.7,176.5 346,185.3 348,190.3 350,208.3 352,188.3 354.3,215.3 356.3,227.8 358.3,238.4 360.5,217.8 362.5,224.1 364.3,195.8 366.3,214.1 368.5,205.3 370.5,182.8 372.5,175.2 374.8,143.9 376.8,162.7 378.8,170.2 380.5,200.3 382.6,206.6 385.1,216.6 386.8,138.9 389.3,134.7 391.3,148.9 393.1,150.7 395.1,151.5 396.8,215.3 399.3,227.8 401.3,133.9 403.6,127.2 405.6,138.9 407.6,147.7 409.6,91.3 411.9,86.3 413.9,84.6 416.1,105.6 418.1,103.9 420.1,123.9 422.1,103.9 424.1,126.4 426.1,155.2 428.1,107.6 430.1,95.1 432.4,141.4 433.9,93.8 436.2,78.8 438.2,77.6 440.7,64.3 442.7,110.6 444.7,106.4 446.7,142.7 448.7,150.2 450.9,175.7 452.9,125.2 454.9,121.4 456.9,112.6 458.9,138.9 460,222.8 462,150.2 463.8,133.9 465.5,115.1 467,96.4 469.3,137.7 471.3,122.7 473.3,140.2 475.5,145.2 477.5,157.7 479.5,205.3 481.8,215.3 483.8,182.8 485.8,186.5 487.6,184 489.6,154 491.6,159 493.8,170.2 496.1,174 498.1,136.4 500.1,110.1 502.1,125.2 504.3,143.9 506.3,96.4 508.3,122.7 510.6,147.7 512.3,204.1 514.1,175.2 516.1,190.3 518.6,176.5 520.9,206.6 522.9,199 524.6,237.9 526.6,244.1 528.6,244.1 530.6,200.3 533.1,195.3 534.6,244.1 536.6,247.9 538.9,245.4 540.9,196.5 543.2,242.9 545.2,235.4 547.2,244.1 549.2,237.9 551.2,240.4 553.9,245.4 555.9,247.4 557.9,245.9 559.7,191.5 561.7,192.8 563.9,197.3 565.9,190.8 568.2,195.3 570.2,222.8 572.2,224.1 574.2,226.6 576.2,210.3 578.2,225.3 580.2,232.9 582.7,241.6 584.7,248.6 586.7,240.4 589,241.6 591,244.9 593,244.1 595.2,240.4 597,239.1 599.3,226.6 601.3,220.3 603.3,214.8 605.3,214.1 607.3,210.3 609.3,177.8 611.3,177.3 613.3,204.1 615.5,176.5 617.8,187.8 619.8,203.3 621.8,197.8 623.8,202.3 625.8,192.8 627.8,165.2 629.8,191.5 631.8,187.8 633.8,151.5 636.1,210.3 638.1,162.7 640.1,150.2 642.1,76.3 644.6,93.8 646.6,174 648.6,127.7 650.8,162.7 652.9,184 654.9,162.7 656.9,227.8 658.9,195.3 660.9,234.1 662.9,225.3 664.9,182.8 666.9,241.6 668.9,244.1 671.1,250.4 673.1,245.4 675.1,206.6 677.1,210.3 679.2,217.8 681.2,217.8 683.2,247.9 685.4,247.4 687.4,239.1 689.4,237.9 691.4,226.6 693.4,215.3 695.4,220.3 697.4,222.8 699.7,216.6 701.7,219.1 703.7,217.8 705.9,204.8 708,222.8 710,226.6 712,229.1 714.2,234.1 716.2,232.9 718.2,237.9 720.5,240.4 722.5,242.4 724.5,234.1 726.5,229.1 728.5,230.3 730.5,235.4 732.5,234.1 734.8,236.6 736.8,225.3 738.8,222.3 740.8,225.3 743,224.8 745,232.9 747,235.4 749,232.9 751,229.1 753,226.6 755,231.6 757.3,230.3 759.3,239.9 761.3,239.1 763.6,234.1 765.6,232.9 767.6,222.8 769.6,212.8 771.8,205.3 773.8,200.3 775.8,205.3 777.8,207.8 779.8,193.3 781.8,195.3 783.8,195.3 786.1,189.5 788.1,201.5 790.1,205.3 792.1,207.8 794.4,211.6 796.4,226.6 798.4,230.8 800.4,226.6 802.4,221.6 804.4,216.6 806.6,214.1 808.6,221.6 810.6,212.8 812.6,209.1 814.6,224.1 816.9,225.8 818.9,224.8 820.9,219.1 822.9,217.8 825.2,207.8 827.2,199 829.2,221.6 831.2,221.6 833.2,224.1 835.2,229.1 837.4,230.3 839.4,232.9 841.4,234.1 843.5,234.1 845.7,231.6 847,200.3"/>
<rect x="97" y="57.5" width="751" height="200.5" fill="none" stroke="#000" stroke-width="1.7"/>
<line x1="97" y1="258" x2="97" y2="270.5" stroke="#000" stroke-width="1.7"/>
<line x1="160.8" y1="258" x2="160.8" y2="270.5" stroke="#000" stroke-width="1.7"/>
<line x1="220.5" y1="258" x2="220.5" y2="270.5" stroke="#000" stroke-width="1.7"/>
<line x1="284.2" y1="258" x2="284.2" y2="270.5" stroke="#000" stroke-width="1.7"/>
<line x1="346" y1="258" x2="346" y2="270.5" stroke="#000" stroke-width="1.7"/>
<line x1="409.7" y1="258" x2="409.7" y2="270.5" stroke="#000" stroke-width="1.7"/>
<line x1="471.5" y1="258" x2="471.5" y2="270.5" stroke="#000" stroke-width="1.7"/>
<line x1="535.3" y1="258" x2="535.3" y2="270.5" stroke="#000" stroke-width="1.7"/>
<line x1="599" y1="258" x2="599" y2="270.5" stroke="#000" stroke-width="1.7"/>
<line x1="660.8" y1="258" x2="660.8" y2="270.5" stroke="#000" stroke-width="1.7"/>
<line x1="724.5" y1="258" x2="724.5" y2="270.5" stroke="#000" stroke-width="1.7"/>
<line x1="786.3" y1="258" x2="786.3" y2="270.5" stroke="#000" stroke-width="1.7"/>
<text x="126.3" y="298" font-size="25.4" text-anchor="middle">Jan</text>
<text x="189.4" y="298" font-size="25.4" text-anchor="middle">Feb</text>
<text x="252.5" y="298" font-size="25.4" text-anchor="middle">Mar</text>
<text x="315.6" y="298" font-size="25.4" text-anchor="middle">Apr</text>
<text x="378.7" y="298" font-size="25.4" text-anchor="middle">May</text>
<text x="441.8" y="298" font-size="25.4" text-anchor="middle">Jun</text>
<text x="504.9" y="298" font-size="25.4" text-anchor="middle">Jul</text>
<text x="568" y="298" font-size="25.4" text-anchor="middle">Aug</text>
<text x="631.1" y="298" font-size="25.4" text-anchor="middle">Sep</text>
<text x="694.2" y="298" font-size="25.4" text-anchor="middle">Oct</text>
<text x="757.3" y="298" font-size="25.4" text-anchor="middle">Nov</text>
<text x="820.4" y="298" font-size="25.4" text-anchor="middle">Dec</text>
<line x1="848" y1="218.6" x2="861" y2="218.6" stroke="#000" stroke-width="1.7"/>
<line x1="848" y1="176" x2="861" y2="176" stroke="#000" stroke-width="1.7"/>
<line x1="848" y1="133.4" x2="861" y2="133.4" stroke="#000" stroke-width="1.7"/>
<line x1="848" y1="90.8" x2="861" y2="90.8" stroke="#000" stroke-width="1.7"/>
<text transform="translate(887.6,217.6) rotate(-90)" font-size="25.4" text-anchor="middle">50</text>
<text transform="translate(887.6,132.4) rotate(-90)" font-size="25.4" text-anchor="middle">150</text>
<text x="77.5" y="27.5" font-size="36.5">(a)</text>
<text transform="translate(26.8,157.7) rotate(-90)" font-size="36" text-anchor="middle">N (positions)</text>
<text transform="translate(939.5,156.6) rotate(-90)" font-size="25.5" text-anchor="middle">Distance offshore (km)</text>
<text x="472.5" y="352" font-size="36" text-anchor="middle">Month</text>
</g>
<g id="panelB">
<line x1="95.2" y1="608.9" x2="848" y2="608.9" stroke="#0000ff" stroke-width="3.3" stroke-dasharray="14.2,16.2"/>
<line x1="95.2" y1="686.7" x2="848" y2="686.7" stroke="#0000ff" stroke-width="3.3" stroke-dasharray="14.2,16.2"/>
<line x1="95.2" y1="826.8" x2="848" y2="826.8" stroke="#0000ff" stroke-width="3.3" stroke-dasharray="14.2,16.2"/>
<line x1="95.2" y1="920.1" x2="848" y2="920.1" stroke="#0000ff" stroke-width="3.3" stroke-dasharray="14.2,16.2"/>
<polyline fill="none" stroke="#000" stroke-width="3.5" stroke-linejoin="round" stroke-linecap="round" points="97.5,757.3 102.5,750.8 107.5,744.1 110.5,744.6 113.8,750.3 117,750.8 120.1,747.3 123.8,742.8 127.6,741.6 130.6,750.3 134.3,757.3 137.6,749.1 140.1,740.3 143.1,740.8 146.4,750.3 148.9,756.6 152.1,756.6 155.6,760.3 158.1,761.6 160.9,764.9 163.9,759.1 167.6,752.8 171.4,744.1 174.7,739.1 177.7,737.3 180.7,744.1 183.9,752.8 187.7,761.6 190.2,762.9 193.2,770.4 196.4,771.1 198.9,764.1 202.2,764.9 205.2,772.9 209,782.9 212.2,790.9 215.2,784.1 218.2,780.4 221.5,760.3 224.7,746.6 227.8,760.3 230.8,775.4 234.5,789.2 237.8,775.4 240.8,777.9 244,790.4 247.3,801.7 250.8,806.7 253.3,806.7 256.6,811.7 259.8,816.7 263.3,811.7 266.6,802.9 269.8,792.9 272.8,784.1 275.8,774.1 278.3,772.9 280.8,769.9 283.4,777.9 285.9,792.9 289.1,804.2 292.4,810.4 295.9,814.2 298.4,802.9 300.9,791.7 304.1,794.2 306.6,787.9 309.2,785.4 312.9,787.9 315.9,797.9 319.2,810.4 322.9,821.7 325.9,815.4 329.2,802.9 331.7,800.4 334.9,787.9 338,776.6 341,776.6 344.2,782.9 347.2,770.4 350.5,755.3 353.5,749.1 356.7,735.3 360,720.3 363,714 365.5,711.5 368.5,702.2 371.8,712.8 374.8,732.8 378,750.3 381,761.6 383,764.9 385.5,759.1 388.5,750.3 391.8,745.3 395.1,740.3 398.1,717.8 400.6,690.2 403.1,670.2 405.6,662.7 408.6,655.2 411.8,644.4 414.8,647.6 417.6,660.2 420.6,666.4 423.1,669.7 426.1,668.9 428.6,656.4 430.6,655.2 433.1,650.1 436.1,652.7 438.6,665.2 441.1,682.7 443.1,692.7 446.9,684 449.4,692.7 451.9,715.3 454.4,745.3 456.2,770.4 457.7,795.4 460,800.4 462.5,811.7 465,818.5 467.5,790.4 469.5,765.4 472,740.3 475.5,717.8 478.8,687.7 482,652.7 485,631.4 488.1,623.8 490.6,621.3 493.8,616.3 497.6,611.3 500.6,622.6 503.1,628.9 505.6,642.6 508.1,656.4 510.6,666.4 513.1,676.4 516.4,677.7 518.9,663.9 521.9,652.7 524.6,645.9 527.1,650.1 529.6,656.4 532.6,650.1 535.1,637.6 537.6,626.4 541.4,620.1 545.2,616.3 548.2,621.3 550.7,627.6 553.9,636.4 556.4,622.6 558.9,613.8 561.4,612.6 563.9,621.3 566.4,640.1 568.4,655.2 570.7,655.2 573.2,646.4 576.5,640.1 579.7,635.1 582.7,631.4 586.5,623.3 589.7,627.6 592.2,640.1 595.2,650.1 598.3,662.7 600.8,675.2 602.8,690.2 605.3,692 608.3,684 611.5,673.9 614.8,666.4 617.3,657.7 619.8,643.9 622.3,641.4 624.8,653.9 627.3,662.7 629.8,656.4 632.8,661.4 636.1,665.2 639.1,664.7 642.3,667.7 645.3,663.9 648.3,655.2 651.6,646.4 654.9,638.9 657.9,626.4 660.4,612.6 663.4,600.1 665.9,590 668.6,581.3 671.1,588.8 674.1,593.8 677.4,595 679.9,605.1 682.4,616.3 685.4,622.6 687.9,626.4 690.4,623.1 693.7,632.6 696.7,628.9 699.9,621.3 702.9,617.1 705.9,616.3 708.5,617.1 711,628.9 713.5,640.1 716,645.9 719.2,642.6 722.5,633.9 725.5,632.1 728.5,640.6 731.7,640.1 735,638.9 738,647.6 740.5,652.7 743,663.9 745.5,677.7 748,692.7 751,706.5 754.3,702.7 757.5,697.7 760.5,694.7 763.6,698.2 766.8,697.7 770.1,702.7 773.1,709 776.1,714 779.3,724 782.6,735.3 785.6,740.3 788.6,738.3 791.9,737.3 794.4,732.8 797.6,737.8 800.6,739.1 803.1,737.3 806.1,741.6 809.4,744.1 812.6,745.3 815.7,751.6 818.7,757.8 821.9,757.8 824.9,762.4 828.2,764.9 831.4,764.9 834.4,760.3 837.4,756.6 840.7,757.8 843.7,755.8 847,756.6 848.2,761.6"/>
<text x="139.7" y="639.7" font-size="25.4">NSW Nursery Area (NA)</text>
<text x="275.4" y="899.2" font-size="25.3">Eastern Bass Strait (EBS)</text>
<rect x="97" y="422.2" width="751" height="622.4" fill="none" stroke="#000" stroke-width="1.7"/>
<line x1="84" y1="422.2" x2="97" y2="422.2" stroke="#000" stroke-width="1.7"/>
<text transform="translate(76.6,424) rotate(-90)" font-size="25.4" text-anchor="middle">25</text>
<line x1="84" y1="577.8" x2="97" y2="577.8" stroke="#000" stroke-width="1.7"/>
<text transform="translate(76.6,579.6) rotate(-90)" font-size="25.4" text-anchor="middle">30</text>
<line x1="84" y1="733.4" x2="97" y2="733.4" stroke="#000" stroke-width="1.7"/>
<text transform="translate(76.6,735.2) rotate(-90)" font-size="25.4" text-anchor="middle">35</text>
<line x1="84" y1="889" x2="97" y2="889" stroke="#000" stroke-width="1.7"/>
<text transform="translate(76.6,890.8) rotate(-90)" font-size="25.4" text-anchor="middle">40</text>
<line x1="84" y1="1044.6" x2="97" y2="1044.6" stroke="#000" stroke-width="1.7"/>
<text transform="translate(76.6,1046.4) rotate(-90)" font-size="25.4" text-anchor="middle">45</text>
<line x1="97" y1="1044.6" x2="97" y2="1057.1" stroke="#000" stroke-width="1.7"/>
<line x1="160.8" y1="1044.6" x2="160.8" y2="1057.1" stroke="#000" stroke-width="1.7"/>
<line x1="220.5" y1="1044.6" x2="220.5" y2="1057.1" stroke="#000" stroke-width="1.7"/>
<line x1="284.2" y1="1044.6" x2="284.2" y2="1057.1" stroke="#000" stroke-width="1.7"/>
<line x1="346" y1="1044.6" x2="346" y2="1057.1" stroke="#000" stroke-width="1.7"/>
<line x1="409.7" y1="1044.6" x2="409.7" y2="1057.1" stroke="#000" stroke-width="1.7"/>
<line x1="471.5" y1="1044.6" x2="471.5" y2="1057.1" stroke="#000" stroke-width="1.7"/>
<line x1="535.3" y1="1044.6" x2="535.3" y2="1057.1" stroke="#000" stroke-width="1.7"/>
<line x1="599" y1="1044.6" x2="599" y2="1057.1" stroke="#000" stroke-width="1.7"/>
<line x1="660.8" y1="1044.6" x2="660.8" y2="1057.1" stroke="#000" stroke-width="1.7"/>
<line x1="724.5" y1="1044.6" x2="724.5" y2="1057.1" stroke="#000" stroke-width="1.7"/>
<line x1="786.3" y1="1044.6" x2="786.3" y2="1057.1" stroke="#000" stroke-width="1.7"/>
<text x="126.3" y="1086" font-size="25.4" text-anchor="middle">Jan</text>
<text x="189.4" y="1086" font-size="25.4" text-anchor="middle">Feb</text>
<text x="252.5" y="1086" font-size="25.4" text-anchor="middle">Mar</text>
<text x="315.6" y="1086" font-size="25.4" text-anchor="middle">Apr</text>
<text x="378.7" y="1086" font-size="25.4" text-anchor="middle">May</text>
<text x="441.8" y="1086" font-size="25.4" text-anchor="middle">Jun</text>
<text x="504.9" y="1086" font-size="25.4" text-anchor="middle">Jul</text>
<text x="568" y="1086" font-size="25.4" text-anchor="middle">Aug</text>
<text x="631.1" y="1086" font-size="25.4" text-anchor="middle">Sep</text>
<text x="694.2" y="1086" font-size="25.4" text-anchor="middle">Oct</text>
<text x="757.3" y="1086" font-size="25.4" text-anchor="middle">Nov</text>
<text x="820.4" y="1086" font-size="25.4" text-anchor="middle">Dec</text>
<text x="78" y="374.4" font-size="36.5">(b)</text>
<text transform="translate(26.8,733) rotate(-90)" font-size="36" text-anchor="middle">Latitude</text>
<text x="472.5" y="1141" font-size="36" text-anchor="middle">Month</text>
</g>
<g id="panelC">
<g shape-rendering="crispEdges"><rect x="1378.9" y="422.2" width="7.2" height="4.1" fill="#dcdcdc"/><rect x="1385.9" y="422.2" width="7.2" height="4.1" fill="#cdcd95"/><rect x="1378.9" y="426.1" width="7.2" height="8" fill="#dcdcdc"/><rect x="1385.9" y="426.1" width="7.2" height="8" fill="#cdcd95"/><rect x="1378.9" y="433.9" width="7.2" height="8" fill="#cdcd95"/><rect x="1385.9" y="433.9" width="7.2" height="8" fill="#cdcd95"/><rect x="1392.8" y="433.9" width="7.2" height="8" fill="#c0c0c0"/><rect x="1378.9" y="441.6" width="7.2" height="8" fill="#cdcd95"/><rect x="1385.9" y="441.6" width="7.2" height="8" fill="#cecece"/><rect x="1392.8" y="441.6" width="7.2" height="8" fill="#cdcd95"/><rect x="1378.9" y="449.4" width="7.2" height="8" fill="#dcdcdc"/><rect x="1385.9" y="449.4" width="7.2" height="8" fill="#e2e250"/><rect x="1392.8" y="449.4" width="7.2" height="8" fill="#e2e250"/><rect x="1378.9" y="457.2" width="7.2" height="8" fill="#cecece"/><rect x="1385.9" y="457.2" width="7.2" height="8" fill="#e2e250"/><rect x="1392.8" y="457.2" width="7.2" height="8" fill="#fff200"/><rect x="1378.9" y="465" width="7.2" height="8" fill="#cdcd95"/><rect x="1385.9" y="465" width="7.2" height="8" fill="#cdcd95"/><rect x="1392.8" y="465" width="7.2" height="8" fill="#c0c0c0"/><rect x="1378.9" y="472.8" width="7.2" height="8" fill="#c0c0c0"/><rect x="1385.9" y="472.8" width="7.2" height="8" fill="#f4f01a"/><rect x="1392.8" y="472.8" width="7.2" height="8" fill="#dcdcdc"/><rect x="1385.9" y="480.6" width="7.2" height="8" fill="#f4f01a"/><rect x="1392.8" y="480.6" width="7.2" height="8" fill="#cecece"/><rect x="1385.9" y="488.3" width="7.2" height="8" fill="#e2e250"/><rect x="1392.8" y="488.3" width="7.2" height="8" fill="#cdcd95"/><rect x="1385.9" y="496.1" width="7.2" height="8" fill="#e2e250"/><rect x="1392.8" y="496.1" width="7.2" height="8" fill="#cdcd95"/><rect x="1434.6" y="496.1" width="7.2" height="8" fill="#e9e9e9"/><rect x="1385.9" y="503.9" width="7.2" height="8" fill="#f4f01a"/><rect x="1392.8" y="503.9" width="7.2" height="8" fill="#e2e250"/><rect x="1385.9" y="511.7" width="7.2" height="8" fill="#f4f01a"/><rect x="1392.8" y="511.7" width="7.2" height="8" fill="#f4f01a"/><rect x="1385.9" y="519.5" width="7.2" height="8" fill="#cecece"/><rect x="1392.8" y="519.5" width="7.2" height="8" fill="#f4f01a"/><rect x="1399.8" y="519.5" width="7.2" height="8" fill="#e9e9e9"/><rect x="997.1" y="768.4" width="6.2" height="8" fill="#dcdcdc"/><rect x="997.1" y="784" width="6.2" height="8" fill="#cecece"/><rect x="1003.1" y="784" width="7.2" height="8" fill="#cecece"/><rect x="997.1" y="791.8" width="6.2" height="8" fill="#dcdcdc"/><rect x="1003.1" y="791.8" width="7.2" height="8" fill="#cecece"/><rect x="997.1" y="799.5" width="6.2" height="8" fill="#cdcd95"/><rect x="1003.1" y="799.5" width="7.2" height="8" fill="#cdcd95"/><rect x="997.1" y="807.3" width="6.2" height="8" fill="#e9e9e9"/><rect x="1003.1" y="807.3" width="7.2" height="8" fill="#cdcd95"/><rect x="1010" y="807.3" width="7.2" height="8" fill="#cecece"/><rect x="1017" y="807.3" width="7.2" height="8" fill="#cecece"/><rect x="1010" y="815.1" width="7.2" height="8" fill="#cecece"/><rect x="1017" y="815.1" width="7.2" height="8" fill="#cecece"/><rect x="1023.9" y="815.1" width="7.2" height="8" fill="#dcdcdc"/><rect x="1017" y="822.9" width="7.2" height="8" fill="#cecece"/><rect x="1023.9" y="822.9" width="7.2" height="8" fill="#cecece"/><rect x="1030.9" y="822.9" width="7.2" height="8" fill="#cecece"/><rect x="1037.9" y="822.9" width="7.2" height="8" fill="#cecece"/><rect x="1225.8" y="822.9" width="7.2" height="8" fill="#f4f01a"/><rect x="1232.7" y="822.9" width="7.2" height="8" fill="#f4f01a"/><rect x="1239.7" y="822.9" width="7.2" height="8" fill="#e2e250"/><rect x="1246.7" y="822.9" width="7.2" height="8" fill="#e2e250"/><rect x="1253.6" y="822.9" width="7.2" height="8" fill="#e2e250"/><rect x="1260.6" y="822.9" width="7.2" height="8" fill="#e2e250"/><rect x="1267.5" y="822.9" width="7.2" height="8" fill="#e2e250"/><rect x="1274.5" y="822.9" width="7.2" height="8" fill="#e2e250"/><rect x="1281.5" y="822.9" width="7.2" height="8" fill="#e2e250"/><rect x="1288.4" y="822.9" width="7.2" height="8" fill="#c0c0c0"/><rect x="1309.3" y="822.9" width="7.2" height="8" fill="#e9e9e9"/><rect x="1337.1" y="822.9" width="7.2" height="8" fill="#e9e9e9"/><rect x="1351.1" y="822.9" width="7.2" height="8" fill="#dcdcdc"/><rect x="1358" y="822.9" width="7.2" height="8" fill="#e9e9e9"/><rect x="1365" y="822.9" width="7.2" height="8" fill="#e9e9e9"/><rect x="1371.9" y="822.9" width="7.2" height="8" fill="#e9e9e9"/><rect x="1030.9" y="830.6" width="7.2" height="8" fill="#dcdcdc"/><rect x="1037.9" y="830.6" width="7.2" height="8" fill="#e2e250"/><rect x="1044.8" y="830.6" width="7.2" height="8" fill="#e2e250"/><rect x="1058.7" y="830.6" width="7.2" height="8" fill="#e9e9e9"/><rect x="1065.7" y="830.6" width="7.2" height="8" fill="#dcdcdc"/><rect x="1211.9" y="830.6" width="7.2" height="8" fill="#cdcd95"/><rect x="1218.8" y="830.6" width="7.2" height="8" fill="#f4f01a"/><rect x="1225.8" y="830.6" width="7.2" height="8" fill="#ffd000"/><rect x="1232.7" y="830.6" width="7.2" height="8" fill="#fff200"/><rect x="1239.7" y="830.6" width="7.2" height="8" fill="#e2e250"/><rect x="1246.7" y="830.6" width="7.2" height="8" fill="#e2e250"/><rect x="1253.6" y="830.6" width="7.2" height="8" fill="#e2e250"/><rect x="1260.6" y="830.6" width="7.2" height="8" fill="#e2e250"/><rect x="1267.5" y="830.6" width="7.2" height="8" fill="#c0c0c0"/><rect x="1274.5" y="830.6" width="7.2" height="8" fill="#c0c0c0"/><rect x="1281.5" y="830.6" width="7.2" height="8" fill="#cdcd95"/><rect x="1351.1" y="830.6" width="7.2" height="8" fill="#e9e9e9"/><rect x="1044.8" y="838.4" width="7.2" height="8" fill="#e9e9e9"/><rect x="1051.8" y="838.4" width="7.2" height="8" fill="#cdcd95"/><rect x="1058.7" y="838.4" width="7.2" height="8" fill="#cdcd95"/><rect x="1065.7" y="838.4" width="7.2" height="8" fill="#fff200"/><rect x="1072.7" y="838.4" width="7.2" height="8" fill="#e2e250"/><rect x="1079.6" y="838.4" width="7.2" height="8" fill="#cecece"/><rect x="1121.4" y="838.4" width="7.2" height="8" fill="#cecece"/><rect x="1128.3" y="838.4" width="7.2" height="8" fill="#cdcd95"/><rect x="1135.3" y="838.4" width="7.2" height="8" fill="#cdcd95"/><rect x="1142.3" y="838.4" width="7.2" height="8" fill="#cdcd95"/><rect x="1149.2" y="838.4" width="7.2" height="8" fill="#cdcd95"/><rect x="1204.9" y="838.4" width="7.2" height="8" fill="#e2e250"/><rect x="1211.9" y="838.4" width="7.2" height="8" fill="#f4f01a"/><rect x="1218.8" y="838.4" width="7.2" height="8" fill="#fff200"/><rect x="1225.8" y="838.4" width="7.2" height="8" fill="#fff200"/><rect x="1232.7" y="838.4" width="7.2" height="8" fill="#fff200"/><rect x="1239.7" y="838.4" width="7.2" height="8" fill="#e2e250"/><rect x="1246.7" y="838.4" width="7.2" height="8" fill="#dcdcdc"/><rect x="1253.6" y="838.4" width="7.2" height="8" fill="#dcdcdc"/><rect x="1274.5" y="838.4" width="7.2" height="8" fill="#dcdcdc"/><rect x="1281.5" y="838.4" width="7.2" height="8" fill="#e9e9e9"/><rect x="1295.4" y="838.4" width="7.2" height="8" fill="#cecece"/><rect x="1302.3" y="838.4" width="7.2" height="8" fill="#e9e9e9"/><rect x="1309.3" y="838.4" width="7.2" height="8" fill="#cecece"/><rect x="1316.3" y="838.4" width="7.2" height="8" fill="#cecece"/><rect x="1323.2" y="838.4" width="7.2" height="8" fill="#dcdcdc"/><rect x="1358" y="838.4" width="7.2" height="8" fill="#e9e9e9"/><rect x="1051.8" y="846.2" width="7.2" height="8" fill="#dcdcdc"/><rect x="1086.6" y="846.2" width="7.2" height="8" fill="#cecece"/><rect x="1093.5" y="846.2" width="7.2" height="8" fill="#e9e9e9"/><rect x="1121.4" y="846.2" width="7.2" height="8" fill="#cdcd95"/><rect x="1128.3" y="846.2" width="7.2" height="8" fill="#cecece"/><rect x="1135.3" y="846.2" width="7.2" height="8" fill="#cdcd95"/><rect x="1142.3" y="846.2" width="7.2" height="8" fill="#cecece"/><rect x="1149.2" y="846.2" width="7.2" height="8" fill="#cecece"/><rect x="1156.2" y="846.2" width="7.2" height="8" fill="#cecece"/><rect x="1184" y="846.2" width="7.2" height="8" fill="#dcdcdc"/><rect x="1197.9" y="846.2" width="7.2" height="8" fill="#f4f01a"/><rect x="1204.9" y="846.2" width="7.2" height="8" fill="#fff200"/><rect x="1211.9" y="846.2" width="7.2" height="8" fill="#fff200"/><rect x="1218.8" y="846.2" width="7.2" height="8" fill="#fff200"/><rect x="1225.8" y="846.2" width="7.2" height="8" fill="#fff200"/><rect x="1232.7" y="846.2" width="7.2" height="8" fill="#fff200"/><rect x="1239.7" y="846.2" width="7.2" height="8" fill="#e2e250"/><rect x="1253.6" y="846.2" width="7.2" height="8" fill="#dcdcdc"/><rect x="1302.3" y="846.2" width="7.2" height="8" fill="#dcdcdc"/><rect x="1309.3" y="846.2" width="7.2" height="8" fill="#cecece"/><rect x="1371.9" y="846.2" width="7.2" height="8" fill="#dcdcdc"/><rect x="1406.7" y="846.2" width="7.2" height="8" fill="#e9e9e9"/><rect x="1093.5" y="854" width="7.2" height="8" fill="#e9e9e9"/><rect x="1100.5" y="854" width="7.2" height="8" fill="#dcdcdc"/><rect x="1121.4" y="854" width="7.2" height="8" fill="#e9e9e9"/><rect x="1128.3" y="854" width="7.2" height="8" fill="#dcdcdc"/><rect x="1135.3" y="854" width="7.2" height="8" fill="#dcdcdc"/><rect x="1149.2" y="854" width="7.2" height="8" fill="#cecece"/><rect x="1156.2" y="854" width="7.2" height="8" fill="#cdcd95"/><rect x="1163.1" y="854" width="7.2" height="8" fill="#cdcd95"/><rect x="1170.1" y="854" width="7.2" height="8" fill="#cecece"/><rect x="1177.1" y="854" width="7.2" height="8" fill="#cecece"/><rect x="1191" y="854" width="7.2" height="8" fill="#ff9800"/><rect x="1197.9" y="854" width="7.2" height="8" fill="#fff200"/><rect x="1204.9" y="854" width="7.2" height="8" fill="#fff200"/><rect x="1211.9" y="854" width="7.2" height="8" fill="#fff200"/><rect x="1218.8" y="854" width="7.2" height="8" fill="#fff200"/><rect x="1225.8" y="854" width="7.2" height="8" fill="#fff200"/><rect x="1232.7" y="854" width="7.2" height="8" fill="#ffd000"/><rect x="1239.7" y="854" width="7.2" height="8" fill="#e2e250"/><rect x="1246.7" y="854" width="7.2" height="8" fill="#cdcd95"/><rect x="1253.6" y="854" width="7.2" height="8" fill="#e9e9e9"/><rect x="1302.3" y="854" width="7.2" height="8" fill="#e9e9e9"/><rect x="1309.3" y="854" width="7.2" height="8" fill="#e9e9e9"/><rect x="1316.3" y="854" width="7.2" height="8" fill="#e9e9e9"/><rect x="1100.5" y="861.8" width="7.2" height="8" fill="#dcdcdc"/><rect x="1107.5" y="861.8" width="7.2" height="8" fill="#e9e9e9"/><rect x="1114.4" y="861.8" width="7.2" height="8" fill="#cecece"/><rect x="1121.4" y="861.8" width="7.2" height="8" fill="#dcdcdc"/><rect x="1128.3" y="861.8" width="7.2" height="8" fill="#cecece"/><rect x="1135.3" y="861.8" width="7.2" height="8" fill="#cecece"/><rect x="1142.3" y="861.8" width="7.2" height="8" fill="#dcdcdc"/><rect x="1149.2" y="861.8" width="7.2" height="8" fill="#c0c0c0"/><rect x="1156.2" y="861.8" width="7.2" height="8" fill="#cecece"/><rect x="1170.1" y="861.8" width="7.2" height="8" fill="#cecece"/><rect x="1177.1" y="861.8" width="7.2" height="8" fill="#cecece"/><rect x="1184" y="861.8" width="7.2" height="8" fill="#cdcd95"/><rect x="1191" y="861.8" width="7.2" height="8" fill="#cdcd95"/><rect x="1197.9" y="861.8" width="7.2" height="8" fill="#cdcd95"/><rect x="1204.9" y="861.8" width="7.2" height="8" fill="#fff200"/><rect x="1211.9" y="861.8" width="7.2" height="8" fill="#fff200"/><rect x="1218.8" y="861.8" width="7.2" height="8" fill="#f4f01a"/><rect x="1225.8" y="861.8" width="7.2" height="8" fill="#f4f01a"/><rect x="1232.7" y="861.8" width="7.2" height="8" fill="#f4f01a"/><rect x="1239.7" y="861.8" width="7.2" height="8" fill="#e2e250"/><rect x="1246.7" y="861.8" width="7.2" height="8" fill="#cecece"/><rect x="1253.6" y="861.8" width="7.2" height="8" fill="#dcdcdc"/><rect x="1267.5" y="861.8" width="7.2" height="8" fill="#cecece"/><rect x="1274.5" y="861.8" width="7.2" height="8" fill="#e9e9e9"/><rect x="1302.3" y="861.8" width="7.2" height="8" fill="#e9e9e9"/><rect x="1337.1" y="861.8" width="7.2" height="8" fill="#dcdcdc"/><rect x="1378.9" y="861.8" width="7.2" height="8" fill="#e9e9e9"/><rect x="1399.8" y="861.8" width="7.2" height="8" fill="#e9e9e9"/><rect x="1051.8" y="869.5" width="7.2" height="8" fill="#e9e9e9"/><rect x="1093.5" y="869.5" width="7.2" height="8" fill="#e9e9e9"/><rect x="1100.5" y="869.5" width="7.2" height="8" fill="#e9e9e9"/><rect x="1107.5" y="869.5" width="7.2" height="8" fill="#c0c0c0"/><rect x="1121.4" y="869.5" width="7.2" height="8" fill="#e9e9e9"/><rect x="1135.3" y="869.5" width="7.2" height="8" fill="#c0c0c0"/><rect x="1142.3" y="869.5" width="7.2" height="8" fill="#cecece"/><rect x="1149.2" y="869.5" width="7.2" height="8" fill="#dcdcdc"/><rect x="1156.2" y="869.5" width="7.2" height="8" fill="#cecece"/><rect x="1163.1" y="869.5" width="7.2" height="8" fill="#cecece"/><rect x="1170.1" y="869.5" width="7.2" height="8" fill="#cecece"/><rect x="1177.1" y="869.5" width="7.2" height="8" fill="#cecece"/><rect x="1184" y="869.5" width="7.2" height="8" fill="#e2e250"/><rect x="1191" y="869.5" width="7.2" height="8" fill="#e2e250"/><rect x="1197.9" y="869.5" width="7.2" height="8" fill="#cecece"/><rect x="1204.9" y="869.5" width="7.2" height="8" fill="#cecece"/><rect x="1211.9" y="869.5" width="7.2" height="8" fill="#cecece"/><rect x="1218.8" y="869.5" width="7.2" height="8" fill="#cdcd95"/><rect x="1225.8" y="869.5" width="7.2" height="8" fill="#fff200"/><rect x="1232.7" y="869.5" width="7.2" height="8" fill="#f4f01a"/><rect x="1239.7" y="869.5" width="7.2" height="8" fill="#e2e250"/><rect x="1246.7" y="869.5" width="7.2" height="8" fill="#e2e250"/><rect x="1253.6" y="869.5" width="7.2" height="8" fill="#cdcd95"/><rect x="1267.5" y="869.5" width="7.2" height="8" fill="#e9e9e9"/><rect x="1274.5" y="869.5" width="7.2" height="8" fill="#dcdcdc"/><rect x="1281.5" y="869.5" width="7.2" height="8" fill="#dcdcdc"/><rect x="1351.1" y="869.5" width="7.2" height="8" fill="#e9e9e9"/><rect x="1385.9" y="869.5" width="7.2" height="8" fill="#e9e9e9"/><rect x="1392.8" y="869.5" width="7.2" height="8" fill="#cecece"/><rect x="1086.6" y="877.3" width="7.2" height="8" fill="#e9e9e9"/><rect x="1100.5" y="877.3" width="7.2" height="8" fill="#e9e9e9"/><rect x="1107.5" y="877.3" width="7.2" height="8" fill="#e9e9e9"/><rect x="1128.3" y="877.3" width="7.2" height="8" fill="#e9e9e9"/><rect x="1135.3" y="877.3" width="7.2" height="8" fill="#cecece"/><rect x="1142.3" y="877.3" width="7.2" height="8" fill="#cdcd95"/><rect x="1149.2" y="877.3" width="7.2" height="8" fill="#c0c0c0"/><rect x="1163.1" y="877.3" width="7.2" height="8" fill="#e9e9e9"/><rect x="1170.1" y="877.3" width="7.2" height="8" fill="#cdcd95"/><rect x="1177.1" y="877.3" width="7.2" height="8" fill="#dcdcdc"/><rect x="1184" y="877.3" width="7.2" height="8" fill="#e9e9e9"/><rect x="1191" y="877.3" width="7.2" height="8" fill="#cdcd95"/><rect x="1197.9" y="877.3" width="7.2" height="8" fill="#cecece"/><rect x="1204.9" y="877.3" width="7.2" height="8" fill="#dcdcdc"/><rect x="1211.9" y="877.3" width="7.2" height="8" fill="#c0c0c0"/><rect x="1218.8" y="877.3" width="7.2" height="8" fill="#cdcd95"/><rect x="1225.8" y="877.3" width="7.2" height="8" fill="#e2e250"/><rect x="1232.7" y="877.3" width="7.2" height="8" fill="#cecece"/><rect x="1239.7" y="877.3" width="7.2" height="8" fill="#e2e250"/><rect x="1246.7" y="877.3" width="7.2" height="8" fill="#e2e250"/><rect x="1253.6" y="877.3" width="7.2" height="8" fill="#e2e250"/><rect x="1274.5" y="877.3" width="7.2" height="8" fill="#dcdcdc"/><rect x="1323.2" y="877.3" width="7.2" height="8" fill="#cecece"/><rect x="1358" y="877.3" width="7.2" height="8" fill="#e9e9e9"/><rect x="1365" y="877.3" width="7.2" height="8" fill="#e9e9e9"/><rect x="1371.9" y="877.3" width="7.2" height="8" fill="#e9e9e9"/><rect x="1378.9" y="877.3" width="7.2" height="8" fill="#dcdcdc"/><rect x="1058.7" y="885.1" width="7.2" height="8" fill="#e9e9e9"/><rect x="1100.5" y="885.1" width="7.2" height="8" fill="#e9e9e9"/><rect x="1135.3" y="885.1" width="7.2" height="8" fill="#e2e250"/><rect x="1142.3" y="885.1" width="7.2" height="8" fill="#e2e250"/><rect x="1149.2" y="885.1" width="7.2" height="8" fill="#cdcd95"/><rect x="1156.2" y="885.1" width="7.2" height="8" fill="#cdcd95"/><rect x="1163.1" y="885.1" width="7.2" height="8" fill="#dcdcdc"/><rect x="1170.1" y="885.1" width="7.2" height="8" fill="#e9e9e9"/><rect x="1177.1" y="885.1" width="7.2" height="8" fill="#dcdcdc"/><rect x="1184" y="885.1" width="7.2" height="8" fill="#dcdcdc"/><rect x="1197.9" y="885.1" width="7.2" height="8" fill="#c0c0c0"/><rect x="1204.9" y="885.1" width="7.2" height="8" fill="#cdcd95"/><rect x="1211.9" y="885.1" width="7.2" height="8" fill="#c0c0c0"/><rect x="1218.8" y="885.1" width="7.2" height="8" fill="#cdcd95"/><rect x="1225.8" y="885.1" width="7.2" height="8" fill="#cdcd95"/><rect x="1246.7" y="885.1" width="7.2" height="8" fill="#cdcd95"/><rect x="1253.6" y="885.1" width="7.2" height="8" fill="#dcdcdc"/><rect x="1274.5" y="885.1" width="7.2" height="8" fill="#dcdcdc"/><rect x="1281.5" y="885.1" width="7.2" height="8" fill="#cecece"/><rect x="1434.6" y="885.1" width="7.2" height="8" fill="#e9e9e9"/><rect x="1121.4" y="892.9" width="7.2" height="8" fill="#e9e9e9"/><rect x="1128.3" y="892.9" width="7.2" height="8" fill="#c0c0c0"/><rect x="1135.3" y="892.9" width="7.2" height="8" fill="#cecece"/><rect x="1142.3" y="892.9" width="7.2" height="8" fill="#e9e9e9"/><rect x="1149.2" y="892.9" width="7.2" height="8" fill="#c0c0c0"/><rect x="1156.2" y="892.9" width="7.2" height="8" fill="#e2e250"/><rect x="1163.1" y="892.9" width="7.2" height="8" fill="#cdcd95"/><rect x="1170.1" y="892.9" width="7.2" height="8" fill="#dcdcdc"/><rect x="1177.1" y="892.9" width="7.2" height="8" fill="#dcdcdc"/><rect x="1204.9" y="892.9" width="7.2" height="8" fill="#dcdcdc"/><rect x="1211.9" y="892.9" width="7.2" height="8" fill="#e2e250"/><rect x="1218.8" y="892.9" width="7.2" height="8" fill="#f4f01a"/><rect x="1225.8" y="892.9" width="7.2" height="8" fill="#f4f01a"/><rect x="1232.7" y="892.9" width="7.2" height="8" fill="#cdcd95"/><rect x="1246.7" y="892.9" width="7.2" height="8" fill="#cdcd95"/><rect x="1253.6" y="892.9" width="7.2" height="8" fill="#cecece"/><rect x="1330.2" y="892.9" width="7.2" height="8" fill="#e9e9e9"/><rect x="1337.1" y="892.9" width="7.2" height="8" fill="#e9e9e9"/><rect x="1420.7" y="892.9" width="7.2" height="8" fill="#dcdcdc"/><rect x="1434.6" y="892.9" width="7.2" height="8" fill="#e9e9e9"/><rect x="1441.5" y="892.9" width="7.1" height="8" fill="#e9e9e9"/><rect x="1128.3" y="900.7" width="7.2" height="8" fill="#cecece"/><rect x="1149.2" y="900.7" width="7.2" height="8" fill="#dcdcdc"/><rect x="1156.2" y="900.7" width="7.2" height="8" fill="#cdcd95"/><rect x="1163.1" y="900.7" width="7.2" height="8" fill="#cecece"/><rect x="1170.1" y="900.7" width="7.2" height="8" fill="#dcdcdc"/><rect x="1177.1" y="900.7" width="7.2" height="8" fill="#dcdcdc"/><rect x="1184" y="900.7" width="7.2" height="8" fill="#dcdcdc"/><rect x="1191" y="900.7" width="7.2" height="8" fill="#e9e9e9"/><rect x="1204.9" y="900.7" width="7.2" height="8" fill="#dcdcdc"/><rect x="1211.9" y="900.7" width="7.2" height="8" fill="#e2e250"/><rect x="1218.8" y="900.7" width="7.2" height="8" fill="#f4f01a"/><rect x="1225.8" y="900.7" width="7.2" height="8" fill="#e2e250"/><rect x="1232.7" y="900.7" width="7.2" height="8" fill="#cecece"/><rect x="1246.7" y="900.7" width="7.2" height="8" fill="#cecece"/><rect x="1253.6" y="900.7" width="7.2" height="8" fill="#cecece"/><rect x="1267.5" y="900.7" width="7.2" height="8" fill="#e9e9e9"/><rect x="1274.5" y="900.7" width="7.2" height="8" fill="#e9e9e9"/><rect x="1281.5" y="900.7" width="7.2" height="8" fill="#dcdcdc"/><rect x="1323.2" y="900.7" width="7.2" height="8" fill="#dcdcdc"/><rect x="1163.1" y="908.5" width="7.2" height="8" fill="#dcdcdc"/><rect x="1170.1" y="908.5" width="7.2" height="8" fill="#cdcd95"/><rect x="1177.1" y="908.5" width="7.2" height="8" fill="#cecece"/><rect x="1184" y="908.5" width="7.2" height="8" fill="#cecece"/><rect x="1191" y="908.5" width="7.2" height="8" fill="#dcdcdc"/><rect x="1197.9" y="908.5" width="7.2" height="8" fill="#dcdcdc"/><rect x="1204.9" y="908.5" width="7.2" height="8" fill="#cecece"/><rect x="1211.9" y="908.5" width="7.2" height="8" fill="#cdcd95"/><rect x="1218.8" y="908.5" width="7.2" height="8" fill="#cecece"/><rect x="1225.8" y="908.5" width="7.2" height="8" fill="#fff200"/><rect x="1232.7" y="908.5" width="7.2" height="8" fill="#e2e250"/><rect x="1239.7" y="908.5" width="7.2" height="8" fill="#dcdcdc"/><rect x="1246.7" y="908.5" width="7.2" height="8" fill="#dcdcdc"/><rect x="1253.6" y="908.5" width="7.2" height="8" fill="#dcdcdc"/><rect x="1316.3" y="908.5" width="7.2" height="8" fill="#e9e9e9"/><rect x="1427.6" y="908.5" width="7.2" height="8" fill="#dcdcdc"/><rect x="1128.3" y="916.2" width="7.2" height="8" fill="#c0c0c0"/><rect x="1135.3" y="916.2" width="7.2" height="8" fill="#e9e9e9"/><rect x="1142.3" y="916.2" width="7.2" height="8" fill="#e9e9e9"/><rect x="1170.1" y="916.2" width="7.2" height="8" fill="#cecece"/><rect x="1177.1" y="916.2" width="7.2" height="8" fill="#cdcd95"/><rect x="1184" y="916.2" width="7.2" height="8" fill="#f4f01a"/><rect x="1191" y="916.2" width="7.2" height="8" fill="#f4f01a"/><rect x="1197.9" y="916.2" width="7.2" height="8" fill="#e2e250"/><rect x="1232.7" y="916.2" width="7.2" height="8" fill="#dcdcdc"/><rect x="1135.3" y="924" width="7.2" height="8" fill="#dcdcdc"/><rect x="1253.6" y="924" width="7.2" height="8" fill="#e9e9e9"/><rect x="1260.6" y="924" width="7.2" height="8" fill="#e9e9e9"/><rect x="1142.3" y="931.8" width="7.2" height="8" fill="#dcdcdc"/><rect x="1246.7" y="931.8" width="7.2" height="8" fill="#e9e9e9"/><rect x="1253.6" y="931.8" width="7.2" height="8" fill="#e9e9e9"/><rect x="1260.6" y="931.8" width="7.2" height="8" fill="#e9e9e9"/><rect x="1274.5" y="931.8" width="7.2" height="8" fill="#e9e9e9"/><rect x="1441.5" y="931.8" width="7.1" height="8" fill="#e9e9e9"/><rect x="1246.7" y="939.6" width="7.2" height="8" fill="#dcdcdc"/><rect x="1267.5" y="939.6" width="7.2" height="8" fill="#e9e9e9"/><rect x="1274.5" y="939.6" width="7.2" height="8" fill="#dcdcdc"/><rect x="1149.2" y="947.3" width="7.2" height="8" fill="#dcdcdc"/><rect x="1309.3" y="947.3" width="7.2" height="8" fill="#e9e9e9"/><rect x="1246.7" y="955.1" width="7.2" height="8" fill="#cecece"/><rect x="1135.3" y="962.9" width="7.2" height="8" fill="#e9e9e9"/><rect x="1156.2" y="962.9" width="7.2" height="8" fill="#dcdcdc"/><rect x="1239.7" y="962.9" width="7.2" height="8" fill="#e9e9e9"/><rect x="1246.7" y="962.9" width="7.2" height="8" fill="#dcdcdc"/><rect x="1156.2" y="970.7" width="7.2" height="8" fill="#dcdcdc"/><rect x="1239.7" y="970.7" width="7.2" height="8" fill="#cecece"/><rect x="1316.3" y="970.7" width="7.2" height="8" fill="#e9e9e9"/><rect x="1163.1" y="978.5" width="7.2" height="8" fill="#dcdcdc"/><rect x="1232.7" y="978.5" width="7.2" height="8" fill="#dcdcdc"/><rect x="1246.7" y="978.5" width="7.2" height="8" fill="#e9e9e9"/><rect x="1253.6" y="978.5" width="7.2" height="8" fill="#e9e9e9"/><rect x="1260.6" y="978.5" width="7.2" height="8" fill="#e9e9e9"/><rect x="1323.2" y="978.5" width="7.2" height="8" fill="#e9e9e9"/><rect x="1170.1" y="986.2" width="7.2" height="8" fill="#cdcd95"/><rect x="1232.7" y="986.2" width="7.2" height="8" fill="#dcdcdc"/><rect x="1135.3" y="994" width="7.2" height="8" fill="#e9e9e9"/><rect x="1177.1" y="994" width="7.2" height="8" fill="#cdcd95"/><rect x="1184" y="994" width="7.2" height="8" fill="#cecece"/><rect x="1191" y="994" width="7.2" height="8" fill="#cdcd95"/><rect x="1197.9" y="994" width="7.2" height="8" fill="#dcdcdc"/><rect x="1225.8" y="994" width="7.2" height="8" fill="#cecece"/><rect x="1232.7" y="994" width="7.2" height="8" fill="#dcdcdc"/><rect x="1246.7" y="994" width="7.2" height="8" fill="#e9e9e9"/><rect x="1177.1" y="1001.8" width="7.2" height="8" fill="#e9e9e9"/><rect x="1211.9" y="1001.8" width="7.2" height="8" fill="#cecece"/><rect x="1218.8" y="1001.8" width="7.2" height="8" fill="#e9e9e9"/><rect x="1232.7" y="1001.8" width="7.2" height="8" fill="#cecece"/><rect x="1246.7" y="1001.8" width="7.2" height="8" fill="#e9e9e9"/><rect x="1260.6" y="1001.8" width="7.2" height="8" fill="#e9e9e9"/><rect x="1204.9" y="1009.6" width="7.2" height="8" fill="#cecece"/><rect x="1211.9" y="1009.6" width="7.2" height="8" fill="#e9e9e9"/><rect x="1218.8" y="1009.6" width="7.2" height="8" fill="#e9e9e9"/></g>
<path d="M1362.6,422.2 L1362.6,422.2 L1366.1,428 L1370.1,432 L1373.2,437 L1373.7,443 L1375.2,447 L1377.2,449.1 L1380.7,452.1 L1379.2,458.1 L1378.4,464.1 L1378.7,472.1 L1379.2,480.1 L1379.4,488.1 L1380.7,494.1 L1382.7,498.1 L1384.7,504.2 L1386.7,508.2 L1389.2,514.2 L1391.2,520.2 L1392.2,526.2 L1392.2,527 L1392.4,535 L1392.7,542 L1389.2,548 L1385.2,555.6 L1383.7,563.1 L1382.7,571.1 L1381.2,579.1 L1379.7,586.1 L1377.7,593.1 L1376,600.1 L1375.2,607.1 L1374.7,614.2 L1373.7,622.2 L1369.1,629.2 L1364.1,637.2 L1361.5,638 L1361.7,642 L1361.7,649 L1359.7,653.5 L1355.2,658 L1350.2,662.1 L1352.2,663.1 L1351.2,664.6 L1346.2,666.1 L1342.7,668.1 L1339.2,673.1 L1335.2,679.1 L1331.2,685.1 L1328.2,689.1 L1329.7,690.1 L1328.2,698.1 L1326.2,705.1 L1322.2,710.1 L1317.1,717.2 L1315.1,724.2 L1313.6,732.2 L1310.1,738.2 L1306.1,744.2 L1306.6,745 L1304.1,749 L1299.1,757 L1296.1,763.5 L1294.9,771.1 L1293.6,779.1 L1292.1,786.1 L1291.1,793.1 L1290.3,801.1 L1289.9,809.1 L1290.1,812.1 L1282.1,816.6 L1273.1,820.9 L1268.1,820.6 L1262.1,820.1 L1250,822.1 L1240,823.7 L1232,825 L1224.2,829 L1216.2,836 L1210.2,841.1 L1204.2,847.1 L1194.1,848.1 L1186.6,849.3 L1190.1,854.1 L1193.9,854.1 L1193.6,861.6 L1190.1,861.9 L1186.1,858.1 L1182.1,855.1 L1178.1,852.1 L1175.1,848.1 L1170.1,846.6 L1164.1,844.1 L1158.1,842.1 L1151.1,842.1 L1145,837.6 L1149.1,837.6 L1153.1,834 L1155.6,829 L1151.1,827 L1144,828 L1136,831 L1144,832 L1140,834 L1133,838.1 L1126,842.1 L1120,846.1 L1111.7,851.7 L1104.2,850.2 L1098.2,847.7 L1091.2,844.2 L1085.2,841.2 L1080.2,838.7 L1074.7,839.2 L1070.1,837.7 L1066.1,836.2 L1061.1,835.2 L1055.1,839 L1051.1,836.2 L1046.1,832.7 L1041.1,829.2 L1036.1,828.4 L1031.1,827.7 L1027.1,825.2 L1023.1,821.1 L1019.1,816.1 L1015,811.1 L1011,806.1 L1006.5,800.1 L1008.5,793.1 L1010,785.6 L1008,780.1 L1005,773.1 L1001,768.1 L997.2,762.8 L997.1,762.8 L997.1,422.2Z" fill="#f5deb3"/>
<path d="M1145,911.2 L1153.1,913.2 L1162.1,916.2 L1168.1,918.2 L1174.1,920.2 L1179.1,922.2 L1184.1,924.2 L1178.1,921 L1189.1,925 L1197.2,924.5 L1203.2,923.5 L1204.7,925.5 L1206.2,922.5 L1214.2,921 L1222.2,918.7 L1226.2,915.2 L1233.2,916.2 L1237.2,913.7 L1241.2,916.2 L1245.2,918.7 L1242.2,919 L1244.2,922 L1245.2,930 L1244.7,940 L1245.2,949.1 L1243.2,952.1 L1244.2,958.1 L1244.7,954.1 L1242.2,951.1 L1239.2,955.1 L1236.2,963.1 L1234.2,971.1 L1235.2,980.1 L1234.7,988.1 L1231.7,989.1 L1229.2,987.1 L1227.2,983.1 L1230.2,982.1 L1229.2,980.1 L1225.2,978.1 L1223.2,981.1 L1220.2,979.1 L1216.7,976.1 L1218.2,980.1 L1219.2,984.1 L1216.2,985.1 L1214.2,989.6 L1210.2,987.1 L1208.2,988.6 L1210.2,990.6 L1207.7,996.1 L1204.7,1001.7 L1196.2,998.2 L1188.1,998.7 L1181.6,998.7 L1180.6,994.6 L1186.6,993.6 L1186.1,992.1 L1179.1,992.6 L1175.1,989.1 L1171.1,984.1 L1167.1,979.1 L1164.6,973.1 L1162.1,965.1 L1164.6,966.6 L1167.3,963.3 L1162.1,959.1 L1158.3,958.4 L1157.1,951.1 L1153.1,943.1 L1149.1,935 L1145.1,927 L1143.1,922 L1144.1,915 L1143.2,922.1 L1144.2,910.1Z" fill="#f5deb3"/>
<path d="M1229.7,884.6 L1234.2,880.1 L1239.2,883.1 L1244.7,889.1 L1245.2,894.2 L1242.7,896.2 L1238.2,897.2 L1235.7,891.1 L1232.2,887.1 L1229.7,884.6Z" fill="#f5deb3"/>
<g shape-rendering="crispEdges"><rect x="1385.9" y="527.2" width="7.2" height="8" fill="#f4f01a"/><rect x="1392.8" y="527.2" width="7.2" height="8" fill="#ffd000"/><rect x="1399.8" y="527.2" width="7.2" height="8" fill="#c0c0c0"/><rect x="1385.9" y="535" width="7.2" height="8" fill="#ffd000"/><rect x="1392.8" y="535" width="7.2" height="8" fill="#ffd000"/><rect x="1399.8" y="535" width="7.2" height="8" fill="#c0c0c0"/><rect x="1385.9" y="542.8" width="7.2" height="8" fill="#ffd000"/><rect x="1392.8" y="542.8" width="7.2" height="8" fill="#fff200"/><rect x="1378.9" y="550.6" width="7.2" height="8" fill="#cecece"/><rect x="1385.9" y="550.6" width="7.2" height="8" fill="#ff9800"/><rect x="1392.8" y="550.6" width="7.2" height="8" fill="#fff200"/><rect x="1399.8" y="550.6" width="7.2" height="8" fill="#cdcd95"/><rect x="1378.9" y="558.4" width="7.2" height="8" fill="#e2e250"/><rect x="1385.9" y="558.4" width="7.2" height="8" fill="#ffd000"/><rect x="1392.8" y="558.4" width="7.2" height="8" fill="#e2e250"/><rect x="1413.7" y="558.4" width="7.2" height="8" fill="#e9e9e9"/><rect x="1378.9" y="566.1" width="7.2" height="8" fill="#f4f01a"/><rect x="1385.9" y="566.1" width="7.2" height="8" fill="#fff200"/><rect x="1392.8" y="566.1" width="7.2" height="8" fill="#e9e9e9"/><rect x="1406.7" y="566.1" width="7.2" height="8" fill="#e9e9e9"/><rect x="1378.9" y="573.9" width="7.2" height="8" fill="#f4f01a"/><rect x="1385.9" y="573.9" width="7.2" height="8" fill="#fff200"/><rect x="1392.8" y="573.9" width="7.2" height="8" fill="#cecece"/><rect x="1399.8" y="573.9" width="7.2" height="8" fill="#e9e9e9"/><rect x="1378.9" y="581.7" width="7.2" height="8" fill="#ffd000"/><rect x="1385.9" y="581.7" width="7.2" height="8" fill="#cdcd95"/><rect x="1392.8" y="581.7" width="7.2" height="8" fill="#cdcd95"/><rect x="1371.9" y="589.5" width="7.2" height="8" fill="#e2e250"/><rect x="1378.9" y="589.5" width="7.2" height="8" fill="#fff200"/><rect x="1385.9" y="589.5" width="7.2" height="8" fill="#dcdcdc"/><rect x="1371.9" y="597.2" width="7.2" height="8" fill="#f4f01a"/><rect x="1378.9" y="597.2" width="7.2" height="8" fill="#f4f01a"/><rect x="1385.9" y="597.2" width="7.2" height="8" fill="#cecece"/><rect x="1392.8" y="597.2" width="7.2" height="8" fill="#e9e9e9"/><rect x="1413.7" y="597.2" width="7.2" height="8" fill="#cecece"/><rect x="1371.9" y="605" width="7.2" height="8" fill="#f4f01a"/><rect x="1378.9" y="605" width="7.2" height="8" fill="#e2e250"/><rect x="1385.9" y="605" width="7.2" height="8" fill="#e9e9e9"/><rect x="1420.7" y="605" width="7.2" height="8" fill="#dcdcdc"/><rect x="1434.6" y="605" width="7.2" height="8" fill="#e9e9e9"/><rect x="1371.9" y="612.8" width="7.2" height="8" fill="#ffd000"/><rect x="1378.9" y="612.8" width="7.2" height="8" fill="#e2e250"/><rect x="1385.9" y="612.8" width="7.2" height="8" fill="#e9e9e9"/><rect x="1365" y="620.6" width="7.2" height="8" fill="#cecece"/><rect x="1371.9" y="620.6" width="7.2" height="8" fill="#ffd000"/><rect x="1378.9" y="620.6" width="7.2" height="8" fill="#e2e250"/><rect x="1385.9" y="620.6" width="7.2" height="8" fill="#cecece"/><rect x="1392.8" y="620.6" width="7.2" height="8" fill="#dcdcdc"/><rect x="1365" y="628.4" width="7.2" height="8" fill="#ffd000"/><rect x="1371.9" y="628.4" width="7.2" height="8" fill="#ffd000"/><rect x="1378.9" y="628.4" width="7.2" height="8" fill="#cdcd95"/><rect x="1385.9" y="628.4" width="7.2" height="8" fill="#dcdcdc"/><rect x="1358" y="636.1" width="7.2" height="8" fill="#f4f01a"/><rect x="1365" y="636.1" width="7.2" height="8" fill="#ffd000"/><rect x="1371.9" y="636.1" width="7.2" height="8" fill="#e2e250"/><rect x="1378.9" y="636.1" width="7.2" height="8" fill="#e9e9e9"/><rect x="1385.9" y="636.1" width="7.2" height="8" fill="#dcdcdc"/><rect x="1434.6" y="636.1" width="7.2" height="8" fill="#e9e9e9"/><rect x="1358" y="643.9" width="7.2" height="8" fill="#fff200"/><rect x="1365" y="643.9" width="7.2" height="8" fill="#ffd000"/><rect x="1371.9" y="643.9" width="7.2" height="8" fill="#cdcd95"/><rect x="1378.9" y="643.9" width="7.2" height="8" fill="#dcdcdc"/><rect x="1351.1" y="651.7" width="7.2" height="8" fill="#ff9800"/><rect x="1358" y="651.7" width="7.2" height="8" fill="#ffd000"/><rect x="1365" y="651.7" width="7.2" height="8" fill="#fff200"/><rect x="1371.9" y="651.7" width="7.2" height="8" fill="#cecece"/><rect x="1344.1" y="659.5" width="7.2" height="8" fill="#ff9800"/><rect x="1351.1" y="659.5" width="7.2" height="8" fill="#ff1400"/><rect x="1358" y="659.5" width="7.2" height="8" fill="#ffd000"/><rect x="1365" y="659.5" width="7.2" height="8" fill="#cdcd95"/><rect x="1371.9" y="659.5" width="7.2" height="8" fill="#dcdcdc"/><rect x="1337.1" y="667.3" width="7.2" height="8" fill="#ffd000"/><rect x="1344.1" y="667.3" width="7.2" height="8" fill="#ff9800"/><rect x="1351.1" y="667.3" width="7.2" height="8" fill="#ffd000"/><rect x="1358" y="667.3" width="7.2" height="8" fill="#e2e250"/><rect x="1330.2" y="675" width="7.2" height="8" fill="#cdcd95"/><rect x="1337.1" y="675" width="7.2" height="8" fill="#ffd000"/><rect x="1344.1" y="675" width="7.2" height="8" fill="#ffd000"/><rect x="1351.1" y="675" width="7.2" height="8" fill="#c0c0c0"/><rect x="1330.2" y="682.8" width="7.2" height="8" fill="#f4f01a"/><rect x="1337.1" y="682.8" width="7.2" height="8" fill="#fff200"/><rect x="1344.1" y="682.8" width="7.2" height="8" fill="#e9e9e9"/><rect x="1330.2" y="690.6" width="7.2" height="8" fill="#ffd000"/><rect x="1337.1" y="690.6" width="7.2" height="8" fill="#e2e250"/><rect x="1344.1" y="690.6" width="7.2" height="8" fill="#cecece"/><rect x="1330.2" y="698.4" width="7.2" height="8" fill="#fff200"/><rect x="1337.1" y="698.4" width="7.2" height="8" fill="#cecece"/><rect x="1344.1" y="698.4" width="7.2" height="8" fill="#dcdcdc"/><rect x="1316.3" y="706.2" width="7.2" height="8" fill="#f4f01a"/><rect x="1323.2" y="706.2" width="7.2" height="8" fill="#fff200"/><rect x="1330.2" y="706.2" width="7.2" height="8" fill="#cdcd95"/><rect x="1337.1" y="706.2" width="7.2" height="8" fill="#dcdcdc"/><rect x="1344.1" y="706.2" width="7.2" height="8" fill="#dcdcdc"/><rect x="1316.3" y="714" width="7.2" height="8" fill="#ffd000"/><rect x="1323.2" y="714" width="7.2" height="8" fill="#e2e250"/><rect x="1330.2" y="714" width="7.2" height="8" fill="#e9e9e9"/><rect x="1337.1" y="714" width="7.2" height="8" fill="#dcdcdc"/><rect x="1309.3" y="721.7" width="7.2" height="8" fill="#e2e250"/><rect x="1316.3" y="721.7" width="7.2" height="8" fill="#ffd000"/><rect x="1323.2" y="721.7" width="7.2" height="8" fill="#cdcd95"/><rect x="1337.1" y="721.7" width="7.2" height="8" fill="#e9e9e9"/><rect x="1351.1" y="721.7" width="7.2" height="8" fill="#cecece"/><rect x="1309.3" y="729.5" width="7.2" height="8" fill="#f4f01a"/><rect x="1316.3" y="729.5" width="7.2" height="8" fill="#fff200"/><rect x="1330.2" y="729.5" width="7.2" height="8" fill="#dcdcdc"/><rect x="1337.1" y="729.5" width="7.2" height="8" fill="#e9e9e9"/><rect x="1344.1" y="729.5" width="7.2" height="8" fill="#e9e9e9"/><rect x="1351.1" y="729.5" width="7.2" height="8" fill="#e9e9e9"/><rect x="1302.3" y="737.3" width="7.2" height="8" fill="#cdcd95"/><rect x="1309.3" y="737.3" width="7.2" height="8" fill="#fff200"/><rect x="1316.3" y="737.3" width="7.2" height="8" fill="#e2e250"/><rect x="1330.2" y="737.3" width="7.2" height="8" fill="#e9e9e9"/><rect x="1344.1" y="737.3" width="7.2" height="8" fill="#dcdcdc"/><rect x="1358" y="737.3" width="7.2" height="8" fill="#e9e9e9"/><rect x="1365" y="737.3" width="7.2" height="8" fill="#e9e9e9"/><rect x="1295.4" y="745.1" width="7.2" height="8" fill="#e9e9e9"/><rect x="1302.3" y="745.1" width="7.2" height="8" fill="#f4f01a"/><rect x="1309.3" y="745.1" width="7.2" height="8" fill="#f4f01a"/><rect x="1316.3" y="745.1" width="7.2" height="8" fill="#cecece"/><rect x="1337.1" y="745.1" width="7.2" height="8" fill="#e9e9e9"/><rect x="1371.9" y="745.1" width="7.2" height="8" fill="#e9e9e9"/><rect x="1295.4" y="752.9" width="7.2" height="8" fill="#f4f01a"/><rect x="1302.3" y="752.9" width="7.2" height="8" fill="#f4f01a"/><rect x="1309.3" y="752.9" width="7.2" height="8" fill="#cdcd95"/><rect x="1316.3" y="752.9" width="7.2" height="8" fill="#cecece"/><rect x="1323.2" y="752.9" width="7.2" height="8" fill="#c0c0c0"/><rect x="1337.1" y="752.9" width="7.2" height="8" fill="#e9e9e9"/><rect x="1441.5" y="752.9" width="7.1" height="8" fill="#e9e9e9"/><rect x="1295.4" y="760.6" width="7.2" height="8" fill="#f4f01a"/><rect x="1302.3" y="760.6" width="7.2" height="8" fill="#e2e250"/><rect x="1316.3" y="760.6" width="7.2" height="8" fill="#e9e9e9"/><rect x="1337.1" y="760.6" width="7.2" height="8" fill="#e9e9e9"/><rect x="1295.4" y="768.4" width="7.2" height="8" fill="#ffd000"/><rect x="1302.3" y="768.4" width="7.2" height="8" fill="#cecece"/><rect x="1309.3" y="768.4" width="7.2" height="8" fill="#e9e9e9"/><rect x="1323.2" y="768.4" width="7.2" height="8" fill="#e9e9e9"/><rect x="1288.4" y="776.2" width="7.2" height="8" fill="#f4f01a"/><rect x="1295.4" y="776.2" width="7.2" height="8" fill="#fff200"/><rect x="1302.3" y="776.2" width="7.2" height="8" fill="#cdcd95"/><rect x="1337.1" y="776.2" width="7.2" height="8" fill="#e9e9e9"/><rect x="1365" y="776.2" width="7.2" height="8" fill="#e9e9e9"/><rect x="1413.7" y="776.2" width="7.2" height="8" fill="#e9e9e9"/><rect x="1288.4" y="784" width="7.2" height="8" fill="#f4f01a"/><rect x="1295.4" y="784" width="7.2" height="8" fill="#f4f01a"/><rect x="1302.3" y="784" width="7.2" height="8" fill="#cdcd95"/><rect x="1337.1" y="784" width="7.2" height="8" fill="#e9e9e9"/><rect x="1344.1" y="784" width="7.2" height="8" fill="#e9e9e9"/><rect x="1371.9" y="784" width="7.2" height="8" fill="#e9e9e9"/><rect x="1288.4" y="791.8" width="7.2" height="8" fill="#f4f01a"/><rect x="1295.4" y="791.8" width="7.2" height="8" fill="#e2e250"/><rect x="1302.3" y="791.8" width="7.2" height="8" fill="#cecece"/><rect x="1344.1" y="791.8" width="7.2" height="8" fill="#dcdcdc"/><rect x="1351.1" y="791.8" width="7.2" height="8" fill="#e9e9e9"/><rect x="1288.4" y="799.5" width="7.2" height="8" fill="#f4f01a"/><rect x="1295.4" y="799.5" width="7.2" height="8" fill="#f4f01a"/><rect x="1302.3" y="799.5" width="7.2" height="8" fill="#cdcd95"/><rect x="1344.1" y="799.5" width="7.2" height="8" fill="#dcdcdc"/><rect x="1351.1" y="799.5" width="7.2" height="8" fill="#dcdcdc"/><rect x="1392.8" y="799.5" width="7.2" height="8" fill="#e9e9e9"/><rect x="1281.5" y="807.3" width="7.2" height="8" fill="#e9e9e9"/><rect x="1288.4" y="807.3" width="7.2" height="8" fill="#f4f01a"/><rect x="1295.4" y="807.3" width="7.2" height="8" fill="#e2e250"/><rect x="1302.3" y="807.3" width="7.2" height="8" fill="#dcdcdc"/><rect x="1351.1" y="807.3" width="7.2" height="8" fill="#dcdcdc"/><rect x="1239.7" y="815.1" width="7.2" height="8" fill="#cdcd95"/><rect x="1246.7" y="815.1" width="7.2" height="8" fill="#cdcd95"/><rect x="1253.6" y="815.1" width="7.2" height="8" fill="#cdcd95"/><rect x="1260.6" y="815.1" width="7.2" height="8" fill="#f4f01a"/><rect x="1267.5" y="815.1" width="7.2" height="8" fill="#cdcd95"/><rect x="1274.5" y="815.1" width="7.2" height="8" fill="#f4f01a"/><rect x="1281.5" y="815.1" width="7.2" height="8" fill="#f4f01a"/><rect x="1288.4" y="815.1" width="7.2" height="8" fill="#f4f01a"/><rect x="1295.4" y="815.1" width="7.2" height="8" fill="#cecece"/><rect x="1302.3" y="815.1" width="7.2" height="8" fill="#e9e9e9"/><rect x="1365" y="815.1" width="7.2" height="8" fill="#e9e9e9"/><rect x="1406.7" y="815.1" width="7.2" height="8" fill="#e9e9e9"/></g>
<path d="M1362.6,422.2 L1366.1,428 L1370.1,432 L1373.2,437 L1373.7,443 L1375.2,447 L1377.2,449.1 L1380.7,452.1 L1379.2,458.1 L1378.4,464.1 L1378.7,472.1 L1379.2,480.1 L1379.4,488.1 L1380.7,494.1 L1382.7,498.1 L1384.7,504.2 L1386.7,508.2 L1389.2,514.2 L1391.2,520.2 L1392.2,526.2 L1392.2,527 L1392.4,535 L1392.7,542 L1389.2,548 L1385.2,555.6 L1383.7,563.1 L1382.7,571.1 L1381.2,579.1 L1379.7,586.1 L1377.7,593.1 L1376,600.1 L1375.2,607.1 L1374.7,614.2 L1373.7,622.2 L1369.1,629.2 L1364.1,637.2 L1361.5,638 L1361.7,642 L1361.7,649 L1359.7,653.5 L1355.2,658 L1350.2,662.1 L1352.2,663.1 L1351.2,664.6 L1346.2,666.1 L1342.7,668.1 L1339.2,673.1 L1335.2,679.1 L1331.2,685.1 L1328.2,689.1 L1329.7,690.1 L1328.2,698.1 L1326.2,705.1 L1322.2,710.1 L1317.1,717.2 L1315.1,724.2 L1313.6,732.2 L1310.1,738.2 L1306.1,744.2 L1306.6,745 L1304.1,749 L1299.1,757 L1296.1,763.5 L1294.9,771.1 L1293.6,779.1 L1292.1,786.1 L1291.1,793.1 L1290.3,801.1 L1289.9,809.1 L1290.1,812.1 L1282.1,816.6 L1273.1,820.9 L1268.1,820.6 L1262.1,820.1 L1250,822.1 L1240,823.7 L1232,825 L1224.2,829 L1216.2,836 L1210.2,841.1 L1204.2,847.1 L1194.1,848.1 L1186.6,849.3 L1190.1,854.1 L1193.9,854.1 L1193.6,861.6 L1190.1,861.9 L1186.1,858.1 L1182.1,855.1 L1178.1,852.1 L1175.1,848.1 L1170.1,846.6 L1164.1,844.1 L1158.1,842.1 L1151.1,842.1 L1145,837.6 L1149.1,837.6 L1153.1,834 L1155.6,829 L1151.1,827 L1144,828 L1136,831 L1144,832 L1140,834 L1133,838.1 L1126,842.1 L1120,846.1 L1111.7,851.7 L1104.2,850.2 L1098.2,847.7 L1091.2,844.2 L1085.2,841.2 L1080.2,838.7 L1074.7,839.2 L1070.1,837.7 L1066.1,836.2 L1061.1,835.2 L1055.1,839 L1051.1,836.2 L1046.1,832.7 L1041.1,829.2 L1036.1,828.4 L1031.1,827.7 L1027.1,825.2 L1023.1,821.1 L1019.1,816.1 L1015,811.1 L1011,806.1 L1006.5,800.1 L1008.5,793.1 L1010,785.6 L1008,780.1 L1005,773.1 L1001,768.1 L997.2,762.8 M1145,911.2 L1153.1,913.2 L1162.1,916.2 L1168.1,918.2 L1174.1,920.2 L1179.1,922.2 L1184.1,924.2 L1178.1,921 L1189.1,925 L1197.2,924.5 L1203.2,923.5 L1204.7,925.5 L1206.2,922.5 L1214.2,921 L1222.2,918.7 L1226.2,915.2 L1233.2,916.2 L1237.2,913.7 L1241.2,916.2 L1245.2,918.7 L1242.2,919 L1244.2,922 L1245.2,930 L1244.7,940 L1245.2,949.1 L1243.2,952.1 L1244.2,958.1 L1244.7,954.1 L1242.2,951.1 L1239.2,955.1 L1236.2,963.1 L1234.2,971.1 L1235.2,980.1 L1234.7,988.1 L1231.7,989.1 L1229.2,987.1 L1227.2,983.1 L1230.2,982.1 L1229.2,980.1 L1225.2,978.1 L1223.2,981.1 L1220.2,979.1 L1216.7,976.1 L1218.2,980.1 L1219.2,984.1 L1216.2,985.1 L1214.2,989.6 L1210.2,987.1 L1208.2,988.6 L1210.2,990.6 L1207.7,996.1 L1204.7,1001.7 L1196.2,998.2 L1188.1,998.7 L1181.6,998.7 L1180.6,994.6 L1186.6,993.6 L1186.1,992.1 L1179.1,992.6 L1175.1,989.1 L1171.1,984.1 L1167.1,979.1 L1164.6,973.1 L1162.1,965.1 L1164.6,966.6 L1167.3,963.3 L1162.1,959.1 L1158.3,958.4 L1157.1,951.1 L1153.1,943.1 L1149.1,935 L1145.1,927 L1143.1,922 L1144.1,915 L1143.2,922.1 L1144.2,910.1Z M1120.6,880.6 L1123.7,875.9 L1128.2,877.6 L1129.5,888.1 L1122.7,893.6 L1120.6,880.6Z M1145.2,903.6 L1146.7,907.6 M1229.7,884.6 L1234.2,880.1 L1239.2,883.1 L1244.7,889.1 L1245.2,894.2 L1242.7,896.2 L1238.2,897.2 L1235.7,891.1 L1232.2,887.1 L1229.7,884.6Z M1236.7,900.7 L1247.2,898.2 L1249.7,902.7 L1245.2,904.7 L1241.7,904.2 L1242.7,906.2 L1241.2,908.2 L1238.7,906.2 L1240.2,903.2 L1236.7,900.7Z M1211.2,995.1 L1215.2,992.1 L1218.2,994.1 L1217.2,998.2 L1213.2,998.2 L1211.2,995.1Z M1236.4,970.6 L1239.7,969.6 L1240.2,972.6 L1237.7,974.1 L1236.4,970.6Z M1383.7,422.2 L1380.2,427 L1377.2,430 L1376,435 L1375.2,440 L1376.2,444 L1377.2,448.6 M1383.7,422.2 L1382.2,430 L1379.7,440 L1377.2,448.6 M1385.7,486.1 L1387.7,485.6 L1388.2,490.1 L1388.7,494.1 L1387.7,496.1 L1386.4,490.1 L1385.7,486.1Z M1387.7,498.1 L1390.2,499.1 L1389.2,503.2 L1387.2,506.2 L1386.2,504.2 L1387.7,498.1Z" fill="none" stroke="#000" stroke-width="2.0" stroke-linejoin="round" stroke-linecap="round"/>
<path d="M1158.6,840.1 L1160.1,836 L1163.1,834.5 L1167.1,836.5 L1167.1,840.1 L1163.1,842.1 L1158.6,840.1Z" fill="#222" stroke="#000" stroke-width="1.2"/>
<path d="M997.1,453.3 L1042,453.3 L1042,699.8 L1040.7,701 L1040.7,826 M1042,546.8 L1266.2,546.8 L1270.7,540.8 L1279.7,533.4 L1284.2,531.3 L1291.7,534.9 L1290,534 L1293,535 L1298,534.5 L1304,534 L1307.5,535 L1311,536.5 L1316,535.5 L1320.1,537 L1324.6,540 L1328.6,546 L1330.6,550.5 L1333.1,552 L1335.1,549.5 L1336.6,546.5 L1340.1,544.5 L1345.1,543 L1349.1,543.5 L1351.1,541 L1350.1,537 L1349.1,534 L1350.6,531.5 L1354.1,530 L1359.1,528.5 L1362.1,527 L1372.6,523.5 L1381.6,522.9 L1390.5,520.8 M1042.1,699.8 L1046.1,701.8 L1050.2,703.1 L1054.2,703.8 L1057.6,705.8 L1060.2,703.8 L1062.3,701.8 L1067,702.2 L1071.7,701.8 L1074.3,704.5 L1077,706.5 L1079.1,709.9 L1081.7,712.6 L1083.1,716.6 L1085.8,720.6 L1088.1,724.6 L1090.5,722 L1091.8,717.3 L1094.5,718.6 L1098.5,720.2 L1103.2,720.6 L1107.3,722.6 L1109.6,726.7 L1109.3,731.4 L1111.3,736.1 L1114.7,738.1 L1114.9,742.1 L1118.7,744.1 L1124.1,746.8 L1128.1,749.2 L1132.1,752.9 L1136.2,756.2 L1138.9,760.3 L1142.2,764.3 L1145.6,765.6 L1148.5,765 L1149.3,760.3 L1151.6,756.9 L1155,755.6 L1159.7,756.5 L1164.4,755.6 L1168.4,758.2 L1173.1,760.9 L1177.8,762.9 L1183.2,764.3 L1187.9,763.2 L1191.9,761.9 L1196.6,764.3 L1202,766.3 L1207.4,768.1 L1210.8,765.6 L1215.5,764.3 L1219.5,762.7 L1224.9,762.3 L1230.2,764.3 L1233.6,767.7 L1234.9,772.4 L1235.6,777.7 L1239,781.1 L1245,785.1 L1250,788.2 L1283.1,809.3" fill="none" stroke="#000" stroke-width="1.9" stroke-linejoin="round"/>
<rect x="1347.6" y="608.9" width="55.7" height="77.8" fill="none" stroke="#0000ff" stroke-width="3.5" stroke-linejoin="round"/>
<rect x="1180.5" y="826.8" width="83.5" height="93.4" fill="none" stroke="#0000ff" stroke-width="3.5" stroke-linejoin="round"/>
<rect x="1369.7" y="493.9" width="13" height="13" fill="#000"/>
<rect x="1319.1" y="691.6" width="13" height="13" fill="#000"/>
<rect x="1145.3" y="814" width="13" height="13" fill="#000"/>
<text x="1360" y="506.7" font-size="20.3" text-anchor="end">Brisbane</text>
<text x="1278.3" y="723.2" font-size="20.3" text-anchor="middle">Sydney</text>
<text x="1104.2" y="802.6" font-size="20.3" text-anchor="start">Melbourne</text>
<text x="1250.2" y="647.2" font-size="20.3" text-anchor="middle">NSW</text>
<text x="1083.5" y="765.6" font-size="20.3" text-anchor="middle">VIC</text>
<text x="1195.9" y="958.6" font-size="20.3" text-anchor="middle">TAS</text>
<text x="1376" y="649.3" font-size="25" text-anchor="middle">NA</text>
<text x="1222.9" y="867.1" font-size="25" text-anchor="middle">EBS</text>
<text x="1363.3" y="898.1" font-size="26" text-anchor="middle">Tasman Sea</text>
<rect x="997.1" y="422.2" width="451.3" height="622.4" fill="none" stroke="#000" stroke-width="1.7"/>
<line x1="984.1" y1="422.2" x2="997.1" y2="422.2" stroke="#000" stroke-width="1.7"/>
<text transform="translate(977.9,425.4) rotate(-90)" font-size="25.4" text-anchor="middle">25</text>
<line x1="984.1" y1="577.8" x2="997.1" y2="577.8" stroke="#000" stroke-width="1.7"/>
<text transform="translate(977.9,581) rotate(-90)" font-size="25.4" text-anchor="middle">30</text>
<line x1="984.1" y1="733.4" x2="997.1" y2="733.4" stroke="#000" stroke-width="1.7"/>
<text transform="translate(977.9,736.6) rotate(-90)" font-size="25.4" text-anchor="middle">35</text>
<line x1="984.1" y1="889" x2="997.1" y2="889" stroke="#000" stroke-width="1.7"/>
<text transform="translate(977.9,892.2) rotate(-90)" font-size="25.4" text-anchor="middle">40</text>
<line x1="984.1" y1="1044.6" x2="997.1" y2="1044.6" stroke="#000" stroke-width="1.7"/>
<text transform="translate(977.9,1047.8) rotate(-90)" font-size="25.4" text-anchor="middle">45</text>
<line x1="1013.5" y1="1044.6" x2="1013.5" y2="1057.1" stroke="#000" stroke-width="1.7"/>
<text x="1013.5" y="1081" font-size="25.4" text-anchor="middle">140</text>
<line x1="1152.7" y1="1044.6" x2="1152.7" y2="1057.1" stroke="#000" stroke-width="1.7"/>
<text x="1152.7" y="1081" font-size="25.4" text-anchor="middle">145</text>
<line x1="1291.9" y1="1044.6" x2="1291.9" y2="1057.1" stroke="#000" stroke-width="1.7"/>
<text x="1291.9" y="1081" font-size="25.4" text-anchor="middle">150</text>
<line x1="1431.1" y1="1044.6" x2="1431.1" y2="1057.1" stroke="#000" stroke-width="1.7"/>
<text x="1431.1" y="1081" font-size="25.4" text-anchor="middle">155</text>
<text x="996" y="374.6" font-size="36.5">(c)</text>
<text x="1222" y="1141" font-size="36" text-anchor="middle">Longitude</text>
<defs><linearGradient id="cb" x1="0" y1="1" x2="0" y2="0">
<stop offset="0" stop-color="#fbfbfb"/>
<stop offset="0.19" stop-color="#dedede"/>
<stop offset="0.245" stop-color="#d3d3d3"/>
<stop offset="0.3" stop-color="#dddda8"/>
<stop offset="0.36" stop-color="#f0f060"/>
<stop offset="0.47" stop-color="#ffff30"/>
<stop offset="0.59" stop-color="#ffff00"/>
<stop offset="0.66" stop-color="#ffda18"/>
<stop offset="0.735" stop-color="#ffa030"/>
<stop offset="0.86" stop-color="#ff5a20"/>
<stop offset="1" stop-color="#ff0000"/>
</linearGradient></defs>
<rect x="1472.4" y="449.9" width="38.6" height="563" fill="url(#cb)" stroke="#000" stroke-width="2.3"/>
<line x1="1511" y1="1008.7" x2="1528.7" y2="1008.7" stroke="#000" stroke-width="1.7"/>
<text x="1529.2" y="1018.5" font-size="25.4">0</text>
<line x1="1511" y1="909.9" x2="1528.7" y2="909.9" stroke="#000" stroke-width="1.7"/>
<text x="1529.2" y="919.7" font-size="25.4">500</text>
<line x1="1511" y1="811" x2="1528.7" y2="811" stroke="#000" stroke-width="1.7"/>
<text x="1529.2" y="820.8" font-size="25.4">1000</text>
<line x1="1511" y1="712.3" x2="1528.7" y2="712.3" stroke="#000" stroke-width="1.7"/>
<text x="1529.2" y="722.1" font-size="25.4">1500</text>
<line x1="1511" y1="613" x2="1528.7" y2="613" stroke="#000" stroke-width="1.7"/>
<text x="1529.2" y="622.8" font-size="25.4">2000</text>
<line x1="1511" y1="513.6" x2="1528.7" y2="513.6" stroke="#000" stroke-width="1.7"/>
<text x="1529.2" y="523.4" font-size="25.4">2500</text>
<text transform="translate(1628,733.8) rotate(-90)" font-size="35.5" text-anchor="middle">Density per 0.25 degree grid square</text>
</g>
</svg></div></body></html>
